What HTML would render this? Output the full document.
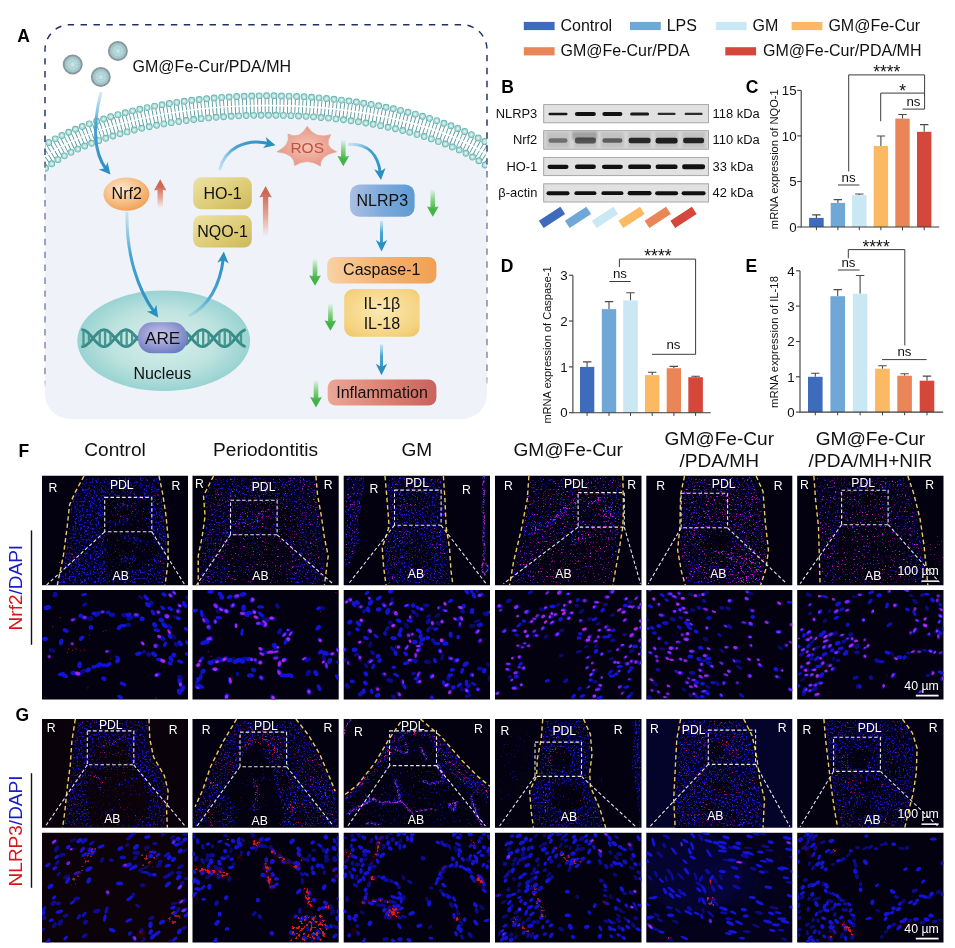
<!DOCTYPE html>
<html lang="en"><head><meta charset="utf-8"><title>Figure</title>
<style>html,body{margin:0;padding:0;background:#fff}svg{display:block}text{font-family:"Liberation Sans", Arial, Helvetica, sans-serif;fill:#111}.b{font-weight:bold;font-size:17.5px;fill:#000}.w{fill:#fff;font-size:12.2px}</style></head>
<body>
<svg width="955" height="948" viewBox="0 0 955 948">
<defs>
<linearGradient id="gOr" x1="0" y1="0" x2="1" y2="0"><stop offset="0" stop-color="#f8d2a4"/><stop offset=".5" stop-color="#f4b270"/><stop offset="1" stop-color="#f0a152"/></linearGradient>
<radialGradient id="gNrf" cx=".4" cy=".35" r=".7"><stop offset="0" stop-color="#fce9cc"/><stop offset=".55" stop-color="#f7c088"/><stop offset="1" stop-color="#ef9f55"/></radialGradient>
<radialGradient id="gYe" cx=".5" cy=".45" r=".75"><stop offset="0" stop-color="#fbe9b4"/><stop offset=".7" stop-color="#f5d380"/><stop offset="1" stop-color="#ecc25e"/></radialGradient>
<linearGradient id="gOl" x1="0" y1="0" x2="1" y2="1"><stop offset="0" stop-color="#ece2a4"/><stop offset=".6" stop-color="#dccb74"/><stop offset="1" stop-color="#ccb85c"/></linearGradient>
<linearGradient id="gBl" x1="0" y1="0" x2="1" y2="0"><stop offset="0" stop-color="#a9bfe4"/><stop offset=".5" stop-color="#7eaadb"/><stop offset="1" stop-color="#5d9bd3"/></linearGradient>
<linearGradient id="gRd" x1="0" y1="0" x2="1" y2="0"><stop offset="0" stop-color="#eba696"/><stop offset=".6" stop-color="#da7c6e"/><stop offset="1" stop-color="#c9625c"/></linearGradient>
<radialGradient id="gRos" cx=".5" cy=".5" r=".6"><stop offset="0" stop-color="#f5c4b4"/><stop offset="1" stop-color="#e38f80"/></radialGradient>
<radialGradient id="gNuc" cx=".5" cy=".5" r=".55"><stop offset="0" stop-color="#d9f0ec"/><stop offset=".55" stop-color="#bfe3e0"/><stop offset="1" stop-color="#8fcfce"/></radialGradient>
<radialGradient id="gAre" cx=".45" cy=".4" r=".7"><stop offset="0" stop-color="#c9c9ea"/><stop offset=".6" stop-color="#8f95cf"/><stop offset="1" stop-color="#5f78bd"/></radialGradient>
<radialGradient id="gNp" cx=".5" cy=".5" r=".5"><stop offset="0" stop-color="#cfe6e6"/><stop offset=".75" stop-color="#a9cfd2"/><stop offset="1" stop-color="#7f9aa3"/></radialGradient>
<linearGradient id="gGreen" x1="0" y1="0" x2="0" y2="1"><stop offset="0" stop-color="#4db848" stop-opacity="0"/><stop offset=".45" stop-color="#4db848" stop-opacity=".9"/><stop offset="1" stop-color="#3fae3f"/></linearGradient>
<linearGradient id="gRedUp" x1="0" y1="1" x2="0" y2="0"><stop offset="0" stop-color="#d8705f" stop-opacity="0"/><stop offset=".5" stop-color="#d8705f" stop-opacity=".85"/><stop offset="1" stop-color="#c95848"/></linearGradient>
<linearGradient id="gCell" x1="0" y1="0" x2="0" y2="1"><stop offset="0" stop-color="#e9eff8"/><stop offset="1" stop-color="#eef2f9"/></linearGradient>
<linearGradient id="gFadeV" x1="0" y1="0" x2="0" y2="1"><stop offset="0" stop-color="#fff"/><stop offset=".8" stop-color="#fff"/><stop offset="1" stop-color="#000"/></linearGradient>
<mask id="mFade" maskUnits="userSpaceOnUse" x="30" y="10" width="470" height="420"><rect x="30" y="10" width="470" height="420" fill="url(#gFadeM)"/></mask>
<linearGradient id="gFadeM" gradientUnits="userSpaceOnUse" x1="0" y1="10" x2="0" y2="430"><stop offset="0" stop-color="#fff"/><stop offset=".78" stop-color="#fff"/><stop offset=".93" stop-color="#000"/></linearGradient>
<marker id="ah" viewBox="0 0 10 10" refX="5" refY="5" markerWidth="5.2" markerHeight="5.2" orient="auto-start-reverse"><path d="M0,0 L10,5 L0,10 L2.5,5 Z" fill="#2f93c4"/></marker>
<filter id="blur1" x="-20%" y="-30%" width="140%" height="160%"><feGaussianBlur stdDeviation="0.55"/></filter>
<filter id="blur2" x="-20%" y="-50%" width="140%" height="200%"><feGaussianBlur stdDeviation="1.1"/></filter>
<filter id="blurN" x="-5%" y="-5%" width="110%" height="110%"><feGaussianBlur stdDeviation="0.6"/></filter>
<filter id="blurS" x="-5%" y="-5%" width="110%" height="110%"><feGaussianBlur stdDeviation="0.35"/></filter>
<filter id="hzb" x="-30%" y="-30%" width="160%" height="160%"><feGaussianBlur stdDeviation="7"/></filter>
<filter id="rough" x="-10%" y="-10%" width="120%" height="120%" color-interpolation-filters="sRGB"><feTurbulence type="fractalNoise" baseFrequency=".45" numOctaves="2" seed="4"/><feColorMatrix type="matrix" values="0 0 0 0 0 0 0 0 0 0 0 0 0 0 0 6 0 0 0 -2.6"/><feComposite in="SourceGraphic" operator="in"/><feGaussianBlur stdDeviation=".4"/></filter>
<filter id="rough2" x="-10%" y="-10%" width="120%" height="120%" color-interpolation-filters="sRGB"><feTurbulence type="fractalNoise" baseFrequency=".55" numOctaves="2" seed="9"/><feColorMatrix type="matrix" values="0 0 0 0 0 0 0 0 0 0 0 0 0 0 0 0 7 0 0 -3.4"/><feComposite in="SourceGraphic" operator="in"/><feGaussianBlur stdDeviation=".35"/></filter>
<linearGradient id="gBorder" gradientUnits="userSpaceOnUse" x1="0" y1="20" x2="0" y2="400"><stop offset="0" stop-color="#1f2e69"/><stop offset=".33" stop-color="#1f2e69"/><stop offset=".42" stop-color="#7c7fa4"/><stop offset=".93" stop-color="#8587a6"/><stop offset=".97" stop-color="#8587a6" stop-opacity="0"/></linearGradient>
</defs>
<g id="panelA"><clipPath id="cpBox"><path d="M45,49.7 A25,25 0 0 1 70,24.7 L462,24.7 A25,25 0 0 1 487,49.7 L487,394 A25,25 0 0 1 462,419 L70,419 A25,25 0 0 1 45,394 Z"/></clipPath><g clip-path="url(#cpBox)"><path d="M20,179.4 A258,103 0 0 1 512,175.6 L512,440 L20,440 Z" fill="#eff3f9"/><path d="M30,168.3 A258,103 0 0 1 502,165.6" fill="none" stroke="#fff" stroke-width="25"/><path d="M30,168.3 A258,103 0 0 1 502,165.6" fill="none" stroke="#4f9499" stroke-width="16.5" stroke-dasharray="0.85 2.9"/><path d="M30,168.3 A258,103 0 0 1 502,165.6" fill="none" stroke="#fff" stroke-width="1.4"/><path d="M30,154.9 A270,112.7 0 0 1 502,152.6" fill="none" stroke="#6db3b5" stroke-width="6.9" stroke-linecap="round" stroke-dasharray="0 7.5"/><path d="M30,154.9 A270,112.7 0 0 1 502,152.6" fill="none" stroke="#a9dcd8" stroke-width="5.1" stroke-linecap="round" stroke-dasharray="0 7.5"/><path d="M30,154.9 A270,112.7 0 0 1 502,152.6" fill="none" stroke="#def3e6" stroke-width="2.6" stroke-linecap="round" stroke-dasharray="0 7.5"/><path d="M30,184.2 A246,93.3 0 0 1 502,180.3" fill="none" stroke="#6db3b5" stroke-width="6.9" stroke-linecap="round" stroke-dasharray="0 7.5"/><path d="M30,184.2 A246,93.3 0 0 1 502,180.3" fill="none" stroke="#a9dcd8" stroke-width="5.1" stroke-linecap="round" stroke-dasharray="0 7.5"/><path d="M30,184.2 A246,93.3 0 0 1 502,180.3" fill="none" stroke="#def3e6" stroke-width="2.6" stroke-linecap="round" stroke-dasharray="0 7.5"/></g><path d="M45,400 L45,49.7 A25,25 0 0 1 70,24.7 L462,24.7 A25,25 0 0 1 487,49.7 L487,400" fill="none" stroke="url(#gBorder)" stroke-width="1.45" stroke-dasharray="6.4 6.5"/><text class="b" x="17.2" y="42">A</text><circle cx="72.7" cy="64.5" r="9.2" fill="url(#gNp)" stroke="#8b9399" stroke-width="1.5"/><circle cx="72.7" cy="64.5" r="6.3" fill="none" stroke="#8fbcc4" stroke-width="1.6" stroke-dasharray="0.9 1.1" opacity=".8"/><circle cx="72.7" cy="64.5" r="3" fill="none" stroke="#9cc6cc" stroke-width="1.6" stroke-dasharray="0.9 1.1" opacity=".8"/><circle cx="117.9" cy="51" r="9.2" fill="url(#gNp)" stroke="#8b9399" stroke-width="1.5"/><circle cx="117.9" cy="51" r="6.3" fill="none" stroke="#8fbcc4" stroke-width="1.6" stroke-dasharray="0.9 1.1" opacity=".8"/><circle cx="117.9" cy="51" r="3" fill="none" stroke="#9cc6cc" stroke-width="1.6" stroke-dasharray="0.9 1.1" opacity=".8"/><circle cx="100.8" cy="77" r="9.2" fill="url(#gNp)" stroke="#8b9399" stroke-width="1.5"/><circle cx="100.8" cy="77" r="6.3" fill="none" stroke="#8fbcc4" stroke-width="1.6" stroke-dasharray="0.9 1.1" opacity=".8"/><circle cx="100.8" cy="77" r="3" fill="none" stroke="#9cc6cc" stroke-width="1.6" stroke-dasharray="0.9 1.1" opacity=".8"/><text x="132.6" y="72" font-size="16">GM@Fe-Cur/PDA/MH</text><ellipse cx="163.7" cy="340.7" rx="86.4" ry="50.3" fill="url(#gNuc)"/><polyline points="82.5,329.8 84,330.1 85.5,330.8 87,331.9 88.5,333.2 90,334.7 91.5,336.4 93,338.2 94.5,340 96,341.7 97.5,343.2 99,344.5 100.5,345.6 102,346.3 103.5,346.6 105,346.5 106.5,346.1 108,345.3 109.5,344.1 111,342.7 112.5,341.1 114,339.4 115.5,337.6 117,335.8 118.5,334.2 120,332.7 121.5,331.5 123,330.6 124.5,330 126,329.8 127.5,330 129,330.6 130.5,331.5 132,332.7 133.5,334.2 135,335.8 136.5,337.6 138,339.4" fill="none" stroke="#3a8c88" stroke-width="2.9" stroke-linecap="round" stroke-linejoin="round"/><polyline points="82.5,346.6 84,346.3 85.5,345.6 87,344.5 88.5,343.2 90,341.7 91.5,340 93,338.2 94.5,336.4 96,334.7 97.5,333.2 99,331.9 100.5,330.8 102,330.1 103.5,329.8 105,329.9 106.5,330.3 108,331.1 109.5,332.3 111,333.7 112.5,335.3 114,337 115.5,338.8 117,340.6 118.5,342.2 120,343.7 121.5,344.9 123,345.8 124.5,346.4 126,346.6 127.5,346.4 129,345.8 130.5,344.9 132,343.7 133.5,342.2 135,340.6 136.5,338.8 138,337" fill="none" stroke="#3a8c88" stroke-width="2.9" stroke-linecap="round" stroke-linejoin="round"/><path d="M83.5,330.6 V345.8" stroke="#469692" stroke-width="2.3"/><path d="M88.9,334.2 V342.2" stroke="#469692" stroke-width="2.3"/><path d="M99.7,331.9 V344.5" stroke="#469692" stroke-width="2.3"/><path d="M105.1,330.5 V345.9" stroke="#469692" stroke-width="2.3"/><path d="M110.5,333.8 V342.6" stroke="#469692" stroke-width="2.3"/><path d="M121.3,332.2 V344.2" stroke="#469692" stroke-width="2.3"/><path d="M126.7,330.4 V346" stroke="#469692" stroke-width="2.3"/><path d="M132.1,333.4 V343" stroke="#469692" stroke-width="2.3"/><polyline points="186,332.3 187.5,333.7 189,335.3 190.5,337 192,338.8 193.5,340.6 195,342.2 196.5,343.7 198,344.9 199.5,345.8 201,346.4 202.5,346.6 204,346.4 205.5,345.8 207,344.9 208.5,343.7 210,342.2 211.5,340.6 213,338.8 214.5,337 216,335.3 217.5,333.7 219,332.3 220.5,331.1 222,330.3 223.5,329.9 225,329.8 226.5,330.1 228,330.8 229.5,331.9 231,333.2 232.5,334.7 234,336.4 235.5,338.2 237,340 238.5,341.7 240,343.2 241.5,344.5 243,345.6 244.5,346.3" fill="none" stroke="#3a8c88" stroke-width="2.9" stroke-linecap="round" stroke-linejoin="round"/><polyline points="186,344.1 187.5,342.7 189,341.1 190.5,339.4 192,337.6 193.5,335.8 195,334.2 196.5,332.7 198,331.5 199.5,330.6 201,330 202.5,329.8 204,330 205.5,330.6 207,331.5 208.5,332.7 210,334.2 211.5,335.8 213,337.6 214.5,339.4 216,341.1 217.5,342.7 219,344.1 220.5,345.3 222,346.1 223.5,346.5 225,346.6 226.5,346.3 228,345.6 229.5,344.5 231,343.2 232.5,341.7 234,340 235.5,338.2 237,336.4 238.5,334.7 240,333.2 241.5,331.9 243,330.8 244.5,330.1" fill="none" stroke="#3a8c88" stroke-width="2.9" stroke-linecap="round" stroke-linejoin="round"/><path d="M187,333.8 V342.6" stroke="#469692" stroke-width="2.3"/><path d="M197.8,332.2 V344.2" stroke="#469692" stroke-width="2.3"/><path d="M203.2,330.4 V346" stroke="#469692" stroke-width="2.3"/><path d="M208.6,333.4 V343" stroke="#469692" stroke-width="2.3"/><path d="M219.4,332.5 V343.9" stroke="#469692" stroke-width="2.3"/><path d="M224.8,330.4 V346" stroke="#469692" stroke-width="2.3"/><path d="M230.2,333 V343.4" stroke="#469692" stroke-width="2.3"/><path d="M241,332.9 V343.5" stroke="#469692" stroke-width="2.3"/><rect x="138" y="322.3" width="49" height="31" rx="14" fill="url(#gAre)"/><text x="162.6" y="344" font-size="17.2" text-anchor="middle">ARE</text><text x="162.3" y="379.4" font-size="16" text-anchor="middle">Nucleus</text><linearGradient id="ba1" gradientUnits="userSpaceOnUse" x1="100" y1="92" x2="108" y2="172"><stop offset="0" stop-color="#7fc4e2" stop-opacity=".35"/><stop offset=".4" stop-color="#3f9fd0" stop-opacity=".95"/><stop offset="1" stop-color="#2b8fc2"/></linearGradient><linearGradient id="ba2" gradientUnits="userSpaceOnUse" x1="127" y1="212" x2="156" y2="312"><stop offset="0" stop-color="#7fc4e2" stop-opacity=".35"/><stop offset=".4" stop-color="#3f9fd0" stop-opacity=".95"/><stop offset="1" stop-color="#2b8fc2"/></linearGradient><linearGradient id="ba3" gradientUnits="userSpaceOnUse" x1="190" y1="316" x2="224" y2="256"><stop offset="0" stop-color="#7fc4e2" stop-opacity=".35"/><stop offset=".4" stop-color="#3f9fd0" stop-opacity=".95"/><stop offset="1" stop-color="#2b8fc2"/></linearGradient><linearGradient id="ba4" gradientUnits="userSpaceOnUse" x1="219" y1="170" x2="272" y2="145"><stop offset="0" stop-color="#7fc4e2" stop-opacity=".35"/><stop offset=".4" stop-color="#3f9fd0" stop-opacity=".95"/><stop offset="1" stop-color="#2b8fc2"/></linearGradient><linearGradient id="ba5" gradientUnits="userSpaceOnUse" x1="348" y1="145" x2="381" y2="176"><stop offset="0" stop-color="#7fc4e2" stop-opacity=".35"/><stop offset=".4" stop-color="#3f9fd0" stop-opacity=".95"/><stop offset="1" stop-color="#2b8fc2"/></linearGradient><linearGradient id="ba6" gradientUnits="userSpaceOnUse" x1="381.5" y1="221" x2="381.5" y2="250"><stop offset="0" stop-color="#7fc4e2" stop-opacity=".35"/><stop offset=".4" stop-color="#3f9fd0" stop-opacity=".95"/><stop offset="1" stop-color="#2b8fc2"/></linearGradient><linearGradient id="ba7" gradientUnits="userSpaceOnUse" x1="381.5" y1="344" x2="381.5" y2="374"><stop offset="0" stop-color="#7fc4e2" stop-opacity=".35"/><stop offset=".4" stop-color="#3f9fd0" stop-opacity=".95"/><stop offset="1" stop-color="#2b8fc2"/></linearGradient><path d="M101,92 C94,120 92,150 106,169" fill="none" stroke="url(#ba1)" stroke-width="3"/><path d="M110.5,174.5 L98.7,169.4 L105.2,168.2 L107.5,162 Z" fill="#2b8fc2"/><path d="M127,212 C126,255 138,290 155,313" fill="none" stroke="url(#ba2)" stroke-width="3"/><path d="M158.2,317.5 L146.9,311.4 L153.5,310.7 L156.3,304.8 Z" fill="#2b8fc2"/><path d="M189,316 C208,306 220,286 223.4,258" fill="none" stroke="url(#ba3)" stroke-width="3"/><path d="M223.8,251.6 L228.7,263.5 L223.2,259.9 L217.3,262.7 Z" fill="#2b8fc2"/><path d="M219.5,170 C225,148 246,138 269,143.5" fill="none" stroke="url(#ba4)" stroke-width="3"/><path d="M275.5,145.3 L263,148.1 L267.5,143.3 L265.7,136.9 Z" fill="#2b8fc2"/><path d="M348,144.5 C368,143 378,155 380.3,173" fill="none" stroke="url(#ba5)" stroke-width="3"/><path d="M381,180 L374.1,169.2 L380.1,171.8 L385.5,168 Z" fill="#2b8fc2"/><path d="M381.5,221 L381.5,246" fill="none" stroke="url(#ba6)" stroke-width="3"/><path d="M381.5,251.6 L375.8,240.1 L381.5,243.3 L387.2,240.1 Z" fill="#2b8fc2"/><path d="M381.5,344.5 L381.5,369" fill="none" stroke="url(#ba7)" stroke-width="3"/><path d="M381.5,375.2 L375.8,363.7 L381.5,366.9 L387.2,363.7 Z" fill="#2b8fc2"/><ellipse cx="126.4" cy="194.2" rx="23" ry="16.6" fill="url(#gNrf)"/><text x="126.7" y="199.2" font-size="16" text-anchor="middle">Nrf2</text><rect x="193.2" y="177.3" width="58.6" height="32" rx="8" fill="url(#gOl)"/><text x="222.5" y="198.6" font-size="16" text-anchor="middle">HO-1</text><rect x="193.2" y="215.3" width="58.6" height="32.2" rx="8" fill="url(#gOl)"/><text x="222.5" y="236.8" font-size="16" text-anchor="middle">NQO-1</text><path d="M307.2,126.4 Q315.6,139.7 330.7,134.7 Q323.1,146.2 336.5,151.8 Q319.8,155 320.3,166 Q307.2,157.2 294.6,165.6 Q295.1,153.6 277,151.8 Q290.8,145 288,134.2 Q299.7,140 307.2,126.4 Z" fill="url(#gRos)" stroke="#e7a192" stroke-width=".8" stroke-linejoin="round"/><text x="307.2" y="152.8" font-size="15.5" text-anchor="middle" style="fill:#c0503f">ROS</text><rect x="350" y="184.5" width="64.6" height="32.3" rx="9.5" fill="url(#gBl)"/><text x="382.3" y="205.9" font-size="16" text-anchor="middle">NLRP3</text><rect x="327.2" y="256.9" width="109.2" height="26.7" rx="8" fill="url(#gOr)"/><text x="381.8" y="275.4" font-size="16" text-anchor="middle">Caspase-1</text><rect x="344.2" y="289" width="75.4" height="47.7" rx="9" fill="url(#gYe)"/><text x="381.9" y="308.6" font-size="16" text-anchor="middle">IL-1β</text><text x="381.9" y="328.6" font-size="16" text-anchor="middle">IL-18</text><rect x="327.7" y="379.4" width="108.7" height="26.2" rx="8" fill="url(#gRd)"/><text x="382" y="397.6" font-size="16" text-anchor="middle">Inflammation</text><linearGradient id="gg0" gradientUnits="userSpaceOnUse" x1="343.3" y1="139.5" x2="343.3" y2="159.3"><stop offset="0" stop-color="#7fd07a" stop-opacity="0"/><stop offset=".5" stop-color="#7fd07a" stop-opacity=".9"/><stop offset="1" stop-color="#43b347"/></linearGradient><path d="M341,139.5 L345.6,139.5 L345.6,156.6 L349.2,156 L343.3,166.3 L337.4,156 L341,156.6 Z" fill="url(#gg0)"/><linearGradient id="gg1" gradientUnits="userSpaceOnUse" x1="432.8" y1="189" x2="432.8" y2="209.8"><stop offset="0" stop-color="#7fd07a" stop-opacity="0"/><stop offset=".5" stop-color="#7fd07a" stop-opacity=".9"/><stop offset="1" stop-color="#43b347"/></linearGradient><path d="M430.5,189 L435.1,189 L435.1,207.1 L438.7,206.5 L432.8,216.8 L426.9,206.5 L430.5,207.1 Z" fill="url(#gg1)"/><linearGradient id="gg2" gradientUnits="userSpaceOnUse" x1="315" y1="258.5" x2="315" y2="278.7"><stop offset="0" stop-color="#7fd07a" stop-opacity="0"/><stop offset=".5" stop-color="#7fd07a" stop-opacity=".9"/><stop offset="1" stop-color="#43b347"/></linearGradient><path d="M312.7,258.5 L317.3,258.5 L317.3,276 L320.9,275.4 L315,285.7 L309.1,275.4 L312.7,276 Z" fill="url(#gg2)"/><linearGradient id="gg3" gradientUnits="userSpaceOnUse" x1="330.4" y1="303" x2="330.4" y2="323.7"><stop offset="0" stop-color="#7fd07a" stop-opacity="0"/><stop offset=".5" stop-color="#7fd07a" stop-opacity=".9"/><stop offset="1" stop-color="#43b347"/></linearGradient><path d="M328.1,303 L332.7,303 L332.7,321 L336.2,320.4 L330.4,330.7 L324.5,320.4 L328.1,321 Z" fill="url(#gg3)"/><linearGradient id="gg4" gradientUnits="userSpaceOnUse" x1="316" y1="379.5" x2="316" y2="400.4"><stop offset="0" stop-color="#7fd07a" stop-opacity="0"/><stop offset=".5" stop-color="#7fd07a" stop-opacity=".9"/><stop offset="1" stop-color="#43b347"/></linearGradient><path d="M313.7,379.5 L318.3,379.5 L318.3,397.7 L321.9,397.1 L316,407.4 L310.1,397.1 L313.7,397.7 Z" fill="url(#gg4)"/><linearGradient id="gg5" gradientUnits="userSpaceOnUse" x1="160.2" y1="208" x2="160.2" y2="186.2"><stop offset="0" stop-color="#e59a88" stop-opacity="0"/><stop offset=".5" stop-color="#e59a88" stop-opacity=".9"/><stop offset="1" stop-color="#cd6855"/></linearGradient><path d="M157.5,208 L162.9,208 L162.9,190 L166.4,190.6 L160.2,179.2 L154,190.6 L157.5,190 Z" fill="url(#gg5)"/><linearGradient id="gg6" gradientUnits="userSpaceOnUse" x1="265.6" y1="237" x2="265.6" y2="193"><stop offset="0" stop-color="#e59a88" stop-opacity="0"/><stop offset=".5" stop-color="#e59a88" stop-opacity=".9"/><stop offset="1" stop-color="#cd6855"/></linearGradient><path d="M262.9,237 L268.3,237 L268.3,196.8 L271.8,197.4 L265.6,186 L259.4,197.4 L262.9,196.8 Z" fill="url(#gg6)"/></g>
<g id="legend"><rect x="523.8" y="21.9" width="30.8" height="8.2" fill="#3f6bbd"/><text x="560.5" y="30.6" font-size="16">Control</text><rect x="630" y="21.9" width="30.8" height="8.2" fill="#6fa8d6"/><text x="666.7" y="30.6" font-size="16">LPS</text><rect x="715.8" y="21.9" width="30.8" height="8.2" fill="#c9e8f3"/><text x="752.5" y="30.6" font-size="16">GM</text><rect x="791.6" y="21.9" width="30.8" height="8.2" fill="#fbb963"/><text x="828.4" y="30.6" font-size="16">GM@Fe-Cur</text><rect x="523.8" y="47.2" width="30.8" height="8.2" fill="#ea8558"/><text x="560.5" y="55.9" font-size="16">GM@Fe-Cur/PDA</text><rect x="725.3" y="47.2" width="30.8" height="8.2" fill="#d4473a"/><text x="763" y="55.9" font-size="16">GM@Fe-Cur/PDA/MH</text></g>
<g id="blot"><text class="b" x="501.2" y="93">B</text><text class="b" x="745.8" y="93">C</text><text class="b" x="500.8" y="271.6">D</text><text class="b" x="745.4" y="272">E</text><rect x="543.7" y="104.6" width="164.8" height="18.2" fill="#e1e1e1" stroke="#a0a0a0" stroke-width=".9"/><rect x="548.5" y="112.7" width="19" height="2.6" rx="1.3" fill="#0d0d0d" opacity="0.95" filter="url(#blur1)"/><rect x="574.9" y="111.9" width="21" height="4.2" rx="2.1" fill="#0d0d0d" opacity="0.98" filter="url(#blur1)"/><rect x="602.4" y="112.1" width="20" height="3.8" rx="1.9" fill="#0d0d0d" opacity="0.97" filter="url(#blur1)"/><rect x="630.1" y="112.5" width="19" height="3" rx="1.5" fill="#0d0d0d" opacity="0.93" filter="url(#blur1)"/><rect x="657.6" y="112.8" width="18" height="2.3" rx="1.1" fill="#0d0d0d" opacity="0.85" filter="url(#blur1)"/><rect x="684.6" y="112.8" width="18" height="2.3" rx="1.1" fill="#0d0d0d" opacity="0.85" filter="url(#blur1)"/><text x="537.3" y="118.1" font-size="12.9" text-anchor="end">NLRP3</text><text x="712.6" y="118.1" font-size="12.9">118 kDa</text><rect x="543.7" y="130.7" width="164.8" height="18.5" fill="#d6d6d6" stroke="#a0a0a0" stroke-width=".9"/><rect x="546.5" y="132.2" width="23" height="15.5" fill="#b9b9b9" opacity=".7" filter="url(#blur2)"/><rect x="573.9" y="132.2" width="23" height="15.5" fill="#b9b9b9" opacity=".7" filter="url(#blur2)"/><rect x="600.9" y="132.2" width="23" height="15.5" fill="#b9b9b9" opacity=".7" filter="url(#blur2)"/><rect x="628.1" y="132.2" width="23" height="15.5" fill="#b9b9b9" opacity=".7" filter="url(#blur2)"/><rect x="655.1" y="132.2" width="23" height="15.5" fill="#b9b9b9" opacity=".7" filter="url(#blur2)"/><rect x="682.1" y="132.2" width="23" height="15.5" fill="#b9b9b9" opacity=".7" filter="url(#blur2)"/><rect x="572" y="131.7" width="25" height="8" fill="#9a9a9a" opacity=".8" filter="url(#blur2)"/><rect x="548.5" y="138.3" width="19" height="4.4" rx="2.2" fill="#0d0d0d" opacity="0.45" filter="url(#blur1)"/><rect x="574.9" y="137.6" width="21" height="5.9" rx="2.2" fill="#0d0d0d" opacity="0.6" filter="url(#blur1)"/><rect x="602.4" y="138.2" width="20" height="4.6" rx="2.2" fill="#0d0d0d" opacity="0.55" filter="url(#blur1)"/><rect x="628.6" y="137.8" width="22" height="5.4" rx="2.2" fill="#0d0d0d" opacity="0.85" filter="url(#blur1)"/><rect x="655.6" y="137.8" width="22" height="5.6" rx="2.2" fill="#0d0d0d" opacity="0.9" filter="url(#blur1)"/><rect x="683.1" y="137.8" width="21" height="5.4" rx="2.2" fill="#0d0d0d" opacity="0.88" filter="url(#blur1)"/><text x="537.3" y="144.3" font-size="12.9" text-anchor="end">Nrf2</text><text x="712.6" y="144.3" font-size="12.9">110 kDa</text><rect x="543.7" y="157.4" width="164.8" height="18.2" fill="#e1e1e1" stroke="#a0a0a0" stroke-width=".9"/><rect x="547.5" y="164.7" width="21" height="4.2" rx="2.1" fill="#0d0d0d" opacity="0.98" filter="url(#blur1)"/><rect x="574.9" y="164.6" width="21" height="4.4" rx="2.2" fill="#0d0d0d" opacity="0.98" filter="url(#blur1)"/><rect x="601.9" y="164.7" width="21" height="4.2" rx="2.1" fill="#0d0d0d" opacity="0.98" filter="url(#blur1)"/><rect x="628.1" y="164.5" width="23" height="4.6" rx="2.2" fill="#0d0d0d" opacity="0.98" filter="url(#blur1)"/><rect x="655.6" y="164.5" width="22" height="4.6" rx="2.2" fill="#0d0d0d" opacity="0.98" filter="url(#blur1)"/><rect x="682.1" y="164.3" width="23" height="5" rx="2.2" fill="#0d0d0d" opacity="0.98" filter="url(#blur1)"/><text x="537.3" y="170.9" font-size="12.9" text-anchor="end">HO-1</text><text x="712.6" y="170.9" font-size="12.9">33 kDa</text><rect x="543.7" y="183.8" width="164.8" height="18.2" fill="#e1e1e1" stroke="#a0a0a0" stroke-width=".9"/><rect x="546.5" y="191.2" width="23" height="4" rx="2" fill="#0d0d0d" opacity="0.98" filter="url(#blur1)"/><rect x="574.4" y="191.3" width="22" height="3.8" rx="1.9" fill="#0d0d0d" opacity="0.98" filter="url(#blur1)"/><rect x="601.4" y="191.3" width="22" height="3.8" rx="1.9" fill="#0d0d0d" opacity="0.98" filter="url(#blur1)"/><rect x="627.6" y="191.1" width="24" height="4.2" rx="2.1" fill="#0d0d0d" opacity="0.98" filter="url(#blur1)"/><rect x="655.1" y="191.2" width="23" height="4" rx="2" fill="#0d0d0d" opacity="0.98" filter="url(#blur1)"/><rect x="681.6" y="191.2" width="24" height="4" rx="2" fill="#0d0d0d" opacity="0.98" filter="url(#blur1)"/><text x="537.3" y="197.3" font-size="12.9" text-anchor="end">β-actin</text><text x="712.6" y="197.3" font-size="12.9">42 kDa</text><rect x="-12.8" y="-4.4" width="25.6" height="8.8" fill="#3f6bbd" transform="translate(552,217.4) rotate(-33)"/><rect x="-12.8" y="-4.4" width="25.6" height="8.8" fill="#6fa8d6" transform="translate(578,217.4) rotate(-33)"/><rect x="-12.8" y="-4.4" width="25.6" height="8.8" fill="#c9e8f3" transform="translate(605,217.4) rotate(-33)"/><rect x="-12.8" y="-4.4" width="25.6" height="8.8" fill="#fbb963" transform="translate(631.6,217.4) rotate(-33)"/><rect x="-12.8" y="-4.4" width="25.6" height="8.8" fill="#ea8558" transform="translate(657.7,217.4) rotate(-33)"/><rect x="-12.8" y="-4.4" width="25.6" height="8.8" fill="#d4473a" transform="translate(683.5,217.4) rotate(-33)"/></g>
<g id="chartC"><path d="M816.4,217.9 V214.9 M812.2,214.9 H820.6" stroke="#4a4a4a" stroke-width="1.1" fill="none"/><rect x="809.1" y="217.9" width="14.6" height="9.1" fill="#3f6bbd"/><path d="M816.4,227 v3.2" stroke="#3c3c3c" stroke-width="1"/><path d="M837.9,202.9 V199.6 M833.7,199.6 H842.1" stroke="#4a4a4a" stroke-width="1.1" fill="none"/><rect x="830.7" y="202.9" width="14.4" height="24.1" fill="#6fa8d6"/><path d="M837.9,227 v3.2" stroke="#3c3c3c" stroke-width="1"/><path d="M859.3,195.1 V194 M855.1,194 H863.5" stroke="#4a4a4a" stroke-width="1.1" fill="none"/><rect x="852.1" y="195.1" width="14.4" height="31.9" fill="#c9e8f3"/><path d="M859.3,227 v3.2" stroke="#3c3c3c" stroke-width="1"/><path d="M880.9,146 V136 M876.7,136 H885.1" stroke="#4a4a4a" stroke-width="1.1" fill="none"/><rect x="873.7" y="146" width="14.4" height="81" fill="#fbb963"/><path d="M880.9,227 v3.2" stroke="#3c3c3c" stroke-width="1"/><path d="M902.5,118.6 V114.5 M898.3,114.5 H906.7" stroke="#4a4a4a" stroke-width="1.1" fill="none"/><rect x="895.3" y="118.6" width="14.4" height="108.4" fill="#ea8558"/><path d="M902.5,227 v3.2" stroke="#3c3c3c" stroke-width="1"/><path d="M924.2,131.8 V124.6 M920,124.6 H928.4" stroke="#4a4a4a" stroke-width="1.1" fill="none"/><rect x="917" y="131.8" width="14.4" height="95.2" fill="#d4473a"/><path d="M924.2,227 v3.2" stroke="#3c3c3c" stroke-width="1"/><path d="M801.2,90.4 V227 H939.2" stroke="#3c3c3c" stroke-width="1.1" fill="none"/><path d="M801.2,227 h-4" stroke="#3c3c3c" stroke-width="1.1"/><text x="796.6" y="231.7" font-size="13.3" text-anchor="end">0</text><path d="M801.2,181.5 h-4" stroke="#3c3c3c" stroke-width="1.1"/><text x="796.6" y="186.2" font-size="13.3" text-anchor="end">5</text><path d="M801.2,135.9 h-4" stroke="#3c3c3c" stroke-width="1.1"/><text x="796.6" y="140.6" font-size="13.3" text-anchor="end">10</text><path d="M801.2,90.4 h-4" stroke="#3c3c3c" stroke-width="1.1"/><text x="796.6" y="95.1" font-size="13.3" text-anchor="end">15</text><text transform="translate(778.2,159.2) rotate(-90)" font-size="11.15" text-anchor="middle">mRNA expression of NQO-1</text><path d="M848.7,171.4 V74.9 H924.6 V109.1 M880.7,121.2 V93.1 H924.6 M902.5,109.1 H924.6" stroke="#3c3c3c" stroke-width="1" fill="none"/><text x="886.8" y="78.2" font-size="17.5" text-anchor="middle">****</text><text x="902.6" y="96.6" font-size="17.5" text-anchor="middle">*</text><text x="913.4" y="106.2" font-size="13.3" text-anchor="middle">ns</text><path d="M838,185 H859.3" stroke="#3c3c3c" stroke-width="1" fill="none"/><text x="848.6" y="181.8" font-size="13.3" text-anchor="middle">ns</text></g>
<g id="chartD"><path d="M587.1,366.9 V361.9 M582.9,361.9 H591.4" stroke="#4a4a4a" stroke-width="1.1" fill="none"/><rect x="580" y="366.9" width="14.3" height="45.8" fill="#3f6bbd"/><path d="M587.1,412.7 v3.2" stroke="#3c3c3c" stroke-width="1"/><path d="M609,309.1 V301.6 M604.8,301.6 H613.2" stroke="#4a4a4a" stroke-width="1.1" fill="none"/><rect x="601.8" y="309.1" width="14.4" height="103.6" fill="#6fa8d6"/><path d="M609,412.7 v3.2" stroke="#3c3c3c" stroke-width="1"/><path d="M630.5,300.4 V292.8 M626.3,292.8 H634.7" stroke="#4a4a4a" stroke-width="1.1" fill="none"/><rect x="623.2" y="300.4" width="14.6" height="112.3" fill="#c9e8f3"/><path d="M630.5,412.7 v3.2" stroke="#3c3c3c" stroke-width="1"/><path d="M652.2,375.1 V372.2 M648,372.2 H656.4" stroke="#4a4a4a" stroke-width="1.1" fill="none"/><rect x="645" y="375.1" width="14.4" height="37.6" fill="#fbb963"/><path d="M652.2,412.7 v3.2" stroke="#3c3c3c" stroke-width="1"/><path d="M673.9,368.2 V366.4 M669.6,366.4 H678.1" stroke="#4a4a4a" stroke-width="1.1" fill="none"/><rect x="666.7" y="368.2" width="14.3" height="44.5" fill="#ea8558"/><path d="M673.9,412.7 v3.2" stroke="#3c3c3c" stroke-width="1"/><path d="M695.6,377.2 V376.2 M691.4,376.2 H699.8" stroke="#4a4a4a" stroke-width="1.1" fill="none"/><rect x="688.3" y="377.2" width="14.6" height="35.5" fill="#d4473a"/><path d="M695.6,412.7 v3.2" stroke="#3c3c3c" stroke-width="1"/><path d="M572.9,275.2 V412.7 H710.7" stroke="#3c3c3c" stroke-width="1.1" fill="none"/><path d="M572.9,412.7 h-4" stroke="#3c3c3c" stroke-width="1.1"/><text x="567.6" y="417.4" font-size="13.3" text-anchor="end">0</text><path d="M572.9,366.9 h-4" stroke="#3c3c3c" stroke-width="1.1"/><text x="567.6" y="371.6" font-size="13.3" text-anchor="end">1</text><path d="M572.9,321 h-4" stroke="#3c3c3c" stroke-width="1.1"/><text x="567.6" y="325.7" font-size="13.3" text-anchor="end">2</text><path d="M572.9,275.2 h-4" stroke="#3c3c3c" stroke-width="1.1"/><text x="567.6" y="279.9" font-size="13.3" text-anchor="end">3</text><text transform="translate(550.8,345) rotate(-90)" font-size="11.05" text-anchor="middle">mRNA expression of Caspase-1</text><path d="M619.4,267.1 V259.1 H695.6 V354.3" stroke="#3c3c3c" stroke-width="1" fill="none"/><text x="657.9" y="262.2" font-size="17.5" text-anchor="middle">****</text><path d="M609.4,281.5 H630.7" stroke="#3c3c3c" stroke-width="1" fill="none"/><text x="620" y="278.3" font-size="13.3" text-anchor="middle">ns</text><path d="M652.1,354.3 H695.6" stroke="#3c3c3c" stroke-width="1" fill="none"/><text x="673.5" y="349.4" font-size="13.3" text-anchor="middle">ns</text></g>
<g id="chartE"><path d="M815.3,376.8 V373.3 M811.1,373.3 H819.5" stroke="#4a4a4a" stroke-width="1.1" fill="none"/><rect x="808" y="376.8" width="14.6" height="35.3" fill="#3f6bbd"/><path d="M815.3,412.1 v3.2" stroke="#3c3c3c" stroke-width="1"/><path d="M837.7,296.2 V289.6 M833.5,289.6 H841.9" stroke="#4a4a4a" stroke-width="1.1" fill="none"/><rect x="830.4" y="296.2" width="14.6" height="115.9" fill="#6fa8d6"/><path d="M837.7,412.1 v3.2" stroke="#3c3c3c" stroke-width="1"/><path d="M860.1,293.8 V275.5 M855.9,275.5 H864.3" stroke="#4a4a4a" stroke-width="1.1" fill="none"/><rect x="852.8" y="293.8" width="14.6" height="118.3" fill="#c9e8f3"/><path d="M860.1,412.1 v3.2" stroke="#3c3c3c" stroke-width="1"/><path d="M882.5,368.7 V365.7 M878.2,365.7 H886.7" stroke="#4a4a4a" stroke-width="1.1" fill="none"/><rect x="875.1" y="368.7" width="14.7" height="43.4" fill="#fbb963"/><path d="M882.5,412.1 v3.2" stroke="#3c3c3c" stroke-width="1"/><path d="M904.6,375.7 V373.7 M900.4,373.7 H908.8" stroke="#4a4a4a" stroke-width="1.1" fill="none"/><rect x="897.3" y="375.7" width="14.6" height="36.4" fill="#ea8558"/><path d="M904.6,412.1 v3.2" stroke="#3c3c3c" stroke-width="1"/><path d="M927,380.7 V376.1 M922.8,376.1 H931.2" stroke="#4a4a4a" stroke-width="1.1" fill="none"/><rect x="919.7" y="380.7" width="14.6" height="31.4" fill="#d4473a"/><path d="M927,412.1 v3.2" stroke="#3c3c3c" stroke-width="1"/><path d="M800,270.8 V412.1 H943.2" stroke="#3c3c3c" stroke-width="1.1" fill="none"/><path d="M800,412.1 h-4" stroke="#3c3c3c" stroke-width="1.1"/><text x="794.6" y="416.8" font-size="13.3" text-anchor="end">0</text><path d="M800,376.8 h-4" stroke="#3c3c3c" stroke-width="1.1"/><text x="794.6" y="381.5" font-size="13.3" text-anchor="end">1</text><path d="M800,341.5 h-4" stroke="#3c3c3c" stroke-width="1.1"/><text x="794.6" y="346.2" font-size="13.3" text-anchor="end">2</text><path d="M800,306.1 h-4" stroke="#3c3c3c" stroke-width="1.1"/><text x="794.6" y="310.8" font-size="13.3" text-anchor="end">3</text><path d="M800,270.8 h-4" stroke="#3c3c3c" stroke-width="1.1"/><text x="794.6" y="275.5" font-size="13.3" text-anchor="end">4</text><text transform="translate(778.3,342) rotate(-90)" font-size="11.3" text-anchor="middle">mRNA expression of IL-18</text><path d="M848.3,258.3 V249.6 H904.8 V345.5" stroke="#3c3c3c" stroke-width="1" fill="none"/><text x="876.1" y="252.8" font-size="17.5" text-anchor="middle">****</text><path d="M837.9,270 H859.6" stroke="#3c3c3c" stroke-width="1" fill="none"/><text x="848.5" y="267" font-size="13.3" text-anchor="middle">ns</text><path d="M882,359.6 H926.7" stroke="#3c3c3c" stroke-width="1" fill="none"/><text x="904.4" y="356.4" font-size="13.3" text-anchor="middle">ns</text></g>
<g id="micro"><text x="115" y="455.9" font-size="19.1" text-anchor="middle">Control</text><text x="265.6" y="455.9" font-size="19.1" text-anchor="middle">Periodontitis</text><text x="416.9" y="455.9" font-size="19.1" text-anchor="middle">GM</text><text x="568.2" y="455.9" font-size="19.1" text-anchor="middle">GM@Fe-Cur</text><text x="719.3" y="444.8" font-size="19.1" text-anchor="middle">GM@Fe-Cur</text><text x="719.3" y="466.8" font-size="19.1" text-anchor="middle">/PDA/MH</text><text x="870.4" y="444.8" font-size="19.1" text-anchor="middle">GM@Fe-Cur</text><text x="870.4" y="466.8" font-size="19.1" text-anchor="middle">/PDA/MH+NIR</text><text class="b" x="18.4" y="456.8">F</text><text class="b" x="15.6" y="721.4">G</text><text transform="translate(22.2,630.4) rotate(-90)" font-size="19"><tspan style="fill:#d8161a">Nrf2</tspan><tspan style="fill:#171bcc">/DAPI</tspan></text><path d="M31.5,530.4 V644.8" stroke="#111" stroke-width="1.4"/><text transform="translate(22.2,886.4) rotate(-90)" font-size="19"><tspan style="fill:#d8161a">NLRP3</tspan><tspan style="fill:#171bcc">/DAPI</tspan></text><path d="M31.5,773.2 V887.8" stroke="#111" stroke-width="1.4"/><clipPath id="cp00"><rect x="0" y="-.3" width="146" height="109.6"/></clipPath><g transform="translate(42,476)" clip-path="url(#cp00)"><filter id="fb00" filterUnits="userSpaceOnUse" x="-2" y="-2" width="152" height="114" color-interpolation-filters="sRGB"><feGaussianBlur in="SourceGraphic" stdDeviation="1.1"/><feColorMatrix type="luminanceToAlpha" result="d"/><feTurbulence type="fractalNoise" baseFrequency=".52" numOctaves="2" seed="3" result="n"/><feColorMatrix in="n" type="matrix" values="0 0 0 0 .1 0 0 0 0 .1 0 0 0 0 .9 1 0 0 0 0" result="na"/><feComposite in="na" in2="d" operator="in"/><feComponentTransfer><feFuncA type="linear" slope="6.5" intercept="-3.4"/></feComponentTransfer><feGaussianBlur stdDeviation=".4"/><feComponentTransfer><feFuncA type="linear" slope=".9" intercept="0"/></feComponentTransfer><feColorMatrix result="sp" type="matrix" values="1 0 0 0 0 0 1 0 0 0 0 0 1 0 0 0 0 0 1 0"/><feColorMatrix in="d" type="matrix" values="0 0 0 0 0 0 0 0 0 0 0 0 0 0 .5 0 0 0 1.1 -.9" result="u"/><feMerge><feMergeNode in="u"/><feMergeNode in="sp"/></feMerge></filter><filter id="fr00" filterUnits="userSpaceOnUse" x="-2" y="-2" width="152" height="114" color-interpolation-filters="sRGB"><feGaussianBlur in="SourceGraphic" stdDeviation="1.1"/><feColorMatrix type="luminanceToAlpha" result="d"/><feTurbulence type="fractalNoise" baseFrequency=".6" numOctaves="2" seed="44" result="n"/><feColorMatrix in="n" type="matrix" values="0 0 0 0 .8 0 0 0 0 .1 0 0 0 0 .5 1 0 0 0 0" result="na"/><feComposite in="na" in2="d" operator="in"/><feComponentTransfer><feFuncA type="linear" slope="8" intercept="-4.3"/></feComponentTransfer><feGaussianBlur stdDeviation=".3"/></filter><rect x="-2" y="-2" width="152" height="114" fill="#03010f"/><g filter="url(#fb00)"><rect x="-2" y="-2" width="152" height="114" fill="#000"/><polygon points="42,0 32.9,16.8 27.5,29 25.2,50.5 21.4,79.5 18.3,94.8 15.3,109 123.1,109 126.1,85.6 126.1,61.2 123.8,38.2 120.8,18.3 117,0" fill="#efefef"/><polygon points="64.2,22.9 107,22.9 107,56.6 116.2,73.4 107,87.1 91.7,93.3 70.3,99.4 61.2,85.6 64.2,64.2 58.1,50.5" fill="#cdcdcd"/><polyline points="73.4,31.3 91.7,29" fill="none" stroke="#fbfbfb" stroke-width="5.8" stroke-linecap="round" stroke-linejoin="round"/><polyline points="68.8,47.7 87.1,42.8" fill="none" stroke="#fbfbfb" stroke-width="5.3" stroke-linecap="round" stroke-linejoin="round"/><polyline points="84.1,61.2 99.4,65.7" fill="none" stroke="#f6f6f6" stroke-width="6.7" stroke-linecap="round" stroke-linejoin="round"/><polyline points="79.5,83.8 91.7,81" fill="none" stroke="#f6f6f6" stroke-width="6.2" stroke-linecap="round" stroke-linejoin="round"/><polygon points="22.9,79.5 64.2,71.9 61.2,109 16.8,109" fill="#fbfbfb"/><polygon points="30.6,18.3 61.2,21.4 58.1,50.5 30.6,73.4" fill="#f6f6f6"/><polygon points="110.1,30.6 123.8,38.2 125.4,73.4 113.1,64.2" fill="#fbfbfb"/></g><g filter="url(#fr00)"><rect x="-2" y="-2" width="152" height="114" fill="#000"/><polygon points="42,0 25.2,50.5 15.3,109 123.1,109 126.1,61.2 117,0" fill="#c2c2c2"/><circle cx="18" cy="87.1" r="2.7" fill="#f6f6f6"/></g><polyline points="42,0 32.9,16.8 27.5,29 25.2,50.5 21.4,79.5 18.3,94.8 15.3,109" fill="none" stroke="#ecc866" stroke-width="1.4" stroke-dasharray="4.4 2.9" stroke-linejoin="round"/><polyline points="117,0 120.8,18.3 123.8,38.2 126.1,61.2 126.1,85.6 123.1,109" fill="none" stroke="#ecc866" stroke-width="1.4" stroke-dasharray="4.4 2.9" stroke-linejoin="round"/><rect x="62.7" y="21.4" width="47.1" height="34.4" fill="none" stroke="#e6e6e6" stroke-width="1.1" stroke-dasharray="3.5 2.3"/><polyline points="62.7,55.8 4.6,109" fill="none" stroke="#e6e6e6" stroke-width="1.1" stroke-dasharray="3.5 2.3" stroke-linejoin="round"/><polyline points="109.8,55.8 142.9,109" fill="none" stroke="#e6e6e6" stroke-width="1.1" stroke-dasharray="3.5 2.3" stroke-linejoin="round"/><text class="w" x="11" y="15.7" text-anchor="middle">R</text><text class="w" x="79.8" y="13.1" text-anchor="middle">PDL</text><text class="w" x="133.8" y="14.1" text-anchor="middle">R</text><text class="w" x="78.7" y="104.3" text-anchor="middle">AB</text></g>
<clipPath id="cp01"><rect x=".5" y="-.3" width="146.2" height="109.6"/></clipPath><g transform="translate(192,476)" clip-path="url(#cp01)"><filter id="fb01" filterUnits="userSpaceOnUse" x="-2" y="-2" width="152" height="114" color-interpolation-filters="sRGB"><feGaussianBlur in="SourceGraphic" stdDeviation="1.1"/><feColorMatrix type="luminanceToAlpha" result="d"/><feTurbulence type="fractalNoise" baseFrequency=".52" numOctaves="2" seed="8" result="n"/><feColorMatrix in="n" type="matrix" values="0 0 0 0 .1 0 0 0 0 .1 0 0 0 0 .9 1 0 0 0 0" result="na"/><feComposite in="na" in2="d" operator="in"/><feComponentTransfer><feFuncA type="linear" slope="6.5" intercept="-3.4"/></feComponentTransfer><feGaussianBlur stdDeviation=".4"/><feComponentTransfer><feFuncA type="linear" slope=".9" intercept="0"/></feComponentTransfer><feColorMatrix result="sp" type="matrix" values="1 0 0 0 0 0 1 0 0 0 0 0 1 0 0 0 0 0 1 0"/><feColorMatrix in="d" type="matrix" values="0 0 0 0 0 0 0 0 0 0 0 0 0 0 .5 0 0 0 1.1 -.9" result="u"/><feMerge><feMergeNode in="u"/><feMergeNode in="sp"/></feMerge></filter><filter id="fr01" filterUnits="userSpaceOnUse" x="-2" y="-2" width="152" height="114" color-interpolation-filters="sRGB"><feGaussianBlur in="SourceGraphic" stdDeviation="1.1"/><feColorMatrix type="luminanceToAlpha" result="d"/><feTurbulence type="fractalNoise" baseFrequency=".6" numOctaves="2" seed="49" result="n"/><feColorMatrix in="n" type="matrix" values="0 0 0 0 .8 0 0 0 0 .1 0 0 0 0 .8 1 0 0 0 0" result="na"/><feComposite in="na" in2="d" operator="in"/><feComponentTransfer><feFuncA type="linear" slope="8" intercept="-4.3"/></feComponentTransfer><feGaussianBlur stdDeviation=".3"/></filter><rect x="-2" y="-2" width="152" height="114" fill="#03010f"/><g filter="url(#fb01)"><rect x="-2" y="-2" width="152" height="114" fill="#000"/><polygon points="21.5,0 11.5,20 13.1,40 10,61.6 6.2,80 6.2,109 132.4,109 136.2,80 132.4,61.6 129.3,40 125.5,18.5 123.9,0" fill="#e7e7e7"/><polygon points="40,60 86.2,60 100.1,73.9 98.5,109 35.4,109 32.3,80" fill="#c8c8c8"/><polygon points="86.2,29.2 104.7,30.8 106.2,64.6 87.7,61.6" fill="#cfcfcf"/><polygon points="41.6,27.7 83.1,27.7 83.1,57 41.6,57" fill="#d8d8d8"/><polyline points="44.6,46.5 64.6,44.9 69.6,36.9" fill="none" stroke="#fbfbfb" stroke-width="4.9" stroke-linecap="round" stroke-linejoin="round"/><polyline points="61.6,64.6 67,75.4" fill="none" stroke="#eeeeee" stroke-width="3.6" stroke-linecap="round" stroke-linejoin="round"/><polyline points="50.8,90.8 58.5,95.4" fill="none" stroke="#eeeeee" stroke-width="3.6" stroke-linecap="round" stroke-linejoin="round"/></g><g filter="url(#fr01)"><rect x="-2" y="-2" width="152" height="114" fill="#000"/><polygon points="21.5,0 10,61.6 6.2,109 132.4,109 132.4,61.6 123.9,0" fill="#d0d0d0"/><polyline points="44.6,46.5 64.6,44.9 69.6,36.9" fill="none" stroke="#f2f2f2" stroke-width="4.9" stroke-linecap="round" stroke-linejoin="round"/></g><polyline points="21.5,0 11.5,20 13.1,40 10,61.6 6.2,80 6.2,109" fill="none" stroke="#ecc866" stroke-width="1.4" stroke-dasharray="4.4 2.9" stroke-linejoin="round"/><polyline points="123.9,0 125.5,18.5 129.3,40 132.4,61.6 136.2,80 132.4,109" fill="none" stroke="#ecc866" stroke-width="1.4" stroke-dasharray="4.4 2.9" stroke-linejoin="round"/><rect x="38.5" y="24.3" width="46.6" height="34.5" fill="none" stroke="#e6e6e6" stroke-width="1.1" stroke-dasharray="3.5 2.3"/><polyline points="38.5,58.8 4.6,109" fill="none" stroke="#e6e6e6" stroke-width="1.1" stroke-dasharray="3.5 2.3" stroke-linejoin="round"/><polyline points="85.1,58.8 140.8,107.7" fill="none" stroke="#e6e6e6" stroke-width="1.1" stroke-dasharray="3.5 2.3" stroke-linejoin="round"/><text class="w" x="7.4" y="11.9" text-anchor="middle">R</text><text class="w" x="71.6" y="14.7" text-anchor="middle">PDL</text><text class="w" x="136.2" y="12.7" text-anchor="middle">R</text><text class="w" x="68.5" y="104.3" text-anchor="middle">AB</text></g>
<clipPath id="cp02"><rect x="-.3" y="-.3" width="146.3" height="109.6"/></clipPath><g transform="translate(344,476)" clip-path="url(#cp02)"><filter id="fb02" filterUnits="userSpaceOnUse" x="-2" y="-2" width="152" height="114" color-interpolation-filters="sRGB"><feGaussianBlur in="SourceGraphic" stdDeviation="1.1"/><feColorMatrix type="luminanceToAlpha" result="d"/><feTurbulence type="fractalNoise" baseFrequency=".52" numOctaves="2" seed="13" result="n"/><feColorMatrix in="n" type="matrix" values="0 0 0 0 .1 0 0 0 0 .1 0 0 0 0 .9 1 0 0 0 0" result="na"/><feComposite in="na" in2="d" operator="in"/><feComponentTransfer><feFuncA type="linear" slope="6.5" intercept="-3.4"/></feComponentTransfer><feGaussianBlur stdDeviation=".4"/><feComponentTransfer><feFuncA type="linear" slope=".9" intercept="0"/></feComponentTransfer><feColorMatrix result="sp" type="matrix" values="1 0 0 0 0 0 1 0 0 0 0 0 1 0 0 0 0 0 1 0"/><feColorMatrix in="d" type="matrix" values="0 0 0 0 0 0 0 0 0 0 0 0 0 0 .5 0 0 0 1.1 -.9" result="u"/><feMerge><feMergeNode in="u"/><feMergeNode in="sp"/></feMerge></filter><filter id="fr02" filterUnits="userSpaceOnUse" x="-2" y="-2" width="152" height="114" color-interpolation-filters="sRGB"><feGaussianBlur in="SourceGraphic" stdDeviation="1.1"/><feColorMatrix type="luminanceToAlpha" result="d"/><feTurbulence type="fractalNoise" baseFrequency=".6" numOctaves="2" seed="54" result="n"/><feColorMatrix in="n" type="matrix" values="0 0 0 0 .8 0 0 0 0 .1 0 0 0 0 .8 1 0 0 0 0" result="na"/><feComposite in="na" in2="d" operator="in"/><feComponentTransfer><feFuncA type="linear" slope="8" intercept="-4.3"/></feComponentTransfer><feGaussianBlur stdDeviation=".3"/></filter><rect x="-2" y="-2" width="152" height="114" fill="#03010f"/><g filter="url(#fb02)"><rect x="-2" y="-2" width="152" height="114" fill="#000"/><polygon points="41,0 43.6,30.6 45.1,50.5 38.2,71.9 39.7,91.7 42,109 108.9,109 107,94.8 105.5,71.9 102.1,50.5 100.9,22.9 99.4,0" fill="#ececec"/><polygon points="0,0 22.9,0 20.6,22.9 16.1,45.9 17.1,64.2 9.2,85.6 0,97.8" fill="#ececec"/><polyline points="139.9,0 139.4,45.9 140.3,85.6" fill="none" stroke="#ffffff" stroke-width="4.4" stroke-linecap="round" stroke-linejoin="round"/><circle cx="141.4" cy="93.3" r="6.6" fill="#f2f2f2"/><circle cx="141.4" cy="93.3" r="3.1" fill="#c2c2c2"/><polygon points="58.1,18.3 79.5,16.8 76.4,30.6 61.2,30.6" fill="#dcdcdc"/><polygon points="64.2,73.4 85.6,71.9 88.7,91.7 65.7,91.7" fill="#dcdcdc"/></g><g filter="url(#fr02)"><rect x="-2" y="-2" width="152" height="114" fill="#000"/><polygon points="41,0 38.2,71.9 42,109 108.9,109 105.5,71.9 99.4,0" fill="#cdcdcd"/><polygon points="0,0 22.9,0 16.1,45.9 9.2,85.6 0,97.8" fill="#d4d4d4"/><polyline points="139.9,0 139.4,45.9 140.3,85.6" fill="none" stroke="#eeeeee" stroke-width="2.7" stroke-linecap="round" stroke-linejoin="round"/></g><polyline points="139.4,.3 140.1,4.5 139.2,7.1 139,11 140,14.6 139.6,18.6 139,22.8 140,27 138.5,30.2 138.8,35.1 140,38.8 140,42.5 140.3,46.4 139.1,50.3 139.6,54 139.8,57.2 139.5,61 139.5,64.3 140.5,69.3 140.9,72.5 140.2,76 139.5,79.2 140.1,81.7 139.8,85.7 138.5,88.6 137.8,91.5 138.8,95.5 140.9,98.9 142.4,96.1 143.7,93.5 143.4,90 140.6,87.1" fill="none" stroke="#2420d0" stroke-width="3" opacity=".55" stroke-linecap="round" stroke-linejoin="round" filter="url(#rough)"/><polyline points="139.4,.3 140.1,4.5 139.2,7.1 139,11 140,14.6 139.6,18.6 139,22.8 140,27 138.5,30.2 138.8,35.1 140,38.8 140,42.5 140.3,46.4 139.1,50.3 139.6,54 139.8,57.2 139.5,61 139.5,64.3 140.5,69.3 140.9,72.5 140.2,76 139.5,79.2 140.1,81.7 139.8,85.7 138.5,88.6 137.8,91.5 138.8,95.5 140.9,98.9 142.4,96.1 143.7,93.5 143.4,90 140.6,87.1" fill="none" stroke="#c832b4" stroke-width="1.9" opacity=".85" stroke-linecap="round" stroke-linejoin="round" filter="url(#rough2)"/><polyline points="41,0 43.6,30.6 45.1,50.5 38.2,71.9 39.7,91.7 42,109" fill="none" stroke="#ecc866" stroke-width="1.4" stroke-dasharray="4.4 2.9" stroke-linejoin="round"/><polyline points="99.4,0 100.9,22.9 102.1,50.5 105.5,71.9 107,94.8 108.9,109" fill="none" stroke="#ecc866" stroke-width="1.4" stroke-dasharray="4.4 2.9" stroke-linejoin="round"/><rect x="50.5" y="14.1" width="46.6" height="35.2" fill="none" stroke="#e6e6e6" stroke-width="1.1" stroke-dasharray="3.5 2.3"/><polyline points="50.5,49.2 4.6,107.8" fill="none" stroke="#e6e6e6" stroke-width="1.1" stroke-dasharray="3.5 2.3" stroke-linejoin="round"/><polyline points="97.1,49.2 142.2,107.8" fill="none" stroke="#e6e6e6" stroke-width="1.1" stroke-dasharray="3.5 2.3" stroke-linejoin="round"/><text class="w" x="29.8" y="17.2" text-anchor="middle">R</text><text class="w" x="73.1" y="11.1" text-anchor="middle">PDL</text><text class="w" x="122.3" y="18" text-anchor="middle">R</text><text class="w" x="71.9" y="101.7" text-anchor="middle">AB</text></g>
<clipPath id="cp03"><rect x="0" y="-.3" width="146.5" height="109.6"/></clipPath><g transform="translate(495,476)" clip-path="url(#cp03)"><filter id="fb03" filterUnits="userSpaceOnUse" x="-2" y="-2" width="152" height="114" color-interpolation-filters="sRGB"><feGaussianBlur in="SourceGraphic" stdDeviation="1.1"/><feColorMatrix type="luminanceToAlpha" result="d"/><feTurbulence type="fractalNoise" baseFrequency=".52" numOctaves="2" seed="18" result="n"/><feColorMatrix in="n" type="matrix" values="0 0 0 0 .1 0 0 0 0 .1 0 0 0 0 .9 1 0 0 0 0" result="na"/><feComposite in="na" in2="d" operator="in"/><feComponentTransfer><feFuncA type="linear" slope="6.5" intercept="-3.4"/></feComponentTransfer><feGaussianBlur stdDeviation=".4"/><feComponentTransfer><feFuncA type="linear" slope=".9" intercept="0"/></feComponentTransfer><feColorMatrix result="sp" type="matrix" values="1 0 0 0 0 0 1 0 0 0 0 0 1 0 0 0 0 0 1 0"/><feColorMatrix in="d" type="matrix" values="0 0 0 0 0 0 0 0 0 0 0 0 0 0 .5 0 0 0 1.1 -.9" result="u"/><feMerge><feMergeNode in="u"/><feMergeNode in="sp"/></feMerge></filter><filter id="fr03" filterUnits="userSpaceOnUse" x="-2" y="-2" width="152" height="114" color-interpolation-filters="sRGB"><feGaussianBlur in="SourceGraphic" stdDeviation="1.1"/><feColorMatrix type="luminanceToAlpha" result="d"/><feTurbulence type="fractalNoise" baseFrequency=".6" numOctaves="2" seed="59" result="n"/><feColorMatrix in="n" type="matrix" values="0 0 0 0 .8 0 0 0 0 .1 0 0 0 0 .8 1 0 0 0 0" result="na"/><feComposite in="na" in2="d" operator="in"/><feComponentTransfer><feFuncA type="linear" slope="8" intercept="-4.3"/></feComponentTransfer><feGaussianBlur stdDeviation=".3"/></filter><rect x="-2" y="-2" width="152" height="114" fill="#03010f"/><g filter="url(#fb03)"><rect x="-2" y="-2" width="152" height="114" fill="#000"/><polygon points="33.9,0 32.3,23.1 26.2,53.9 18.5,86.2 14.6,109 117.8,109 123.1,80 127.8,50.8 128.5,30.8 127.8,0" fill="#d9d9d9"/><polygon points="50.8,69.3 115.4,64.6 117,109 38.5,109" fill="#c2c2c2"/><polyline points="38.5,55.4 64.6,38.5 80,26.2" fill="none" stroke="#f2f2f2" stroke-width="6.7" stroke-linecap="round" stroke-linejoin="round"/><polyline points="92.4,29.2 107.7,21.5" fill="none" stroke="#f2f2f2" stroke-width="5.4" stroke-linecap="round" stroke-linejoin="round"/><circle cx="113.9" cy="36.9" r="7" fill="#f2f2f2"/></g><g filter="url(#fr03)"><rect x="-2" y="-2" width="152" height="114" fill="#000"/><polygon points="33.9,0 26.2,53.9 14.6,109 117.8,109 127.8,50.8 127.8,0" fill="#d4d4d4"/><polyline points="38.5,55.4 64.6,38.5 80,26.2" fill="none" stroke="#f6f6f6" stroke-width="6.7" stroke-linecap="round" stroke-linejoin="round"/><polyline points="92.4,29.2 107.7,21.5" fill="none" stroke="#f6f6f6" stroke-width="5.4" stroke-linecap="round" stroke-linejoin="round"/><circle cx="113.9" cy="36.9" r="7" fill="#f6f6f6"/><polyline points="80,66.2 92.4,58.5" fill="none" stroke="#f6f6f6" stroke-width="4.5" stroke-linecap="round" stroke-linejoin="round"/></g><polyline points="33.9,0 32.3,23.1 26.2,53.9 18.5,86.2 14.6,109" fill="none" stroke="#ecc866" stroke-width="1.4" stroke-dasharray="4.4 2.9" stroke-linejoin="round"/><polyline points="127.8,0 128.5,30.8 127.8,50.8 123.1,80 117.8,109" fill="none" stroke="#ecc866" stroke-width="1.4" stroke-dasharray="4.4 2.9" stroke-linejoin="round"/><rect x="83.1" y="16.6" width="46.2" height="34.5" fill="none" stroke="#e6e6e6" stroke-width="1.1" stroke-dasharray="3.5 2.3"/><polyline points="83.1,51.1 8.5,107.7" fill="none" stroke="#e6e6e6" stroke-width="1.1" stroke-dasharray="3.5 2.3" stroke-linejoin="round"/><polyline points="129.3,51.1 145.5,107.7" fill="none" stroke="#e6e6e6" stroke-width="1.1" stroke-dasharray="3.5 2.3" stroke-linejoin="round"/><text class="w" x="13.5" y="14.2" text-anchor="middle">R</text><text class="w" x="80.8" y="11.6" text-anchor="middle">PDL</text><text class="w" x="136.7" y="12.7" text-anchor="middle">R</text><text class="w" x="68.5" y="101.9" text-anchor="middle">AB</text></g>
<clipPath id="cp04"><rect x=".3" y="-.3" width="146" height="109.6"/></clipPath><g transform="translate(646,476)" clip-path="url(#cp04)"><filter id="fb04" filterUnits="userSpaceOnUse" x="-2" y="-2" width="152" height="114" color-interpolation-filters="sRGB"><feGaussianBlur in="SourceGraphic" stdDeviation="1.1"/><feColorMatrix type="luminanceToAlpha" result="d"/><feTurbulence type="fractalNoise" baseFrequency=".52" numOctaves="2" seed="23" result="n"/><feColorMatrix in="n" type="matrix" values="0 0 0 0 .1 0 0 0 0 .1 0 0 0 0 .9 1 0 0 0 0" result="na"/><feComposite in="na" in2="d" operator="in"/><feComponentTransfer><feFuncA type="linear" slope="6.5" intercept="-3.4"/></feComponentTransfer><feGaussianBlur stdDeviation=".4"/><feComponentTransfer><feFuncA type="linear" slope=".9" intercept="0"/></feComponentTransfer><feColorMatrix result="sp" type="matrix" values="1 0 0 0 0 0 1 0 0 0 0 0 1 0 0 0 0 0 1 0"/><feColorMatrix in="d" type="matrix" values="0 0 0 0 0 0 0 0 0 0 0 0 0 0 .5 0 0 0 1.1 -.9" result="u"/><feMerge><feMergeNode in="u"/><feMergeNode in="sp"/></feMerge></filter><filter id="fr04" filterUnits="userSpaceOnUse" x="-2" y="-2" width="152" height="114" color-interpolation-filters="sRGB"><feGaussianBlur in="SourceGraphic" stdDeviation="1.1"/><feColorMatrix type="luminanceToAlpha" result="d"/><feTurbulence type="fractalNoise" baseFrequency=".6" numOctaves="2" seed="64" result="n"/><feColorMatrix in="n" type="matrix" values="0 0 0 0 .8 0 0 0 0 .1 0 0 0 0 .8 1 0 0 0 0" result="na"/><feComposite in="na" in2="d" operator="in"/><feComponentTransfer><feFuncA type="linear" slope="8" intercept="-4.3"/></feComponentTransfer><feGaussianBlur stdDeviation=".3"/></filter><rect x="-2" y="-2" width="152" height="114" fill="#03010f"/><g filter="url(#fb04)"><rect x="-2" y="-2" width="152" height="114" fill="#000"/><polygon points="38.5,0 34.6,18.5 33.9,50.8 31.6,73.9 35.4,95.4 39.3,109 114.7,109 120.1,92.4 122.4,73.9 119.3,46.2 117,15.4 110.1,0" fill="#dedede"/><polygon points="58.5,55.4 83.1,55.4 86.2,67.7 83.1,83.1 61.6,80" fill="#c2c2c2"/><polyline points="66.2,75.4 80,77 86.2,83.1" fill="none" stroke="#f6f6f6" stroke-width="4" stroke-linecap="round" stroke-linejoin="round"/><circle cx="26.9" cy="11.1" r="1.2" fill="#ffffff"/><circle cx="52.3" cy="93.9" r="2.7" fill="#ffffff"/></g><g filter="url(#fr04)"><rect x="-2" y="-2" width="152" height="114" fill="#000"/><polygon points="38.5,0 33.9,50.8 31.6,73.9 39.3,109 114.7,109 122.4,73.9 119.3,46.2 110.1,0" fill="#d9d9d9"/><polygon points="58.5,55.4 83.1,55.4 86.2,67.7 83.1,83.1 61.6,80" fill="#c2c2c2"/><polyline points="66.2,75.4 80,77 86.2,83.1" fill="none" stroke="#fbfbfb" stroke-width="4" stroke-linecap="round" stroke-linejoin="round"/><polygon points="92.4,80 121.6,77 117,109 92.4,109" fill="#eeeeee"/></g><polyline points="38.5,0 34.6,18.5 33.9,50.8 31.6,73.9 35.4,95.4 39.3,109" fill="none" stroke="#ecc866" stroke-width="1.4" stroke-dasharray="4.4 2.9" stroke-linejoin="round"/><polyline points="110.1,0 117,15.4 119.3,46.2 122.4,73.9 120.1,92.4 114.7,109" fill="none" stroke="#ecc866" stroke-width="1.4" stroke-dasharray="4.4 2.9" stroke-linejoin="round"/><rect x="35.1" y="17.2" width="46.5" height="34.6" fill="none" stroke="#e6e6e6" stroke-width="1.1" stroke-dasharray="3.5 2.3"/><polyline points="35.1,51.9 2.3,107.7" fill="none" stroke="#e6e6e6" stroke-width="1.1" stroke-dasharray="3.5 2.3" stroke-linejoin="round"/><polyline points="81.6,51.9 140.8,107.7" fill="none" stroke="#e6e6e6" stroke-width="1.1" stroke-dasharray="3.5 2.3" stroke-linejoin="round"/><text class="w" x="14.6" y="14.2" text-anchor="middle">R</text><text class="w" x="77.7" y="11.6" text-anchor="middle">PDL</text><text class="w" x="132.1" y="14.2" text-anchor="middle">R</text><text class="w" x="72.3" y="101.9" text-anchor="middle">AB</text></g>
<clipPath id="cp05"><rect x=".2" y="-.3" width="146.3" height="109.6"/></clipPath><g transform="translate(797,476)" clip-path="url(#cp05)"><filter id="fb05" filterUnits="userSpaceOnUse" x="-2" y="-2" width="152" height="114" color-interpolation-filters="sRGB"><feGaussianBlur in="SourceGraphic" stdDeviation="1.1"/><feColorMatrix type="luminanceToAlpha" result="d"/><feTurbulence type="fractalNoise" baseFrequency=".52" numOctaves="2" seed="28" result="n"/><feColorMatrix in="n" type="matrix" values="0 0 0 0 .1 0 0 0 0 .1 0 0 0 0 .9 1 0 0 0 0" result="na"/><feComposite in="na" in2="d" operator="in"/><feComponentTransfer><feFuncA type="linear" slope="6.5" intercept="-3.4"/></feComponentTransfer><feGaussianBlur stdDeviation=".4"/><feComponentTransfer><feFuncA type="linear" slope=".9" intercept="0"/></feComponentTransfer><feColorMatrix result="sp" type="matrix" values="1 0 0 0 0 0 1 0 0 0 0 0 1 0 0 0 0 0 1 0"/><feColorMatrix in="d" type="matrix" values="0 0 0 0 0 0 0 0 0 0 0 0 0 0 .5 0 0 0 1.1 -.9" result="u"/><feMerge><feMergeNode in="u"/><feMergeNode in="sp"/></feMerge></filter><filter id="fr05" filterUnits="userSpaceOnUse" x="-2" y="-2" width="152" height="114" color-interpolation-filters="sRGB"><feGaussianBlur in="SourceGraphic" stdDeviation="1.1"/><feColorMatrix type="luminanceToAlpha" result="d"/><feTurbulence type="fractalNoise" baseFrequency=".6" numOctaves="2" seed="69" result="n"/><feColorMatrix in="n" type="matrix" values="0 0 0 0 .8 0 0 0 0 .1 0 0 0 0 .8 1 0 0 0 0" result="na"/><feComposite in="na" in2="d" operator="in"/><feComponentTransfer><feFuncA type="linear" slope="8" intercept="-4.3"/></feComponentTransfer><feGaussianBlur stdDeviation=".3"/></filter><rect x="-2" y="-2" width="152" height="114" fill="#03010f"/><g filter="url(#fb05)"><rect x="-2" y="-2" width="152" height="114" fill="#000"/><polygon points="16.9,0 18.5,23.1 21.5,50.8 22.3,80 23.1,109 130.8,109 129.3,92.4 127,69.3 123.1,43.1 117,18.5 110.8,0" fill="#dbdbdb"/><polygon points="46.2,50.8 92.4,50.8 107.7,77 107.7,109 40,109 38.5,77" fill="#c6c6c6"/><polygon points="52.3,30.8 86.2,27.7 89.3,46.2 52.3,47.7" fill="#cbcbcb"/><circle cx="72.3" cy="23.1" r="5.9" fill="#c7c7c7"/></g><g filter="url(#fr05)"><rect x="-2" y="-2" width="152" height="114" fill="#000"/><polygon points="16.9,0 21.5,50.8 23.1,109 130.8,109 127,69.3 110.8,0" fill="#d5d5d5"/><polygon points="46.2,50.8 92.4,50.8 107.7,77 107.7,109 40,109 38.5,77" fill="#d4d4d4"/><circle cx="57.7" cy="80.8" r="2.3" fill="#ffffff"/><polygon points="130.8,58.5 147,58.5 147,92.4 132.4,92.4" fill="#cfcfcf"/></g><polyline points="16.9,0 18.5,23.1 21.5,50.8 22.3,80 23.1,109" fill="none" stroke="#ecc866" stroke-width="1.4" stroke-dasharray="4.4 2.9" stroke-linejoin="round"/><polyline points="110.8,0 117,18.5 123.1,43.1 127,69.3 129.3,92.4 130.8,109" fill="none" stroke="#ecc866" stroke-width="1.4" stroke-dasharray="4.4 2.9" stroke-linejoin="round"/><rect x="44.6" y="14.2" width="46.5" height="34.5" fill="none" stroke="#e6e6e6" stroke-width="1.1" stroke-dasharray="3.5 2.3"/><polyline points="44.6,48.6 3.1,107.7" fill="none" stroke="#e6e6e6" stroke-width="1.1" stroke-dasharray="3.5 2.3" stroke-linejoin="round"/><polyline points="91.1,48.6 142.4,106.2" fill="none" stroke="#e6e6e6" stroke-width="1.1" stroke-dasharray="3.5 2.3" stroke-linejoin="round"/><text class="w" x="7.4" y="12.7" text-anchor="middle">R</text><text class="w" x="66.2" y="11.1" text-anchor="middle">PDL</text><text class="w" x="132.7" y="12.7" text-anchor="middle">R</text><text class="w" x="76.2" y="104.3" text-anchor="middle">AB</text><text class="w" x="141.8" y="99.4" text-anchor="end" style="font-size:12.3px">100 µm</text><rect x="124.4" y="104.4" width="17.2" height="1.5" fill="#fff"/></g>
<clipPath id="cp10"><rect x="0" y=".1" width="146" height="109.3"/></clipPath><g transform="translate(42,590)" clip-path="url(#cp10)"><rect x="-2" y="-2" width="152" height="114" fill="#03010f"/><g fill="#1416ee" opacity=".9" filter="url(#blurN)"><ellipse rx="3.2" ry="1.8" transform="translate(31.3 29.5) rotate(-20)" opacity=".7"/><ellipse rx="2.8" ry="2.1" transform="translate(39.2 25.9) rotate(21)"/><ellipse rx="3.1" ry="2.4" transform="translate(42.6 27.9) rotate(-1)" opacity=".7"/><ellipse rx="2.9" ry="2.4" transform="translate(48.5 28.6) rotate(-39)" opacity=".5"/><ellipse rx="2.6" ry="1.9" transform="translate(52.1 23.5) rotate(-6)"/><ellipse rx="3.4" ry="2.3" transform="translate(55.3 24.3) rotate(-39)" opacity=".8"/><ellipse rx="3.6" ry="1.7" transform="translate(59.9 22) rotate(-5)" opacity=".6"/><ellipse rx="2.5" ry="2.1" transform="translate(66.1 22.5) rotate(0)" opacity=".8"/><ellipse rx="2.9" ry="2.1" transform="translate(70 24.9) rotate(2)" opacity=".8"/><ellipse rx="3.7" ry="2.1" transform="translate(77.7 37.1) rotate(-42)"/><ellipse rx="2.7" ry="1.8" transform="translate(82 35.6) rotate(-2)"/><ellipse rx="3.2" ry="1.9" transform="translate(86.2 34.9) rotate(-8)" opacity=".6"/><ellipse rx="3.6" ry="2.2" transform="translate(87.9 27.9) rotate(-26)" opacity=".7"/><ellipse rx="3.5" ry="2.2" transform="translate(82.5 24.9) rotate(-10)" opacity=".6"/><ellipse rx="3" ry="2.1" transform="translate(86.7 24.8) rotate(-14)"/><ellipse rx="3" ry="2.4" transform="translate(94.4 25.1) rotate(6)"/><ellipse rx="2.6" ry="2.3" transform="translate(100.1 28.8) rotate(1)"/><ellipse rx="3.6" ry="2" transform="translate(19.5 84.2) rotate(-12)"/><ellipse rx="3.1" ry="2.1" transform="translate(23.1 85.9) rotate(23)"/><ellipse rx="2.9" ry="2.3" transform="translate(31.5 83) rotate(9)"/><ellipse rx="3.2" ry="2.3" transform="translate(36.1 83.9) rotate(12)"/><ellipse rx="3.3" ry="2" transform="translate(40.9 81.4) rotate(-27)" opacity=".6"/><ellipse rx="3.1" ry="2.2" transform="translate(46.1 79.9) rotate(-38)"/><ellipse rx="3.1" ry="1.8" transform="translate(52.2 76.7) rotate(-17)"/><ellipse rx="3.1" ry="2.4" transform="translate(57.2 75) rotate(-32)"/><ellipse rx="2.9" ry="1.8" transform="translate(62.2 75.1) rotate(-6)"/><ellipse rx="3.5" ry="1.9" transform="translate(66.5 74.7) rotate(-31)"/><ellipse rx="2.6" ry="2.3" transform="translate(75.5 71) rotate(-38)"/><ellipse rx="3" ry="1.8" transform="translate(75.7 67.8) rotate(-146)" opacity=".8"/><ellipse rx="2.4" ry="2.3" transform="translate(109 12.8) rotate(17)" opacity=".7"/><ellipse rx="3.7" ry="2.1" transform="translate(127.6 41.7) rotate(58)" opacity=".5"/><ellipse rx="2.6" ry="2" transform="translate(116.8 46.8) rotate(32)" opacity=".7"/><ellipse rx="2.9" ry="1.7" transform="translate(120.7 17.8) rotate(37)"/><ellipse rx="2.5" ry="1.8" transform="translate(144.1 39) rotate(43)"/><ellipse rx="3" ry="2" transform="translate(127.8 36.8) rotate(49)" opacity=".6"/><ellipse rx="3" ry="1.8" transform="translate(145.8 8.1) rotate(48)" opacity=".5"/><ellipse rx="3" ry="2" transform="translate(116.2 22.3) rotate(36)" opacity=".7"/><ellipse rx="2.9" ry="2.4" transform="translate(124.8 26.1) rotate(31)"/><ellipse rx="3.4" ry="2.1" transform="translate(129 68.8) rotate(59)"/><ellipse rx="3.2" ry="2.1" transform="translate(120.3 48.1) rotate(44)" opacity=".8"/><ellipse rx="3.3" ry="1.8" transform="translate(114.8 40.3) rotate(15)"/><ellipse rx="2.8" ry="2" transform="translate(128.8 5.2) rotate(42)" opacity=".8"/><ellipse rx="3.2" ry="2.3" transform="translate(138.1 53.4) rotate(56)"/><ellipse rx="2.6" ry="1.9" transform="translate(145.3 64.1) rotate(25)"/><ellipse rx="2.6" ry="2.3" transform="translate(136.5 21) rotate(63)"/><ellipse rx="3.3" ry="1.8" transform="translate(145.8 53.1) rotate(47)"/><ellipse rx="2.5" ry="1.7" transform="translate(132.4 26.8) rotate(33)" opacity=".4"/><ellipse rx="2.4" ry="2.3" transform="translate(131.7 64.9) rotate(16)"/><ellipse rx="3.4" ry="2.1" transform="translate(105.9 14.8) rotate(40)"/><ellipse rx="3.3" ry="1.8" transform="translate(138.2 71.6) rotate(18)"/><ellipse rx="3.1" ry="1.8" transform="translate(133.8 54.4) rotate(61)" opacity=".6"/><ellipse rx="3.3" ry="2.2" transform="translate(131.6 46.8) rotate(42)" opacity=".4"/><ellipse rx="3.1" ry="1.8" transform="translate(128.3 18.7) rotate(39)"/><ellipse rx="3.1" ry="2.1" transform="translate(128 46.1) rotate(59)"/><ellipse rx="3.1" ry="1.6" transform="translate(98.8 7.3) rotate(37)" opacity=".4"/><ellipse rx="2.8" ry="1.9" transform="translate(122 4.5) rotate(30)"/><ellipse rx="3.6" ry="1.9" transform="translate(104.2 7.6) rotate(51)"/><ellipse rx="2.5" ry="1.7" transform="translate(137.5 15.5) rotate(35)"/><ellipse rx="3.7" ry="2" transform="translate(142.5 14.5) rotate(57)"/><ellipse rx="3.7" ry="2.2" transform="translate(122.6 35.3) rotate(39)"/><ellipse rx="2.9" ry="2.3" transform="translate(112.7 34.8) rotate(59)"/><ellipse rx="2.9" ry="2.3" transform="translate(119.3 30) rotate(27)"/><ellipse rx="2.8" ry="1.6" transform="translate(131.8 2.7) rotate(45)"/><ellipse rx="2.8" ry="1.9" transform="translate(136.3 28.3) rotate(16)"/><ellipse rx="3.2" ry="1.8" transform="translate(111 22.6) rotate(63)"/><ellipse rx="3.3" ry="2.1" transform="translate(96.3 63.7) rotate(-14)"/><ellipse rx="2.4" ry="1.7" transform="translate(101.9 61.9) rotate(-25)" opacity=".6"/><ellipse rx="2.4" ry="2.3" transform="translate(106.6 64.4) rotate(26)" opacity=".6"/><ellipse rx="3.3" ry="2.1" transform="translate(112.1 64.2) rotate(40)"/><ellipse rx="3.4" ry="1.8" transform="translate(117.4 69.6) rotate(12)"/><ellipse rx="3.5" ry="2" transform="translate(120.2 70.8) rotate(20)" opacity=".5"/><ellipse rx="2.5" ry="1.9" transform="translate(128.1 73.4) rotate(17)"/><ellipse rx="3.3" ry="2.3" transform="translate(138.1 87.7) rotate(57)" opacity=".6"/><ellipse rx="3.6" ry="2.2" transform="translate(137.9 91.8) rotate(66)"/><ellipse rx="3.4" ry="2" transform="translate(138.7 94.8) rotate(75)" opacity=".6"/><ellipse rx="3.7" ry="2.1" transform="translate(140.6 98.8) rotate(117)"/><ellipse rx="3.2" ry="2.3" transform="translate(137.1 101.7) rotate(82)"/><ellipse rx="3" ry="2.4" transform="translate(13 4.6) rotate(106)" opacity=".7"/><ellipse rx="3" ry="1.6" transform="translate(42 4.6) rotate(162)"/><ellipse rx="3" ry="1.9" transform="translate(42.8 14.5) rotate(152)" opacity=".6"/><ellipse rx="3.8" ry="2.4" transform="translate(5.4 17.6) rotate(171)"/><ellipse rx="3.2" ry="2.1" transform="translate(23.7 40.5) rotate(27)"/><ellipse rx="2.4" ry="2.3" transform="translate(48.9 37.5) rotate(76)"/><ellipse rx="3.2" ry="2" transform="translate(39.7 48.2) rotate(134)"/><ellipse rx="3" ry="2.2" transform="translate(3.1 48.9) rotate(4)"/><ellipse rx="3.6" ry="2" transform="translate(19.1 52) rotate(101)"/><ellipse rx="2.5" ry="1.9" transform="translate(29.8 53.5) rotate(132)" opacity=".4"/><ellipse rx="3.5" ry="2.1" transform="translate(9.9 60.4) rotate(21)" opacity=".5"/><ellipse rx="2.4" ry="2" transform="translate(6.9 66.5) rotate(48)" opacity=".6"/><ellipse rx="2.9" ry="1.9" transform="translate(65.7 61.2) rotate(171)" opacity=".5"/><ellipse rx="2.7" ry="2.2" transform="translate(61.9 88.7) rotate(20)"/><ellipse rx="3.7" ry="1.8" transform="translate(81 94) rotate(26)"/><ellipse rx="3.4" ry="2.1" transform="translate(115.4 84.8) rotate(159)"/><ellipse rx="3.1" ry="1.8" transform="translate(100.1 53.5) rotate(50)" opacity=".5"/><ellipse rx="2.9" ry="2.2" transform="translate(113.9 55.8) rotate(162)"/><ellipse rx="2.9" ry="1.7" transform="translate(123.1 54.3) rotate(118)"/><ellipse rx="3" ry="1.9" transform="translate(78 107) rotate(28)"/><ellipse rx="3.3" ry="2.3" transform="translate(37.5 74.9) rotate(97)"/></g><g fill="#d02ad8" filter="url(#blurN)"><ellipse rx="2" ry="1.3" transform="translate(30.9 29.9) rotate(-20)" opacity=".7"/><ellipse rx="1.9" ry="1.6" transform="translate(42.7 27.4) rotate(-1)" opacity=".6"/><ellipse rx="1.7" ry="1.4" transform="translate(60.6 22) rotate(-5)" opacity=".6"/><ellipse rx="2.2" ry="1.3" transform="translate(94.2 24.7) rotate(6)" opacity=".6"/><ellipse rx="2.6" ry="1.9" transform="translate(35.7 83.5) rotate(12)" opacity=".8"/><ellipse rx="2.6" ry="1.2" transform="translate(127.1 41.8) rotate(58)" opacity=".9"/><ellipse rx="2" ry="1.5" transform="translate(117.2 46.5) rotate(32)" opacity=".8"/><ellipse rx="1.5" ry="1.6" transform="translate(116.4 22.2) rotate(36)" opacity=".8"/><ellipse rx="2.3" ry="2" transform="translate(125 26.4) rotate(31)" opacity=".7"/><ellipse rx="2.2" ry="1.4" transform="translate(128.2 5.4) rotate(42)" opacity=".7"/><ellipse rx="1.5" ry="1.4" transform="translate(135.7 21.3) rotate(63)" opacity=".6"/><ellipse rx="1.6" ry="1.3" transform="translate(137.6 15.8) rotate(35)" opacity=".8"/><ellipse rx="1.8" ry="1" transform="translate(132.4 2.9) rotate(45)" opacity=".8"/><ellipse rx="2.7" ry="1.7" transform="translate(120.9 70.8) rotate(20)" opacity=".9"/><ellipse rx="2" ry="1.5" transform="translate(138.4 94.4) rotate(75)" opacity=".8"/><ellipse rx="1.3" ry="1.5" transform="translate(30.3 53.8) rotate(132)" opacity=".7"/><ellipse rx="1.3" ry="1.5" transform="translate(7.3 66.6) rotate(48)" opacity=".7"/><ellipse rx="1.5" ry="1.2" transform="translate(65 61.4) rotate(171)" opacity=".8"/><ellipse rx="1.8" ry="1.5" transform="translate(114.7 85) rotate(159)" opacity=".8"/><ellipse rx="2.2" ry="1.3" transform="translate(100.8 53.4) rotate(50)" opacity=".9"/><ellipse rx="1.6" ry="1.9" transform="translate(113.4 55.9) rotate(162)" opacity=".6"/></g><circle cx="26.8" cy="58.9" r=".6" fill="#c01a28" opacity=".8"/><circle cx="30.6" cy="60.4" r=".6" fill="#c01a28" opacity=".8"/><circle cx="34.4" cy="59.3" r=".6" fill="#c01a28" opacity=".8"/><circle cx="38.2" cy="60.8" r=".6" fill="#c01a28" opacity=".8"/><circle cx="42.8" cy="59.9" r=".6" fill="#c01a28" opacity=".8"/><circle cx="47.4" cy="45.1" r=".6" fill="#c01a28" opacity=".8"/><circle cx="64.2" cy="40.5" r=".6" fill="#c01a28" opacity=".8"/><circle cx="18.3" cy="27.5" r=".6" fill="#c01a28" opacity=".8"/><circle cx="10.7" cy="36.7" r=".6" fill="#c01a28" opacity=".8"/><circle cx="61.2" cy="41.3" r=".6" fill="#c01a28" opacity=".8"/><circle cx="68.8" cy="68.8" r=".6" fill="#c01a28" opacity=".8"/><circle cx="113.9" cy="107.8" r=".6" fill="#c01a28" opacity=".8"/><circle cx="45.9" cy="97.8" r=".6" fill="#c01a28" opacity=".8"/><circle cx="25.2" cy="62.7" r=".6" fill="#c01a28" opacity=".8"/><circle cx="33.6" cy="58.1" r=".6" fill="#c01a28" opacity=".8"/></g>
<clipPath id="cp11"><rect x=".5" y=".1" width="146.2" height="109.3"/></clipPath><g transform="translate(192,590)" clip-path="url(#cp11)"><rect x="-2" y="-2" width="152" height="114" fill="#03010f"/><g fill="#1416ee" opacity=".9" filter="url(#blurN)"><ellipse rx="3.2" ry="2.4" transform="translate(18.6 72.6) rotate(0)"/><ellipse rx="3.4" ry="2.4" transform="translate(22.2 71.2) rotate(-15)" opacity=".7"/><ellipse rx="2.6" ry="1.8" transform="translate(25.2 71.6) rotate(-15)"/><ellipse rx="2.7" ry="2.3" transform="translate(27 68.9) rotate(-25)" opacity=".6"/><ellipse rx="3.6" ry="2" transform="translate(31.3 70) rotate(-20)"/><ellipse rx="3.2" ry="2.3" transform="translate(33.8 68.2) rotate(-5)" opacity=".6"/><ellipse rx="2.8" ry="2.2" transform="translate(37.5 70.3) rotate(-7)"/><ellipse rx="3.1" ry="2.2" transform="translate(41.2 69.1) rotate(-6)" opacity=".4"/><ellipse rx="3.6" ry="2.3" transform="translate(44 71.4) rotate(-17)"/><ellipse rx="3.3" ry="2.3" transform="translate(47.4 70.1) rotate(10)"/><ellipse rx="2.6" ry="2.3" transform="translate(50.5 71.4) rotate(-1)"/><ellipse rx="2.9" ry="1.7" transform="translate(52.8 68.5) rotate(12)" opacity=".7"/><ellipse rx="2.6" ry="2" transform="translate(56.2 69.1) rotate(-15)"/><ellipse rx="2.4" ry="2" transform="translate(59.4 69.3) rotate(5)"/><ellipse rx="2.6" ry="1.8" transform="translate(62.7 69.9) rotate(30)" opacity=".8"/><ellipse rx="2.5" ry="1.8" transform="translate(64.7 72.5) rotate(26)" opacity=".5"/><ellipse rx="2.7" ry="2.3" transform="translate(68.8 72.4) rotate(31)" opacity=".6"/><ellipse rx="2.5" ry="1.8" transform="translate(68.8 58.9) rotate(31)"/><ellipse rx="3.2" ry="1.8" transform="translate(69.8 63.6) rotate(25)" opacity=".8"/><ellipse rx="2.7" ry="1.9" transform="translate(73.6 62.4) rotate(-30)" opacity=".6"/><ellipse rx="3.3" ry="1.8" transform="translate(76.7 62.1) rotate(-19)" opacity=".8"/><ellipse rx="3.7" ry="2" transform="translate(80 61.9) rotate(-33)" opacity=".6"/><ellipse rx="3.6" ry="1.7" transform="translate(84.1 61.6) rotate(-12)" opacity=".5"/><ellipse rx="2.5" ry="2.1" transform="translate(85.3 57.7) rotate(-146)" opacity=".5"/><ellipse rx="3.4" ry="2.3" transform="translate(82.7 56.1) rotate(-121)"/><ellipse rx="3.4" ry="2.1" transform="translate(87.6 41.3) rotate(-59)" opacity=".7"/><ellipse rx="3.4" ry="1.6" transform="translate(92.2 44.5) rotate(-47)"/><ellipse rx="2.5" ry="1.7" transform="translate(96.3 40.1) rotate(-11)" opacity=".8"/><ellipse rx="3.4" ry="1.6" transform="translate(98.8 43.5) rotate(127)"/><ellipse rx="2.6" ry="2.4" transform="translate(96.1 49.3) rotate(126)"/><ellipse rx="3.8" ry="1.6" transform="translate(93.8 51.3) rotate(112)"/><ellipse rx="3.5" ry="2" transform="translate(51 23.3) rotate(4)"/><ellipse rx="3.4" ry="2.2" transform="translate(54.2 24.5) rotate(34)"/><ellipse rx="3.1" ry="2" transform="translate(56.9 23) rotate(-2)"/><ellipse rx="2.5" ry="2.3" transform="translate(62 22.1) rotate(39)"/><ellipse rx="2.9" ry="1.9" transform="translate(64.3 27.2) rotate(30)"/><ellipse rx="3.6" ry="1.8" transform="translate(68.9 24.3) rotate(40)"/><ellipse rx="2.6" ry="1.8" transform="translate(71.1 27.6) rotate(21)" opacity=".5"/><ellipse rx="2.8" ry="1.7" transform="translate(71.7 31.3) rotate(28)" opacity=".5"/><ellipse rx="2.9" ry="2.2" transform="translate(75.3 29.6) rotate(-12)" opacity=".7"/><ellipse rx="3.4" ry="2" transform="translate(80.2 28.5) rotate(5)"/><ellipse rx="3.2" ry="1.9" transform="translate(66.8 33.3) rotate(-3)"/><ellipse rx="2.9" ry="2.2" transform="translate(72.4 34.7) rotate(28)"/><ellipse rx="3" ry="2.4" transform="translate(72.9 34.9) rotate(106)" opacity=".7"/><ellipse rx="3.3" ry="2.4" transform="translate(23.8 15.8) rotate(49)"/><ellipse rx="2.7" ry="2.2" transform="translate(26.4 21) rotate(-5)" opacity=".5"/><ellipse rx="3.2" ry="1.8" transform="translate(29.5 19.3) rotate(33)"/><ellipse rx="3" ry="2.3" transform="translate(34.4 21.2) rotate(35)"/><ellipse rx="2.8" ry="1.9" transform="translate(3.1 20.6) rotate(-10)"/><ellipse rx="3.8" ry="1.7" transform="translate(9.7 23.4) rotate(85)"/><ellipse rx="3.6" ry="1.9" transform="translate(11.7 26.2) rotate(71)" opacity=".5"/><ellipse rx="2.9" ry="2" transform="translate(11.7 30.3) rotate(66)" opacity=".5"/><ellipse rx="3.1" ry="2.1" transform="translate(14.9 30.9) rotate(54)"/><ellipse rx="3" ry="2.3" transform="translate(16.9 37.1) rotate(65)"/><ellipse rx="2.8" ry="2.4" transform="translate(16.3 49.4) rotate(75)"/><ellipse rx="2.8" ry="2" transform="translate(19.3 48.6) rotate(63)" opacity=".7"/><ellipse rx="2.8" ry="2.4" transform="translate(14.6 51.9) rotate(170)"/><ellipse rx="3.2" ry="2.2" transform="translate(11.3 52.8) rotate(168)"/><ellipse rx="3.7" ry="2.3" transform="translate(6.2 75) rotate(-30)" opacity=".5"/><ellipse rx="2.5" ry="2" transform="translate(7.8 71.3) rotate(-21)" opacity=".6"/><ellipse rx="2.8" ry="1.7" transform="translate(9.8 68.9) rotate(-48)"/><ellipse rx="2.9" ry="2.2" transform="translate(11.1 81.3) rotate(132)"/><ellipse rx="3.7" ry="1.9" transform="translate(8.6 87.1) rotate(99)" opacity=".8"/><ellipse rx="2.6" ry="1.8" transform="translate(6 89.4) rotate(73)"/><ellipse rx="3.3" ry="2" transform="translate(5 93.4) rotate(73)" opacity=".7"/><ellipse rx="3.4" ry="1.7" transform="translate(5.8 97.3) rotate(18)"/><ellipse rx="3.5" ry="1.8" transform="translate(9 96.3) rotate(24)"/><ellipse rx="3.3" ry="1.9" transform="translate(18.5 1.8) rotate(-9)"/><ellipse rx="2.9" ry="2.1" transform="translate(28.2 4.2) rotate(35)"/><ellipse rx="2.4" ry="2.4" transform="translate(29.8 7.4) rotate(13)"/><ellipse rx="3.1" ry="2" transform="translate(37.5 6.9) rotate(-30)"/><ellipse rx="3.2" ry="2.3" transform="translate(44.4 6.4) rotate(-14)"/><ellipse rx="3.7" ry="2.2" transform="translate(51 4.4) rotate(-14)"/><ellipse rx="2.5" ry="1.8" transform="translate(126.5 18.4) rotate(-24)"/><ellipse rx="2.8" ry="2.3" transform="translate(130.1 18.2) rotate(4)" opacity=".5"/><ellipse rx="2.9" ry="1.7" transform="translate(112.7 68.8) rotate(-30)"/><ellipse rx="3.4" ry="1.9" transform="translate(115.9 70) rotate(-33)" opacity=".7"/><ellipse rx="2.9" ry="1.8" transform="translate(131.6 71.7) rotate(142)" opacity=".5"/><ellipse rx="3.3" ry="2.3" transform="translate(137.7 70.9) rotate(116)"/><ellipse rx="3.3" ry="1.6" transform="translate(140.2 63.9) rotate(167)" opacity=".7"/><ellipse rx="3.6" ry="1.8" transform="translate(131.7 67.5) rotate(78)" opacity=".6"/><ellipse rx="2.5" ry="1.8" transform="translate(146.7 72) rotate(2)"/><ellipse rx="3.7" ry="2.4" transform="translate(133.3 63.2) rotate(17)"/><ellipse rx="3.1" ry="1.9" transform="translate(146.4 60.2) rotate(59)"/><ellipse rx="3.4" ry="1.8" transform="translate(134.3 75.8) rotate(81)"/><ellipse rx="3" ry="1.8" transform="translate(128.4 62) rotate(142)"/><ellipse rx="3.6" ry="2" transform="translate(87.5 82.1) rotate(61)"/><ellipse rx="2.9" ry="1.9" transform="translate(90.4 85.3) rotate(-16)"/><ellipse rx="3.7" ry="2" transform="translate(95 85.5) rotate(-4)"/><ellipse rx="3.3" ry="2.1" transform="translate(98.3 85.5) rotate(21)"/><ellipse rx="2.9" ry="2.4" transform="translate(60 10) rotate(108)"/><ellipse rx="3.2" ry="2.3" transform="translate(51.6 17.7) rotate(91)"/><ellipse rx="3.1" ry="2.2" transform="translate(40.8 15.4) rotate(137)"/><ellipse rx="3.5" ry="1.7" transform="translate(68.5 16.9) rotate(0)"/><ellipse rx="3" ry="2" transform="translate(85.4 15.9) rotate(64)" opacity=".6"/><ellipse rx="3.2" ry="2.1" transform="translate(126.2 37.7) rotate(136)"/><ellipse rx="2.7" ry="2" transform="translate(127.8 50) rotate(38)"/><ellipse rx="3.7" ry="2.3" transform="translate(116.2 83.1) rotate(119)" opacity=".6"/><ellipse rx="3.4" ry="2.2" transform="translate(123.9 83.1) rotate(61)"/><ellipse rx="2.9" ry="2.3" transform="translate(69.3 87.7) rotate(39)"/><ellipse rx="3.5" ry="2.2" transform="translate(58.5 85.4) rotate(0)"/><ellipse rx="2.5" ry="1.8" transform="translate(45.4 83.9) rotate(67)" opacity=".6"/><ellipse rx="3.8" ry="2" transform="translate(23.1 79.3) rotate(4)"/><ellipse rx="3.8" ry="1.7" transform="translate(37.7 90.8) rotate(81)"/><ellipse rx="3.2" ry="2.2" transform="translate(34.6 106.2) rotate(111)"/><ellipse rx="3.5" ry="2.3" transform="translate(117 101.6) rotate(76)"/><ellipse rx="3.5" ry="1.9" transform="translate(127 97.7) rotate(66)"/><ellipse rx="3.3" ry="2.3" transform="translate(80.8 107.7) rotate(70)"/><ellipse rx="3.7" ry="1.7" transform="translate(145.5 87.7) rotate(59)"/><ellipse rx="2.8" ry="2.3" transform="translate(92.4 70) rotate(146)"/><ellipse rx="3.7" ry="2.2" transform="translate(87.7 73.9) rotate(101)"/><ellipse rx="3.7" ry="2.3" transform="translate(83.9 67.7) rotate(170)" opacity=".6"/><ellipse rx="3.8" ry="1.6" transform="translate(50 42.3) rotate(97)"/><ellipse rx="2.6" ry="1.7" transform="translate(43.9 35.4) rotate(87)"/><ellipse rx="2.8" ry="2.3" transform="translate(61.6 80) rotate(32)" opacity=".8"/><ellipse rx="3.2" ry="1.7" transform="translate(26.9 27.7) rotate(10)"/><ellipse rx="2.7" ry="2.1" transform="translate(23.1 31.6) rotate(81)"/></g><g fill="#d02ad8" filter="url(#blurN)"><ellipse rx="2" ry="1.3" transform="translate(25.2 71.8) rotate(-15)" opacity=".8"/><ellipse rx="1.6" ry="1.4" transform="translate(32 69.6) rotate(-20)" opacity=".8"/><ellipse rx="1.9" ry="1.5" transform="translate(33.1 68.7) rotate(-5)" opacity=".7"/><ellipse rx="1.4" ry="1.3" transform="translate(59.6 69.6) rotate(5)" opacity=".8"/><ellipse rx="1.3" ry="1.4" transform="translate(63.4 69.8) rotate(30)" opacity=".6"/><ellipse rx="1.8" ry="1.8" transform="translate(68.2 72.6) rotate(31)" opacity=".9"/><ellipse rx="2" ry="1.4" transform="translate(68.3 58.7) rotate(31)" opacity=".8"/><ellipse rx="2.5" ry="1.4" transform="translate(69.7 64.1) rotate(25)" opacity=".7"/><ellipse rx="2.3" ry="1.4" transform="translate(77.3 62.2) rotate(-19)" opacity=".7"/><ellipse rx="1.8" ry="1.6" transform="translate(80 62.2) rotate(-33)" opacity=".7"/><ellipse rx="2.7" ry="1" transform="translate(83.9 61.8) rotate(-12)" opacity=".8"/><ellipse rx="1.3" ry="1.2" transform="translate(85.9 57.3) rotate(-146)" opacity=".8"/><ellipse rx="2.3" ry="1.2" transform="translate(92.4 44.9) rotate(-47)" opacity=".7"/><ellipse rx="1.1" ry="1" transform="translate(95.9 40.1) rotate(-11)" opacity=".7"/><ellipse rx="2.3" ry="1.1" transform="translate(98.4 43.8) rotate(127)" opacity=".7"/><ellipse rx="1.7" ry="1.8" transform="translate(96.2 49.1) rotate(126)" opacity=".9"/><ellipse rx="2.6" ry="1.4" transform="translate(50.4 23.5) rotate(4)" opacity=".7"/><ellipse rx="1.7" ry="1.4" transform="translate(62.5 22.1) rotate(39)" opacity=".9"/><ellipse rx="2.2" ry="1.3" transform="translate(63.8 27.2) rotate(30)" opacity=".9"/><ellipse rx="2.1" ry="1.1" transform="translate(72 31.7) rotate(28)" opacity=".8"/><ellipse rx="2.1" ry="1.5" transform="translate(79.5 28.1) rotate(5)" opacity=".9"/><ellipse rx="2" ry="1.4" transform="translate(66.2 33.4) rotate(-3)" opacity=".7"/><ellipse rx="2.3" ry="1.7" transform="translate(73.6 34.5) rotate(106)" opacity=".7"/><ellipse rx="2.4" ry="1.6" transform="translate(23.8 16) rotate(49)" opacity=".7"/><ellipse rx="2.2" ry="1" transform="translate(29 19.6) rotate(33)" opacity=".9"/><ellipse rx="1.9" ry="1.7" transform="translate(34.2 21.1) rotate(35)" opacity=".9"/><ellipse rx="2.3" ry="1.3" transform="translate(11.8 30.2) rotate(66)" opacity=".7"/><ellipse rx="1.5" ry="1.9" transform="translate(16.4 36.9) rotate(65)" opacity=".6"/><ellipse rx="1.4" ry="1.9" transform="translate(16.5 49) rotate(75)" opacity=".6"/><ellipse rx="1.9" ry="1.3" transform="translate(18.6 48.5) rotate(63)" opacity=".6"/><ellipse rx="2" ry="1.8" transform="translate(6.2 75) rotate(-30)" opacity=".9"/><ellipse rx="1.6" ry="1.4" transform="translate(8 71.1) rotate(-21)" opacity=".7"/><ellipse rx="1.7" ry="1.2" transform="translate(5.7 97.8) rotate(18)" opacity=".6"/><ellipse rx="2.5" ry="1.6" transform="translate(45 5.9) rotate(-14)" opacity=".6"/><ellipse rx="2.1" ry="1" transform="translate(111.9 68.6) rotate(-30)" opacity=".8"/><ellipse rx="1.6" ry="1.4" transform="translate(131.3 72) rotate(142)" opacity=".8"/><ellipse rx="2" ry="1.4" transform="translate(140.3 63.8) rotate(167)" opacity=".8"/><ellipse rx="2.3" ry="1.2" transform="translate(146 60.6) rotate(59)" opacity=".8"/><ellipse rx="2.6" ry="1.1" transform="translate(134.5 75.4) rotate(81)" opacity=".6"/><ellipse rx="2.4" ry="1.6" transform="translate(86.9 82.6) rotate(61)" opacity=".7"/><ellipse rx="1.8" ry="1.7" transform="translate(60.8 9.7) rotate(108)" opacity=".8"/><ellipse rx="1.6" ry="1.2" transform="translate(40.9 15.3) rotate(137)" opacity=".9"/><ellipse rx="1.6" ry="1.5" transform="translate(128.2 50.5) rotate(38)" opacity=".8"/><ellipse rx="1.5" ry="1.3" transform="translate(69.2 87.8) rotate(39)" opacity=".6"/><ellipse rx="2.2" ry="1.7" transform="translate(23 79.2) rotate(4)" opacity=".9"/><ellipse rx="3" ry="1.3" transform="translate(38.4 90.4) rotate(81)" opacity=".9"/><ellipse rx="1.8" ry="1.6" transform="translate(34.6 106.7) rotate(111)" opacity=".9"/><ellipse rx="1.6" ry="1.5" transform="translate(116.9 101.6) rotate(76)" opacity=".9"/><ellipse rx="1.8" ry="1.6" transform="translate(81 107.8) rotate(70)" opacity=".9"/><ellipse rx="2.3" ry="1.6" transform="translate(91.7 70.1) rotate(146)" opacity=".9"/><ellipse rx="2.6" ry="1.7" transform="translate(87.4 73.8) rotate(101)" opacity=".8"/><ellipse rx="2.4" ry="1.3" transform="translate(83.7 68.1) rotate(170)" opacity=".6"/><ellipse rx="2.1" ry="1.2" transform="translate(44.1 35.9) rotate(87)" opacity=".9"/><ellipse rx="1.7" ry="1.1" transform="translate(23.5 31.7) rotate(81)" opacity=".8"/></g><circle cx="16.2" cy="61.6" r=".6" fill="#c01a28" opacity=".8"/><circle cx="19.2" cy="66.2" r=".6" fill="#c01a28" opacity=".8"/><circle cx="52.3" cy="28.5" r=".6" fill="#c01a28" opacity=".8"/><circle cx="128.5" cy="21.5" r=".6" fill="#c01a28" opacity=".8"/><circle cx="143.9" cy="2.3" r=".6" fill="#c01a28" opacity=".8"/></g>
<clipPath id="cp12"><rect x="-.3" y=".1" width="146.3" height="109.3"/></clipPath><g transform="translate(344,590)" clip-path="url(#cp12)"><rect x="-2" y="-2" width="152" height="114" fill="#03010f"/><g fill="#1416ee" opacity=".9" filter="url(#blurN)"><ellipse rx="3.5" ry="1.9" transform="translate(82.2 15.5) rotate(5)" opacity=".6"/><ellipse rx="2.7" ry="2.3" transform="translate(70.9 52.1) rotate(168)"/><ellipse rx="2.5" ry="2.2" transform="translate(71.5 70.9) rotate(127)" opacity=".7"/><ellipse rx="3.5" ry="2.1" transform="translate(83.4 71.8) rotate(3)" opacity=".5"/><ellipse rx="2.7" ry="2" transform="translate(88.5 33.1) rotate(67)" opacity=".8"/><ellipse rx="2.4" ry="2.1" transform="translate(69 15.4) rotate(66)"/><ellipse rx="3.2" ry="2.2" transform="translate(66.8 27.3) rotate(77)" opacity=".4"/><ellipse rx="3.5" ry="2" transform="translate(93.5 25.4) rotate(147)" opacity=".4"/><ellipse rx="2.6" ry="2.2" transform="translate(98.3 50.7) rotate(43)"/><ellipse rx="3.3" ry="1.7" transform="translate(66.5 70.3) rotate(175)"/><ellipse rx="2.7" ry="2" transform="translate(61.6 63.7) rotate(39)"/><ellipse rx="3.1" ry="1.9" transform="translate(76.6 46.2) rotate(100)"/><ellipse rx="2.6" ry="2.2" transform="translate(68.3 44.6) rotate(50)" opacity=".4"/><ellipse rx="2.5" ry="2.1" transform="translate(83.7 47.9) rotate(179)"/><ellipse rx="2.7" ry="1.8" transform="translate(90.9 70.5) rotate(68)"/><ellipse rx="2.6" ry="1.8" transform="translate(77.8 19.2) rotate(10)"/><ellipse rx="3.2" ry="1.8" transform="translate(72.1 65) rotate(94)" opacity=".4"/><ellipse rx="3.5" ry="1.6" transform="translate(98.1 67.2) rotate(101)" opacity=".5"/><ellipse rx="2.6" ry="1.9" transform="translate(94.5 33.4) rotate(41)" opacity=".5"/><ellipse rx="2.7" ry="1.6" transform="translate(91.9 39.1) rotate(169)"/><ellipse rx="2.6" ry="2.1" transform="translate(89.3 50.7) rotate(57)" opacity=".7"/><ellipse rx="2.5" ry="1.9" transform="translate(69.6 21.9) rotate(39)" opacity=".7"/><ellipse rx="2.3" ry="1.9" transform="translate(95.1 17.7) rotate(120)" opacity=".8"/><ellipse rx="2.4" ry="1.7" transform="translate(66.2 51) rotate(66)" opacity=".6"/><ellipse rx="3.3" ry="1.8" transform="translate(78.8 49.5) rotate(151)"/><ellipse rx="2.4" ry="1.9" transform="translate(98.2 31.5) rotate(74)"/><ellipse rx="3.6" ry="1.7" transform="translate(92.9 53.5) rotate(176)" opacity=".8"/><ellipse rx="2.4" ry="1.9" transform="translate(73.8 17.7) rotate(37)"/><ellipse rx="2.4" ry="1.7" transform="translate(77.2 53.5) rotate(29)"/><ellipse rx="3" ry="2.1" transform="translate(74.6 60) rotate(126)"/><ellipse rx="3" ry="2.1" transform="translate(87 37.6) rotate(8)" opacity=".4"/><ellipse rx="3.4" ry="2" transform="translate(74.9 40.9) rotate(33)"/><ellipse rx="3.5" ry="2.1" transform="translate(62.4 35.7) rotate(58)" opacity=".4"/><ellipse rx="2.8" ry="2" transform="translate(84.6 26.2) rotate(155)" opacity=".5"/><ellipse rx="3.4" ry="1.8" transform="translate(74.1 56.1) rotate(178)" opacity=".4"/><ellipse rx="3.4" ry="1.7" transform="translate(65.7 30.8) rotate(13)"/><ellipse rx="2.6" ry="1.7" transform="translate(84 40.1) rotate(109)" opacity=".7"/><ellipse rx="2.4" ry="1.8" transform="translate(73 25.1) rotate(68)" opacity=".5"/><ellipse rx="3.3" ry="2" transform="translate(84.2 31.3) rotate(116)" opacity=".7"/><ellipse rx="3.1" ry="2.2" transform="translate(63.9 45.4) rotate(118)" opacity=".4"/><ellipse rx="3.4" ry="1.8" transform="translate(62.5 57.3) rotate(122)" opacity=".7"/><ellipse rx="2.8" ry="2.2" transform="translate(96.1 61.1) rotate(72)"/><ellipse rx="2.5" ry="2.1" transform="translate(.5 59.7) rotate(157)" opacity=".7"/><ellipse rx="2.6" ry="1.8" transform="translate(22.1 75.7) rotate(69)" opacity=".6"/><ellipse rx="3" ry="1.6" transform="translate(32.1 46.2) rotate(39)"/><ellipse rx="3.1" ry="2.3" transform="translate(3.2 95.9) rotate(59)" opacity=".7"/><ellipse rx="3" ry="1.8" transform="translate(49.3 106.7) rotate(27)" opacity=".6"/><ellipse rx="2.6" ry="1.7" transform="translate(2.1 11.7) rotate(134)" opacity=".5"/><ellipse rx="3" ry="2" transform="translate(40.1 15.2) rotate(46)"/><ellipse rx="2.8" ry="2" transform="translate(15.8 52.3) rotate(156)" opacity=".6"/><ellipse rx="2.8" ry="1.6" transform="translate(4.7 73.1) rotate(71)" opacity=".6"/><ellipse rx="3.5" ry="2.2" transform="translate(45.7 90.3) rotate(12)" opacity=".6"/><ellipse rx="2.4" ry="1.6" transform="translate(49.8 77.4) rotate(3)"/><ellipse rx="2.3" ry="1.7" transform="translate(25.4 8.1) rotate(51)" opacity=".6"/><ellipse rx="2.5" ry="1.8" transform="translate(49.4 35.7) rotate(162)"/><ellipse rx="3.5" ry="2" transform="translate(.1 70.6) rotate(140)" opacity=".5"/><ellipse rx="2.4" ry="1.9" transform="translate(13.4 39.3) rotate(28)"/><ellipse rx="3.6" ry="2.3" transform="translate(43.7 21.5) rotate(109)"/><ellipse rx="3.5" ry="1.8" transform="translate(26.3 71.1) rotate(146)"/><ellipse rx="3.6" ry="2.2" transform="translate(51.3 23.5) rotate(48)" opacity=".7"/><ellipse rx="3.1" ry="1.6" transform="translate(43.4 38.4) rotate(131)" opacity=".7"/><ellipse rx="3.4" ry="1.8" transform="translate(26.2 54.7) rotate(99)" opacity=".5"/><ellipse rx="2.7" ry="2" transform="translate(33.2 98.8) rotate(58)" opacity=".7"/><ellipse rx="2.7" ry="2.2" transform="translate(25.7 40.9) rotate(44)"/><ellipse rx="2.9" ry="1.8" transform="translate(12.5 64.6) rotate(161)" opacity=".6"/><ellipse rx="2.6" ry="1.6" transform="translate(22.9 3) rotate(143)"/><ellipse rx="3.1" ry="2.2" transform="translate(16.7 16.8) rotate(170)" opacity=".6"/><ellipse rx="2.8" ry="2.2" transform="translate(13.2 12.6) rotate(31)"/><ellipse rx="3.2" ry="2" transform="translate(49.6 48.2) rotate(9)"/><ellipse rx="2.7" ry="2" transform="translate(21.4 93) rotate(45)"/><ellipse rx="2.7" ry="2" transform="translate(19.8 101) rotate(73)"/><ellipse rx="2.9" ry="1.8" transform="translate(47.5 13.6) rotate(142)"/><ellipse rx="2.6" ry="1.9" transform="translate(8.3 91.4) rotate(9)"/><ellipse rx="2.9" ry="1.6" transform="translate(27.5 101.4) rotate(75)"/><ellipse rx="3.6" ry="2.2" transform="translate(15.9 68.1) rotate(83)" opacity=".6"/><ellipse rx="2.9" ry="2.3" transform="translate(10.6 59.9) rotate(173)"/><ellipse rx="2.7" ry="2.1" transform="translate(28.6 62.9) rotate(42)" opacity=".6"/><ellipse rx="2.4" ry="1.8" transform="translate(5.2 43.4) rotate(127)" opacity=".7"/><ellipse rx="2.8" ry="2" transform="translate(51.6 63.2) rotate(79)"/><ellipse rx="3.3" ry="1.9" transform="translate(34.9 8.1) rotate(147)"/><ellipse rx="3.3" ry="2" transform="translate(24.2 19.6) rotate(71)"/><ellipse rx="2.6" ry="1.9" transform="translate(20.5 21) rotate(146)" opacity=".7"/><ellipse rx="3.1" ry="1.9" transform="translate(29.2 76.5) rotate(115)" opacity=".8"/><ellipse rx="2.4" ry="1.7" transform="translate(48.1 9.4) rotate(110)" opacity=".5"/><ellipse rx="2.5" ry="1.9" transform="translate(41 43.4) rotate(76)" opacity=".8"/><ellipse rx="2.5" ry="2.3" transform="translate(5.7 9.7) rotate(137)"/><ellipse rx="2.5" ry="2.2" transform="translate(34 66.1) rotate(164)"/><ellipse rx="3.5" ry="2.2" transform="translate(46.8 33.1) rotate(37)" opacity=".5"/><ellipse rx="3.4" ry="2.2" transform="translate(16.9 103.8) rotate(138)" opacity=".8"/><ellipse rx="3.1" ry="1.7" transform="translate(48.6 58.9) rotate(42)" opacity=".7"/><ellipse rx="3.1" ry="2.2" transform="translate(34.7 19.4) rotate(172)"/><ellipse rx="2.8" ry="2.2" transform="translate(46.7 1.2) rotate(148)"/><ellipse rx="2.7" ry="2.2" transform="translate(21.9 83.9) rotate(66)"/><ellipse rx="2.9" ry="2.2" transform="translate(17.8 30.8) rotate(11)" opacity=".5"/><ellipse rx="3.4" ry="2.2" transform="translate(26.4 12.7) rotate(125)"/><ellipse rx="3.1" ry="2.3" transform="translate(40 84.5) rotate(28)" opacity=".5"/><ellipse rx="2.6" ry="2" transform="translate(35.6 70.5) rotate(129)"/><ellipse rx="2.9" ry="2.2" transform="translate(33.7 105.2) rotate(154)"/><ellipse rx="3.5" ry="2" transform="translate(14.5 33.6) rotate(46)"/><ellipse rx="2.9" ry="2.1" transform="translate(5.8 32.1) rotate(138)"/><ellipse rx="3" ry="1.9" transform="translate(21.9 48.1) rotate(24)"/><ellipse rx="3.4" ry="1.8" transform="translate(9.8 14.3) rotate(64)"/><ellipse rx="3.1" ry="2.2" transform="translate(141.5 24) rotate(21)" opacity=".6"/><ellipse rx="2.3" ry="1.9" transform="translate(134.1 99.2) rotate(21)"/><ellipse rx="3.6" ry="1.8" transform="translate(116.6 17.8) rotate(19)" opacity=".8"/><ellipse rx="2.7" ry="1.8" transform="translate(101.4 13.7) rotate(51)" opacity=".5"/><ellipse rx="3.1" ry="1.7" transform="translate(118.2 80.8) rotate(112)"/><ellipse rx="2.9" ry="2" transform="translate(124.4 96) rotate(129)" opacity=".7"/><ellipse rx="2.7" ry="2.1" transform="translate(135.7 78.6) rotate(8)" opacity=".7"/><ellipse rx="2.3" ry="2.2" transform="translate(109.2 97.4) rotate(161)"/><ellipse rx="3" ry="2.1" transform="translate(135.9 34.9) rotate(157)"/><ellipse rx="3.4" ry="1.6" transform="translate(124 105.9) rotate(164)" opacity=".6"/><ellipse rx="2.9" ry="1.9" transform="translate(106.2 85.2) rotate(167)"/><ellipse rx="2.4" ry="1.7" transform="translate(118.6 21.5) rotate(29)" opacity=".7"/><ellipse rx="2.9" ry="1.9" transform="translate(122.9 1.9) rotate(56)"/><ellipse rx="3.2" ry="1.6" transform="translate(101.1 20.5) rotate(7)"/><ellipse rx="2.4" ry="2.2" transform="translate(127.9 84.8) rotate(8)"/><ellipse rx="2.4" ry="2.2" transform="translate(117.7 99.3) rotate(54)" opacity=".4"/><ellipse rx="3.2" ry="1.7" transform="translate(111.7 28.8) rotate(25)"/><ellipse rx="3.2" ry="1.9" transform="translate(122.9 100.5) rotate(48)"/><ellipse rx="3" ry="1.9" transform="translate(115.3 95.1) rotate(141)"/><ellipse rx="3.3" ry="2.2" transform="translate(112.6 70.3) rotate(157)"/><ellipse rx="3.2" ry="2.1" transform="translate(101.4 53.6) rotate(178)"/><ellipse rx="2.7" ry="1.7" transform="translate(132.6 .1) rotate(68)" opacity=".7"/><ellipse rx="2.9" ry="2" transform="translate(130 5.7) rotate(66)"/><ellipse rx="3.1" ry="1.7" transform="translate(129.6 93.8) rotate(23)" opacity=".8"/><ellipse rx="2.8" ry="1.7" transform="translate(127.6 1.1) rotate(62)"/><ellipse rx="2.4" ry="2.1" transform="translate(119.8 16.1) rotate(94)"/><ellipse rx="3.3" ry="2.1" transform="translate(136.4 4.9) rotate(156)"/><ellipse rx="3.5" ry="2.3" transform="translate(121.7 74.1) rotate(143)"/><ellipse rx="2.7" ry="1.8" transform="translate(108.3 79.9) rotate(173)"/><ellipse rx="2.8" ry="1.7" transform="translate(106.5 11) rotate(147)"/><ellipse rx="2.6" ry="2.1" transform="translate(104.2 88.4) rotate(56)" opacity=".6"/><ellipse rx="3.1" ry="2" transform="translate(106.6 44.7) rotate(85)"/><ellipse rx="3" ry="1.9" transform="translate(133.2 41.6) rotate(132)"/><ellipse rx="3.1" ry="2.1" transform="translate(135.8 50.7) rotate(130)" opacity=".7"/><ellipse rx="3.3" ry="2.2" transform="translate(145.6 88.5) rotate(88)" opacity=".4"/><ellipse rx="2.6" ry="1.9" transform="translate(106.2 101.9) rotate(121)" opacity=".7"/><ellipse rx="2.4" ry="2" transform="translate(144.2 74.5) rotate(32)" opacity=".4"/><ellipse rx="2.7" ry="2.3" transform="translate(140.2 80.8) rotate(99)"/><ellipse rx="3.5" ry="1.7" transform="translate(115.6 34.5) rotate(88)" opacity=".6"/><ellipse rx="2.8" ry="2.2" transform="translate(103.3 95.1) rotate(150)"/><ellipse rx="2.4" ry="2" transform="translate(114.2 47.2) rotate(78)"/><ellipse rx="3.4" ry="1.7" transform="translate(133.1 31.1) rotate(166)" opacity=".5"/><ellipse rx="3.5" ry="1.7" transform="translate(122.4 92.9) rotate(88)"/><ellipse rx="3.2" ry="2.1" transform="translate(128.1 21.1) rotate(94)"/><ellipse rx="3.3" ry="2.2" transform="translate(128 36) rotate(1)" opacity=".4"/><ellipse rx="3" ry="2" transform="translate(116.8 28.6) rotate(62)"/><ellipse rx="3.1" ry="1.9" transform="translate(145.4 22.4) rotate(0)" opacity=".7"/><ellipse rx="2.7" ry="1.9" transform="translate(106.4 68.4) rotate(15)"/><ellipse rx="3.3" ry="1.9" transform="translate(58.4 92.1) rotate(85)" opacity=".7"/><ellipse rx="3" ry="1.8" transform="translate(74.9 91.8) rotate(166)"/><ellipse rx="3.2" ry="1.7" transform="translate(52.1 85) rotate(29)"/><ellipse rx="2.4" ry="1.6" transform="translate(69.5 83.5) rotate(173)" opacity=".7"/><ellipse rx="3.2" ry="1.8" transform="translate(99.9 93.3) rotate(75)"/><ellipse rx="3.1" ry="1.7" transform="translate(60.4 96.5) rotate(61)"/><ellipse rx="2.4" ry="1.9" transform="translate(87.9 107.6) rotate(67)"/><ellipse rx="3.4" ry="1.8" transform="translate(54.7 104.4) rotate(65)" opacity=".7"/><ellipse rx="3" ry="2.1" transform="translate(87.9 86) rotate(133)"/><ellipse rx="3.5" ry="1.7" transform="translate(74.6 84.3) rotate(114)"/><ellipse rx="2.8" ry="1.9" transform="translate(72.4 88.4) rotate(159)"/><ellipse rx="3" ry="2" transform="translate(53.7 56.7) rotate(0)" opacity=".6"/><ellipse rx="3" ry="2" transform="translate(54.8 30.7) rotate(27)"/><ellipse rx="3.3" ry="1.7" transform="translate(62.1 73.2) rotate(168)"/><ellipse rx="2.6" ry="2.1" transform="translate(55.7 45) rotate(34)"/><ellipse rx="3.2" ry="1.7" transform="translate(62.8 15.5) rotate(160)"/><ellipse rx="3.4" ry="1.8" transform="translate(56.6 40.4) rotate(109)"/></g><g fill="#d02ad8" filter="url(#blurN)"><ellipse rx="1.8" ry="1.4" transform="translate(88.4 33.1) rotate(67)" opacity=".8"/><ellipse rx="1.6" ry="1.3" transform="translate(66.1 27.2) rotate(77)" opacity=".7"/><ellipse rx="1.8" ry="1.8" transform="translate(97.5 50.2) rotate(43)" opacity=".9"/><ellipse rx="2.1" ry="1.1" transform="translate(65.7 70.2) rotate(175)" opacity=".8"/><ellipse rx="1.2" ry="1.6" transform="translate(68.3 44.2) rotate(50)" opacity=".7"/><ellipse rx="1.2" ry="1.5" transform="translate(77.5 19) rotate(10)" opacity=".6"/><ellipse rx="2.4" ry="1.5" transform="translate(71.6 65.4) rotate(94)" opacity=".7"/><ellipse rx="1.1" ry="1.1" transform="translate(94.4 17.7) rotate(120)" opacity=".7"/><ellipse rx="1.7" ry="1.3" transform="translate(66 51.2) rotate(66)" opacity=".9"/><ellipse rx="1.5" ry="1.4" transform="translate(97.9 31.7) rotate(74)" opacity=".9"/><ellipse rx="1.7" ry="1.5" transform="translate(73.8 60.1) rotate(126)" opacity=".7"/><ellipse rx="2.3" ry="1" transform="translate(74.4 56.1) rotate(178)" opacity=".9"/><ellipse rx="1.4" ry="1.8" transform="translate(64.7 45.3) rotate(118)" opacity=".7"/><ellipse rx="2.6" ry="1.1" transform="translate(62.8 57.5) rotate(122)" opacity=".8"/><ellipse rx="1.4" ry="1.2" transform="translate(96.3 61.2) rotate(72)" opacity=".8"/><ellipse rx="1.5" ry="1.2" transform="translate(-0 59.5) rotate(157)" opacity=".6"/><ellipse rx="1.6" ry="1.2" transform="translate(2.6 11.9) rotate(134)" opacity=".9"/><ellipse rx="1.4" ry="1.2" transform="translate(40.2 15.5) rotate(46)" opacity=".7"/><ellipse rx="1.5" ry="1.2" transform="translate(15.7 52.1) rotate(156)" opacity=".9"/><ellipse rx="2.2" ry="1" transform="translate(4 73) rotate(71)" opacity=".6"/><ellipse rx="1.2" ry="1.2" transform="translate(25.4 8.2) rotate(51)" opacity=".8"/><ellipse rx="1.9" ry="1.5" transform="translate(49.2 35.6) rotate(162)" opacity=".9"/><ellipse rx="2.1" ry="1.3" transform="translate(26.8 71.5) rotate(146)" opacity=".7"/><ellipse rx="2.1" ry="1.8" transform="translate(51.9 23.2) rotate(48)" opacity=".8"/><ellipse rx="1.6" ry="1.7" transform="translate(33.7 99.2) rotate(58)" opacity=".7"/><ellipse rx="2.1" ry="1.4" transform="translate(26.1 41) rotate(44)" opacity=".8"/><ellipse rx="1.6" ry="1.4" transform="translate(16.9 16.9) rotate(170)" opacity=".7"/><ellipse rx="2" ry="1.1" transform="translate(46.8 13.9) rotate(142)" opacity=".6"/><ellipse rx="1.8" ry="1.3" transform="translate(15.9 67.6) rotate(83)" opacity=".8"/><ellipse rx="1.6" ry="1.4" transform="translate(6.5 9.9) rotate(137)" opacity=".7"/><ellipse rx="1.7" ry="1.7" transform="translate(17.3 30.3) rotate(11)" opacity=".9"/><ellipse rx="1.5" ry="1.3" transform="translate(40.6 84) rotate(28)" opacity=".7"/><ellipse rx="1.4" ry="1.1" transform="translate(133.9 99.6) rotate(21)" opacity=".6"/><ellipse rx="2.3" ry="1.3" transform="translate(116.4 17.6) rotate(19)" opacity=".9"/><ellipse rx="1.9" ry="1.4" transform="translate(100.9 13.9) rotate(51)" opacity=".9"/><ellipse rx="1.5" ry="1.3" transform="translate(101.4 20.8) rotate(7)" opacity=".6"/><ellipse rx="1.2" ry="1.5" transform="translate(128.7 85.2) rotate(8)" opacity=".6"/><ellipse rx="1.6" ry="1" transform="translate(110.9 29.1) rotate(25)" opacity=".9"/><ellipse rx="1.5" ry="1.3" transform="translate(122.7 100.6) rotate(48)" opacity=".9"/><ellipse rx="1.6" ry="1.3" transform="translate(113.2 70.3) rotate(157)" opacity=".6"/><ellipse rx="1.7" ry="1.4" transform="translate(135.7 5.4) rotate(156)" opacity=".7"/><ellipse rx="2.2" ry="1.1" transform="translate(133.9 41.6) rotate(132)" opacity=".9"/><ellipse rx="1.8" ry="1.3" transform="translate(136.2 50.6) rotate(130)" opacity=".6"/><ellipse rx="2.1" ry="1.5" transform="translate(105.7 102.2) rotate(121)" opacity=".8"/><ellipse rx="1.8" ry="1.2" transform="translate(116 34.1) rotate(88)" opacity=".6"/><ellipse rx="2.1" ry="1.3" transform="translate(102.5 95.1) rotate(150)" opacity=".9"/><ellipse rx="2" ry="1.3" transform="translate(117.6 28.5) rotate(62)" opacity=".9"/><ellipse rx="1.4" ry="1.1" transform="translate(146.2 22.3) rotate(0)" opacity=".7"/><ellipse rx="1.9" ry="1.2" transform="translate(107 68.5) rotate(15)" opacity=".7"/><ellipse rx="2.1" ry="1" transform="translate(59.1 92) rotate(85)" opacity=".8"/><ellipse rx="1.5" ry="1.5" transform="translate(75.7 91.6) rotate(166)" opacity=".8"/><ellipse rx="1.8" ry="1.4" transform="translate(55.5 104.3) rotate(65)" opacity=".8"/><ellipse rx="2.1" ry="1.3" transform="translate(88.5 86.3) rotate(133)" opacity=".8"/><ellipse rx="2.5" ry="1.1" transform="translate(74.3 84.3) rotate(114)" opacity=".6"/><ellipse rx="1.7" ry="1.6" transform="translate(54.5 57.1) rotate(0)" opacity=".8"/><ellipse rx="1.9" ry="1" transform="translate(62.4 15.4) rotate(160)" opacity=".6"/></g></g>
<clipPath id="cp13"><rect x="0" y=".1" width="146.5" height="109.3"/></clipPath><g transform="translate(495,590)" clip-path="url(#cp13)"><rect x="-2" y="-2" width="152" height="114" fill="#03010f"/><g fill="#1416ee" opacity=".9" filter="url(#blurN)"><ellipse rx="3.3" ry="1.9" transform="translate(46.8 19.3) rotate(9)" opacity=".5"/><ellipse rx="2.8" ry="1.6" transform="translate(63.1 14.8) rotate(-26)" opacity=".5"/><ellipse rx="2.5" ry="1.8" transform="translate(50.4 32.4) rotate(-48)" opacity=".4"/><ellipse rx="3.2" ry="2" transform="translate(62.1 44.3) rotate(-34)"/><ellipse rx="3.3" ry="1.9" transform="translate(40.8 45.4) rotate(5)" opacity=".7"/><ellipse rx="3.1" ry="1.8" transform="translate(57.4 16.4) rotate(0)"/><ellipse rx="2.7" ry="1.6" transform="translate(47.9 38.4) rotate(-47)"/><ellipse rx="3" ry="1.6" transform="translate(39.3 41) rotate(-30)" opacity=".5"/><ellipse rx="2.6" ry="2" transform="translate(65.6 29.3) rotate(-39)"/><ellipse rx="3.2" ry="1.6" transform="translate(23.5 56.2) rotate(-3)" opacity=".4"/><ellipse rx="2.5" ry="1.5" transform="translate(39.4 28.7) rotate(6)" opacity=".8"/><ellipse rx="3.1" ry="1.8" transform="translate(57.1 32.6) rotate(-35)"/><ellipse rx="2.5" ry="1.9" transform="translate(51 46.5) rotate(-47)" opacity=".5"/><ellipse rx="2.7" ry="2" transform="translate(47.9 26.6) rotate(-33)" opacity=".6"/><ellipse rx="2.5" ry="2" transform="translate(33 55.4) rotate(-23)" opacity=".5"/><ellipse rx="2.5" ry="2" transform="translate(56.3 23.6) rotate(-31)" opacity=".5"/><ellipse rx="3.1" ry="1.5" transform="translate(24.1 35.1) rotate(-38)"/><ellipse rx="2.2" ry="1.6" transform="translate(29.3 53.2) rotate(3)" opacity=".5"/><ellipse rx="2.7" ry="1.5" transform="translate(21.7 45.1) rotate(9)" opacity=".7"/><ellipse rx="3.1" ry="1.8" transform="translate(76.3 23.2) rotate(-5)" opacity=".8"/><ellipse rx="2.3" ry="1.8" transform="translate(28.9 31) rotate(6)"/><ellipse rx="3" ry="2.1" transform="translate(31.9 21.9) rotate(-27)"/><ellipse rx="2.9" ry="1.7" transform="translate(19.2 40.6) rotate(-2)"/><ellipse rx="2.8" ry="1.9" transform="translate(42.5 26) rotate(-47)" opacity=".5"/><ellipse rx="2.4" ry="1.9" transform="translate(32.1 45.7) rotate(-40)"/><ellipse rx="2.3" ry="1.8" transform="translate(69.9 15.5) rotate(-41)" opacity=".7"/><ellipse rx="2.9" ry="1.8" transform="translate(60.1 24.7) rotate(-15)" opacity=".8"/><ellipse rx="2.7" ry="1.8" transform="translate(55.4 27.2) rotate(-10)" opacity=".7"/><ellipse rx="2.5" ry="2" transform="translate(73.5 28) rotate(-41)"/><ellipse rx="2.7" ry="1.9" transform="translate(68.8 23.9) rotate(-29)" opacity=".6"/><ellipse rx="2.7" ry="2" transform="translate(29.5 41.3) rotate(-36)" opacity=".4"/><ellipse rx="2.5" ry="1.6" transform="translate(22.5 25.8) rotate(-20)" opacity=".4"/><ellipse rx="3.2" ry="2" transform="translate(36 31.3) rotate(-34)" opacity=".6"/><ellipse rx="2.5" ry="2" transform="translate(74.5 11.9) rotate(-10)" opacity=".7"/><ellipse rx="2.5" ry="1.5" transform="translate(50.7 17.9) rotate(-26)"/><ellipse rx="3.2" ry="1.7" transform="translate(27.3 56.9) rotate(-8)" opacity=".4"/><ellipse rx="2.8" ry="1.9" transform="translate(66.6 40.4) rotate(-21)" opacity=".5"/><ellipse rx="3.1" ry="1.9" transform="translate(68.7 20) rotate(5)" opacity=".8"/><ellipse rx="3.3" ry="2.1" transform="translate(111.9 7.3) rotate(-8)" opacity=".6"/><ellipse rx="2.8" ry="1.9" transform="translate(128.7 21.8) rotate(-14)"/><ellipse rx="2.2" ry="1.7" transform="translate(144.8 63.8) rotate(-40)" opacity=".8"/><ellipse rx="3.2" ry="1.7" transform="translate(96.6 84.3) rotate(-37)"/><ellipse rx="2.9" ry="1.7" transform="translate(130.4 67.2) rotate(-47)" opacity=".7"/><ellipse rx="2.4" ry="2.1" transform="translate(145.5 30.6) rotate(-48)" opacity=".6"/><ellipse rx="3.2" ry="1.7" transform="translate(145.7 72.3) rotate(-41)"/><ellipse rx="3.4" ry="2" transform="translate(86.5 21.4) rotate(-43)" opacity=".4"/><ellipse rx="2.7" ry="1.7" transform="translate(118.2 40.4) rotate(-10)"/><ellipse rx="3.1" ry="1.7" transform="translate(130 30.2) rotate(-31)" opacity=".7"/><ellipse rx="2.9" ry="1.5" transform="translate(141.6 8) rotate(-44)" opacity=".8"/><ellipse rx="2.4" ry="1.8" transform="translate(114.1 46) rotate(-46)"/><ellipse rx="3.2" ry="1.5" transform="translate(124.8 20) rotate(-31)" opacity=".6"/><ellipse rx="3.1" ry="1.9" transform="translate(136.8 60.7) rotate(-28)" opacity=".5"/><ellipse rx="2.8" ry="1.6" transform="translate(145.8 14.4) rotate(-41)"/><ellipse rx="3.4" ry="1.5" transform="translate(93.1 67.4) rotate(-28)" opacity=".6"/><ellipse rx="3.1" ry="1.6" transform="translate(99.6 29.2) rotate(-30)"/><ellipse rx="2.7" ry="1.7" transform="translate(146.9 56.7) rotate(-47)" opacity=".7"/><ellipse rx="2.7" ry="1.8" transform="translate(107.6 20.3) rotate(-47)"/><ellipse rx="3.1" ry="1.6" transform="translate(116.9 86) rotate(-3)"/><ellipse rx="2.3" ry="2" transform="translate(81.7 15.7) rotate(-2)" opacity=".5"/><ellipse rx="2.6" ry="1.5" transform="translate(100.2 51.3) rotate(-16)"/><ellipse rx="2.3" ry="1.8" transform="translate(82.8 10) rotate(-46)" opacity=".8"/><ellipse rx="3.3" ry="1.5" transform="translate(124.6 76.6) rotate(-8)"/><ellipse rx="2.5" ry="2" transform="translate(136.5 78.1) rotate(-9)" opacity=".8"/><ellipse rx="2.7" ry="2" transform="translate(145 50.3) rotate(-47)" opacity=".7"/><ellipse rx="2.9" ry="1.9" transform="translate(113.1 40.2) rotate(-6)" opacity=".5"/><ellipse rx="3.2" ry="2" transform="translate(92.4 50.5) rotate(-11)" opacity=".7"/><ellipse rx="3" ry="2.1" transform="translate(141.5 72) rotate(-8)" opacity=".7"/><ellipse rx="3" ry="1.7" transform="translate(140.1 56.3) rotate(-3)"/><ellipse rx="2.5" ry="1.5" transform="translate(138.1 16.8) rotate(-36)"/><ellipse rx="2.5" ry="1.7" transform="translate(123.7 80.9) rotate(-27)" opacity=".6"/><ellipse rx="3" ry="1.6" transform="translate(110.4 14.5) rotate(-11)" opacity=".6"/><ellipse rx="2.6" ry="1.5" transform="translate(104.2 40.1) rotate(-12)"/><ellipse rx="2.8" ry="1.9" transform="translate(117.9 50.3) rotate(-8)" opacity=".6"/><ellipse rx="2.5" ry="1.5" transform="translate(146.2 37.5) rotate(-47)"/><ellipse rx="2.5" ry="1.7" transform="translate(106.9 64.1) rotate(-35)"/><ellipse rx="2.5" ry="1.8" transform="translate(130.3 15.5) rotate(-11)"/><ellipse rx="3.2" ry="1.9" transform="translate(94.5 46.8) rotate(-34)" opacity=".8"/><ellipse rx="3.1" ry="2.1" transform="translate(132.3 73.8) rotate(-20)" opacity=".8"/><ellipse rx="2.8" ry="1.6" transform="translate(116.4 68.8) rotate(-16)" opacity=".5"/><ellipse rx="2.5" ry="1.6" transform="translate(134.3 81.2) rotate(-44)"/><ellipse rx="2.4" ry="1.8" transform="translate(123.6 72.5) rotate(-1)" opacity=".8"/><ellipse rx="2.9" ry="1.5" transform="translate(103.1 33.3) rotate(-24)" opacity=".5"/><ellipse rx="2.3" ry="1.9" transform="translate(143.7 17.6) rotate(-12)"/><ellipse rx="2.3" ry="1.8" transform="translate(85.2 43.8) rotate(-4)"/><ellipse rx="2.8" ry="1.6" transform="translate(117.4 25) rotate(-18)" opacity=".5"/><ellipse rx="2.5" ry="1.5" transform="translate(114.4 61.2) rotate(-14)" opacity=".6"/><ellipse rx="3.3" ry="1.6" transform="translate(115.2 82.3) rotate(-47)" opacity=".8"/><ellipse rx="2.8" ry="2" transform="translate(102.6 47.3) rotate(-35)" opacity=".4"/><ellipse rx="2.6" ry="2" transform="translate(136.8 71.3) rotate(-24)" opacity=".7"/><ellipse rx="3.4" ry="2" transform="translate(89.7 10.4) rotate(0)" opacity=".6"/><ellipse rx="2.2" ry="1.6" transform="translate(119.5 72) rotate(-30)"/><ellipse rx="2.3" ry="1.7" transform="translate(121.2 84.1) rotate(-10)"/><ellipse rx="2.3" ry="1.6" transform="translate(130.7 8.9) rotate(-22)"/><ellipse rx="3" ry="1.8" transform="translate(101.6 12.3) rotate(-1)"/><ellipse rx="2.7" ry="1.8" transform="translate(135.2 12) rotate(-10)" opacity=".5"/><ellipse rx="2.7" ry="1.5" transform="translate(92.5 77.6) rotate(-36)" opacity=".8"/><ellipse rx="2.9" ry="1.8" transform="translate(141.2 38.6) rotate(-25)" opacity=".5"/><ellipse rx="2.3" ry="1.5" transform="translate(97.3 73.4) rotate(-34)" opacity=".4"/><ellipse rx="3.3" ry="1.5" transform="translate(83.8 61.7) rotate(-20)" opacity=".6"/><ellipse rx="2.6" ry="2.1" transform="translate(101 61.3) rotate(-48)"/><ellipse rx="2.4" ry="1.5" transform="translate(127.2 55.3) rotate(-11)"/><ellipse rx="2.6" ry="1.5" transform="translate(91.2 56.6) rotate(-24)" opacity=".4"/><ellipse rx="3.2" ry="2" transform="translate(136.8 45.1) rotate(-40)"/><ellipse rx="2.3" ry="1.5" transform="translate(129.5 44.6) rotate(-24)" opacity=".7"/><ellipse rx="2.9" ry="1.7" transform="translate(100.9 56) rotate(-30)" opacity=".4"/><ellipse rx="2.4" ry="1.8" transform="translate(123.2 59.4) rotate(-38)" opacity=".6"/><ellipse rx="3.1" ry="2" transform="translate(94.8 28.9) rotate(-28)" opacity=".4"/><ellipse rx="3.2" ry="2" transform="translate(89.7 39.5) rotate(-16)" opacity=".5"/><ellipse rx="2.6" ry="2.1" transform="translate(85.9 30.9) rotate(-16)" opacity=".6"/><ellipse rx="3" ry="1.7" transform="translate(99.6 80.4) rotate(-20)" opacity=".5"/><ellipse rx="2.4" ry="1.6" transform="translate(135.4 56.1) rotate(-39)"/><ellipse rx="2.5" ry="1.8" transform="translate(84.1 48) rotate(-5)"/><ellipse rx="3" ry="1.9" transform="translate(111.1 37.1) rotate(-36)" opacity=".8"/><ellipse rx="2.6" ry="1.9" transform="translate(99.6 16.9) rotate(-43)"/><ellipse rx="3.4" ry="1.5" transform="translate(110.5 47) rotate(-5)"/><ellipse rx="2.6" ry="1.8" transform="translate(134.4 16.3) rotate(-1)" opacity=".8"/><ellipse rx="2.7" ry="1.7" transform="translate(25.5 74) rotate(-37)"/><ellipse rx="3.2" ry="1.6" transform="translate(13.4 74.1) rotate(2)" opacity=".8"/><ellipse rx="3" ry="1.7" transform="translate(12.8 79.6) rotate(7)"/><ellipse rx="2.5" ry="1.7" transform="translate(14.8 86.8) rotate(-17)" opacity=".5"/><ellipse rx="2.2" ry="1.9" transform="translate(24.8 66.9) rotate(-47)"/><ellipse rx="2.2" ry="1.5" transform="translate(17.8 67.8) rotate(-36)" opacity=".6"/><ellipse rx="3.3" ry="2" transform="translate(19.6 98) rotate(0)"/><ellipse rx="2.6" ry="1.5" transform="translate(24.5 77.5) rotate(6)" opacity=".5"/><ellipse rx="2.3" ry="1.6" transform="translate(26.5 94.7) rotate(-34)" opacity=".8"/><ellipse rx="3.1" ry="1.8" transform="translate(20.8 82.8) rotate(-19)"/><ellipse rx="2.4" ry="2.1" transform="translate(28.5 78.4) rotate(-10)"/><ellipse rx="2.6" ry="2" transform="translate(21.4 86.7) rotate(-8)"/><ellipse rx="2.2" ry="2.1" transform="translate(136.3 103.7) rotate(-37)" opacity=".6"/><ellipse rx="2.5" ry="1.9" transform="translate(124.9 96.7) rotate(-31)"/><ellipse rx="2.8" ry="1.8" transform="translate(104.8 95.1) rotate(7)" opacity=".5"/><ellipse rx="3.3" ry="1.8" transform="translate(104.7 107.7) rotate(-26)"/><ellipse rx="2.4" ry="1.8" transform="translate(106.4 87.5) rotate(-31)" opacity=".4"/><ellipse rx="2.5" ry="2" transform="translate(99.1 106.4) rotate(-8)" opacity=".7"/><ellipse rx="2.3" ry="1.8" transform="translate(84.5 98.6) rotate(-43)" opacity=".7"/><ellipse rx="3" ry="1.6" transform="translate(131.5 97) rotate(-13)"/><ellipse rx="2.6" ry="1.6" transform="translate(133.9 106.5) rotate(-26)"/><ellipse rx="2.5" ry="1.5" transform="translate(100 91.8) rotate(-2)" opacity=".6"/><ellipse rx="2.3" ry="1.8" transform="translate(95.7 90) rotate(8)"/><ellipse rx="2.8" ry="1.5" transform="translate(127.7 103.1) rotate(-48)" opacity=".5"/><ellipse rx="3" ry="1.5" transform="translate(93 97.1) rotate(-37)" opacity=".6"/><ellipse rx="3.4" ry="2" transform="translate(103 99.3) rotate(-15)" opacity=".8"/><ellipse rx="3" ry="1.6" transform="translate(87.4 106) rotate(-24)"/><ellipse rx="2.8" ry="1.5" transform="translate(134.6 89.5) rotate(-6)" opacity=".6"/><ellipse rx="3.1" ry="1.6" transform="translate(35.4 2.3) rotate(-27)" opacity=".7"/><ellipse rx="3.2" ry="1.7" transform="translate(52.3 2.8) rotate(-42)" opacity=".5"/><ellipse rx="3.2" ry="2.1" transform="translate(64.6 2.3) rotate(-41)"/><ellipse rx="2.5" ry="1.5" transform="translate(73.1 3.8) rotate(-8)"/><ellipse rx="2.9" ry="2.1" transform="translate(117 1.5) rotate(-37)"/><ellipse rx="3.1" ry="2.1" transform="translate(13.9 10.8) rotate(-16)" opacity=".6"/><ellipse rx="3.2" ry="1.9" transform="translate(4.6 16.2) rotate(-14)"/><ellipse rx="2.7" ry="1.5" transform="translate(5.4 20) rotate(-21)" opacity=".5"/><ellipse rx="3" ry="2" transform="translate(21.5 16.9) rotate(-28)"/><ellipse rx="3.3" ry="2" transform="translate(9.2 40.8) rotate(-37)" opacity=".7"/><ellipse rx="2.6" ry="1.7" transform="translate(66.2 65.4) rotate(-15)" opacity=".5"/><ellipse rx="2.6" ry="1.7" transform="translate(52.3 90.8) rotate(-10)"/><ellipse rx="3" ry="1.9" transform="translate(70.8 90.8) rotate(-37)" opacity=".7"/><ellipse rx="2.7" ry="1.7" transform="translate(2.3 103.1) rotate(-33)"/><ellipse rx="2.7" ry="1.6" transform="translate(22.3 98.5) rotate(4)" opacity=".4"/><ellipse rx="2.6" ry="1.7" transform="translate(16.2 90) rotate(-31)" opacity=".4"/><ellipse rx="2.9" ry="1.6" transform="translate(78.5 106.2) rotate(-41)"/></g><g fill="#d02ad8" filter="url(#blurN)"><ellipse rx="2" ry="1.1" transform="translate(50.5 31.9) rotate(-48)" opacity=".9"/><ellipse rx="1.7" ry="1.5" transform="translate(62.3 44.2) rotate(-34)" opacity=".7"/><ellipse rx="1.6" ry="1.1" transform="translate(41.5 45.7) rotate(5)" opacity=".7"/><ellipse rx="1.9" ry="1.2" transform="translate(47.6 38.3) rotate(-47)" opacity=".6"/><ellipse rx="1.9" ry="1.1" transform="translate(39.3 41.3) rotate(-30)" opacity=".6"/><ellipse rx="1.5" ry="1.1" transform="translate(22.9 55.7) rotate(-3)" opacity=".8"/><ellipse rx="1.9" ry="1.1" transform="translate(39.2 28.8) rotate(6)" opacity=".6"/><ellipse rx="2" ry="1" transform="translate(56.9 32.3) rotate(-35)" opacity=".9"/><ellipse rx="2" ry="1.5" transform="translate(48.2 26.3) rotate(-33)" opacity=".8"/><ellipse rx="1.8" ry="1.3" transform="translate(33.7 55.9) rotate(-23)" opacity=".7"/><ellipse rx="1.3" ry="1.5" transform="translate(56.8 23.6) rotate(-31)" opacity=".9"/><ellipse rx="1.5" ry=".9" transform="translate(29.8 53.3) rotate(3)" opacity=".8"/><ellipse rx="1.6" ry="1.2" transform="translate(76.8 22.7) rotate(-5)" opacity=".9"/><ellipse rx="2" ry="1.6" transform="translate(31.3 21.8) rotate(-27)" opacity=".6"/><ellipse rx="2" ry="1" transform="translate(19.7 40.4) rotate(-2)" opacity=".7"/><ellipse rx="2.2" ry="1.2" transform="translate(42 25.8) rotate(-47)" opacity=".6"/><ellipse rx="1.7" ry="1.1" transform="translate(32.4 46.1) rotate(-40)" opacity=".9"/><ellipse rx="1.6" ry="1.2" transform="translate(69.3 15.2) rotate(-41)" opacity=".8"/><ellipse rx="1.7" ry="1.4" transform="translate(60.3 24.5) rotate(-15)" opacity=".7"/><ellipse rx="1.2" ry="1.5" transform="translate(54.8 26.7) rotate(-10)" opacity=".9"/><ellipse rx="1.7" ry="1.2" transform="translate(73.9 28.4) rotate(-41)" opacity=".9"/><ellipse rx="2.1" ry="1.4" transform="translate(68.8 23.4) rotate(-29)" opacity=".9"/><ellipse rx="1.7" ry="1.5" transform="translate(30.3 41.5) rotate(-36)" opacity=".9"/><ellipse rx="1.5" ry="1.2" transform="translate(22.7 26.2) rotate(-20)" opacity=".8"/><ellipse rx="1.8" ry="1.2" transform="translate(36.8 31.4) rotate(-34)" opacity=".9"/><ellipse rx="1.6" ry="1.7" transform="translate(75.2 11.9) rotate(-10)" opacity=".9"/><ellipse rx="1.7" ry="1.1" transform="translate(50.5 17.5) rotate(-26)" opacity=".7"/><ellipse rx="1.6" ry="1.1" transform="translate(27.4 57.4) rotate(-8)" opacity=".6"/><ellipse rx="2.4" ry="1.2" transform="translate(68.2 20.4) rotate(5)" opacity=".9"/><ellipse rx="2.1" ry="1.4" transform="translate(112.4 7) rotate(-8)" opacity=".7"/><ellipse rx="2" ry="1.3" transform="translate(128.5 22.2) rotate(-14)" opacity=".8"/><ellipse rx="1.1" ry="1.2" transform="translate(144.1 64) rotate(-40)" opacity=".9"/><ellipse rx="1.7" ry="1.2" transform="translate(96 84.5) rotate(-37)" opacity=".8"/><ellipse rx="1.5" ry="1" transform="translate(130.6 67) rotate(-47)" opacity=".9"/><ellipse rx="1.3" ry="1.4" transform="translate(145.3 31) rotate(-48)" opacity=".9"/><ellipse rx="1.4" ry="1.1" transform="translate(146.4 72.8) rotate(-41)" opacity=".9"/><ellipse rx="1.8" ry="1.2" transform="translate(129.8 30) rotate(-31)" opacity=".8"/><ellipse rx="2" ry=".9" transform="translate(141.1 8.4) rotate(-44)" opacity=".7"/><ellipse rx="2.5" ry="1.3" transform="translate(124.2 19.8) rotate(-31)" opacity=".8"/><ellipse rx="1.7" ry=".9" transform="translate(145.7 14.2) rotate(-41)" opacity=".8"/><ellipse rx="1.7" ry="1" transform="translate(93 67.4) rotate(-28)" opacity=".7"/><ellipse rx="1.8" ry="1.3" transform="translate(147.1 56.8) rotate(-47)" opacity=".7"/><ellipse rx="1.5" ry="1.1" transform="translate(101 51) rotate(-16)" opacity=".8"/><ellipse rx="1.9" ry="1.1" transform="translate(145 50.3) rotate(-47)" opacity=".7"/><ellipse rx="2.1" ry="1.2" transform="translate(113.9 39.9) rotate(-6)" opacity=".8"/><ellipse rx="2.3" ry="1.6" transform="translate(92.9 50) rotate(-11)" opacity=".9"/><ellipse rx="1.5" ry="1.7" transform="translate(140.9 72) rotate(-8)" opacity=".7"/><ellipse rx="1.7" ry="1.2" transform="translate(137.5 17) rotate(-36)" opacity=".6"/><ellipse rx="1.3" ry="1.2" transform="translate(124.1 81.2) rotate(-27)" opacity=".7"/><ellipse rx="1.3" ry="1.3" transform="translate(104.4 40.2) rotate(-12)" opacity=".9"/><ellipse rx="1.6" ry="1" transform="translate(145.7 37) rotate(-47)" opacity=".7"/><ellipse rx="1.2" ry="1.2" transform="translate(106.7 63.9) rotate(-35)" opacity=".8"/><ellipse rx="1.7" ry="1.4" transform="translate(94.3 47) rotate(-34)" opacity=".7"/><ellipse rx="1.7" ry="1.4" transform="translate(132.4 73.6) rotate(-20)" opacity=".6"/><ellipse rx="1.6" ry="1.2" transform="translate(123 72.8) rotate(-1)" opacity=".8"/><ellipse rx="1.1" ry="1.4" transform="translate(143.9 17.7) rotate(-12)" opacity=".6"/><ellipse rx="1.5" ry="1.6" transform="translate(103.4 46.9) rotate(-35)" opacity=".6"/><ellipse rx="1.4" ry="1.5" transform="translate(136.3 71.2) rotate(-24)" opacity=".7"/><ellipse rx="1.7" ry="1.6" transform="translate(89.7 10.7) rotate(0)" opacity=".6"/><ellipse rx="1.6" ry="1.2" transform="translate(120.1 72.4) rotate(-30)" opacity=".7"/><ellipse rx="1.2" ry="1.2" transform="translate(131.3 8.7) rotate(-22)" opacity=".9"/><ellipse rx="2.3" ry="1" transform="translate(101.6 12.2) rotate(-1)" opacity=".8"/><ellipse rx="1.6" ry="1" transform="translate(91.8 77.6) rotate(-36)" opacity=".7"/><ellipse rx="2.2" ry="1.5" transform="translate(140.7 38.8) rotate(-25)" opacity=".9"/><ellipse rx="1.5" ry="1.2" transform="translate(97.2 73) rotate(-34)" opacity=".7"/><ellipse rx="1.7" ry=".9" transform="translate(127.7 54.9) rotate(-11)" opacity=".9"/><ellipse rx="2.1" ry="1.5" transform="translate(136.7 45.1) rotate(-40)" opacity=".8"/><ellipse rx="1.5" ry="1.1" transform="translate(122.5 59.7) rotate(-38)" opacity=".8"/><ellipse rx="2.5" ry="1.4" transform="translate(89.4 39.1) rotate(-16)" opacity=".9"/><ellipse rx="1.4" ry="1.2" transform="translate(85.5 30.4) rotate(-16)" opacity=".7"/><ellipse rx="1.6" ry=".9" transform="translate(98.8 80.1) rotate(-20)" opacity=".8"/><ellipse rx="1.9" ry="1.1" transform="translate(135.4 56.3) rotate(-39)" opacity=".7"/><ellipse rx="1.5" ry="1.3" transform="translate(110.8 36.9) rotate(-36)" opacity=".6"/><ellipse rx="1.2" ry="1.2" transform="translate(98.9 16.9) rotate(-43)" opacity=".9"/><ellipse rx="2" ry="1.2" transform="translate(135 16.6) rotate(-1)" opacity=".8"/><ellipse rx="2.2" ry="1.1" transform="translate(13.1 73.9) rotate(2)" opacity=".7"/><ellipse rx="1.8" ry="1" transform="translate(12.4 79.1) rotate(7)" opacity=".7"/><ellipse rx="1.5" ry="1.5" transform="translate(24.1 67) rotate(-47)" opacity=".8"/><ellipse rx="1.3" ry="1.1" transform="translate(17.3 68.2) rotate(-36)" opacity=".9"/><ellipse rx="2.4" ry="1.2" transform="translate(19.1 98.2) rotate(0)" opacity=".7"/><ellipse rx="1.5" ry=".9" transform="translate(24.2 77.1) rotate(6)" opacity=".6"/><ellipse rx="1.2" ry="1.4" transform="translate(26.3 94.8) rotate(-34)" opacity=".9"/><ellipse rx="1.8" ry="1.3" transform="translate(20.5 82.8) rotate(-19)" opacity=".7"/><ellipse rx="1.4" ry="1.3" transform="translate(28.7 77.9) rotate(-10)" opacity=".7"/><ellipse rx="1.8" ry="1.1" transform="translate(124.4 97.1) rotate(-31)" opacity=".6"/><ellipse rx="1.9" ry="1.3" transform="translate(105.3 95.3) rotate(7)" opacity=".8"/><ellipse rx="1.1" ry="1.2" transform="translate(106.7 87.5) rotate(-31)" opacity=".8"/><ellipse rx="1.8" ry="1.5" transform="translate(99.4 105.9) rotate(-8)" opacity=".9"/><ellipse rx="1.7" ry="1.1" transform="translate(127.2 103.3) rotate(-48)" opacity=".6"/><ellipse rx="1.7" ry=".8" transform="translate(93.8 96.9) rotate(-37)" opacity=".6"/><ellipse rx="2.7" ry="1.3" transform="translate(102.5 99.6) rotate(-15)" opacity=".6"/><ellipse rx="1.3" ry=".9" transform="translate(134.2 89.1) rotate(-6)" opacity=".6"/><ellipse rx="1.9" ry="1" transform="translate(52.2 2.7) rotate(-42)" opacity=".7"/><ellipse rx="2.1" ry="1.7" transform="translate(64.1 2.6) rotate(-41)" opacity=".7"/><ellipse rx="1.3" ry=".9" transform="translate(73.3 3.8) rotate(-8)" opacity=".8"/><ellipse rx="1.8" ry="1.5" transform="translate(117.6 1.7) rotate(-37)" opacity=".6"/><ellipse rx="1.5" ry="1.5" transform="translate(4.2 15.7) rotate(-14)" opacity=".8"/><ellipse rx="1.8" ry=".9" transform="translate(5.7 20.4) rotate(-21)" opacity=".6"/><ellipse rx="2.2" ry="1.7" transform="translate(21.1 17) rotate(-28)" opacity=".7"/><ellipse rx="1.9" ry="1.3" transform="translate(9.4 41.2) rotate(-37)" opacity=".7"/><ellipse rx="1.7" ry="1.3" transform="translate(2.5 103.4) rotate(-33)" opacity=".7"/><ellipse rx="1.3" ry="1" transform="translate(16.9 90) rotate(-31)" opacity=".9"/></g></g>
<clipPath id="cp14"><rect x=".3" y=".1" width="146" height="109.3"/></clipPath><g transform="translate(646,590)" clip-path="url(#cp14)"><rect x="-2" y="-2" width="152" height="114" fill="#03010f"/><g fill="#1416ee" opacity=".9" filter="url(#blurN)"><ellipse rx="2.4" ry="1.9" transform="translate(33.4 3.3) rotate(31)" opacity=".7"/><ellipse rx="3" ry="2" transform="translate(.1 29.3) rotate(22)" opacity=".6"/><ellipse rx="3.1" ry="2" transform="translate(26.6 29.3) rotate(13)" opacity=".6"/><ellipse rx="2.5" ry="1.9" transform="translate(11.9 79.7) rotate(14)" opacity=".7"/><ellipse rx="2.5" ry="1.6" transform="translate(16.4 58.9) rotate(10)" opacity=".5"/><ellipse rx="3" ry="1.8" transform="translate(54.6 87) rotate(30)" opacity=".7"/><ellipse rx="2.3" ry="1.6" transform="translate(34.6 69.3) rotate(17)"/><ellipse rx="2.8" ry="1.7" transform="translate(21 68.1) rotate(33)" opacity=".7"/><ellipse rx="2.8" ry="1.6" transform="translate(23.3 62.8) rotate(27)"/><ellipse rx="2.2" ry="1.6" transform="translate(53.8 4.9) rotate(12)" opacity=".6"/><ellipse rx="2.6" ry="1.8" transform="translate(39.7 71.1) rotate(12)" opacity=".4"/><ellipse rx="2.8" ry="1.7" transform="translate(44.7 4.3) rotate(28)" opacity=".5"/><ellipse rx="2.4" ry="1.9" transform="translate(34 19.7) rotate(22)"/><ellipse rx="3.2" ry="2" transform="translate(62.3 68.4) rotate(15)"/><ellipse rx="2.6" ry="2.1" transform="translate(52.9 69) rotate(13)"/><ellipse rx="2.9" ry="1.6" transform="translate(44.7 34) rotate(37)" opacity=".8"/><ellipse rx="2.9" ry="2" transform="translate(44.4 66.4) rotate(3)"/><ellipse rx="2.7" ry="2.1" transform="translate(3.4 107.5) rotate(34)" opacity=".6"/><ellipse rx="2.9" ry="1.6" transform="translate(60.6 2.5) rotate(1)" opacity=".4"/><ellipse rx="2.4" ry="1.6" transform="translate(34.6 27.8) rotate(12)" opacity=".7"/><ellipse rx="3.2" ry="1.8" transform="translate(28.8 21.4) rotate(1)" opacity=".5"/><ellipse rx="2.7" ry="1.6" transform="translate(62.5 58.9) rotate(26)" opacity=".6"/><ellipse rx="2.8" ry="2" transform="translate(63 28) rotate(6)" opacity=".8"/><ellipse rx="3.4" ry="2.1" transform="translate(19.3 33) rotate(3)" opacity=".8"/><ellipse rx="3.2" ry="1.8" transform="translate(45.7 61.4) rotate(5)"/><ellipse rx="2.6" ry="1.6" transform="translate(41.6 29.8) rotate(6)" opacity=".6"/><ellipse rx="3.1" ry="2" transform="translate(39.9 49) rotate(6)"/><ellipse rx="3.2" ry="1.6" transform="translate(43.5 37.8) rotate(33)"/><ellipse rx="3.2" ry="2" transform="translate(46.5 20.1) rotate(17)" opacity=".4"/><ellipse rx="3.2" ry="2.1" transform="translate(31.6 13.8) rotate(36)" opacity=".4"/><ellipse rx="2.3" ry="1.9" transform="translate(3.6 .1) rotate(4)" opacity=".6"/><ellipse rx="2.2" ry="1.7" transform="translate(30.6 58.4) rotate(11)" opacity=".6"/><ellipse rx="2.6" ry="1.9" transform="translate(12.2 14.6) rotate(30)" opacity=".5"/><ellipse rx="2.7" ry="1.6" transform="translate(4.2 62.8) rotate(18)"/><ellipse rx="2.8" ry="1.8" transform="translate(37.9 99.6) rotate(32)" opacity=".4"/><ellipse rx="2.4" ry="1.9" transform="translate(56.6 93.6) rotate(5)"/><ellipse rx="2.7" ry="2" transform="translate(59.2 65.7) rotate(9)"/><ellipse rx="2.5" ry="2" transform="translate(36.5 44.7) rotate(7)" opacity=".5"/><ellipse rx="2.6" ry="2" transform="translate(54.6 57.8) rotate(13)"/><ellipse rx="2.5" ry="1.6" transform="translate(1.6 38.4) rotate(5)"/><ellipse rx="3.2" ry="2" transform="translate(25.4 58) rotate(2)"/><ellipse rx="3.3" ry="2.1" transform="translate(15.8 25.3) rotate(9)" opacity=".7"/><ellipse rx="2.4" ry="1.8" transform="translate(60.8 37.7) rotate(32)" opacity=".7"/><ellipse rx="2.4" ry="1.9" transform="translate(8.5 58.3) rotate(34)" opacity=".7"/><ellipse rx="3.4" ry="1.8" transform="translate(40.9 33.7) rotate(35)"/><ellipse rx="3.3" ry="1.5" transform="translate(25.1 69.5) rotate(8)" opacity=".5"/><ellipse rx="2.9" ry="2.1" transform="translate(41.3 43.8) rotate(11)" opacity=".6"/><ellipse rx="3.3" ry="2" transform="translate(46.1 82.9) rotate(6)" opacity=".7"/><ellipse rx="3.2" ry="2.1" transform="translate(59.6 49.1) rotate(31)" opacity=".4"/><ellipse rx="3.1" ry="1.7" transform="translate(6.1 90) rotate(32)" opacity=".4"/><ellipse rx="2.6" ry="1.7" transform="translate(16.2 5.1) rotate(32)"/><ellipse rx="2.9" ry="1.6" transform="translate(50.8 106.6) rotate(34)" opacity=".7"/><ellipse rx="3.3" ry="1.7" transform="translate(23.9 4) rotate(6)"/><ellipse rx="2.7" ry="1.8" transform="translate(12.3 102) rotate(38)" opacity=".5"/><ellipse rx="2.3" ry="1.5" transform="translate(42.7 88.1) rotate(24)" opacity=".6"/><ellipse rx="2.4" ry="1.6" transform="translate(57.4 4.2) rotate(1)"/><ellipse rx="2.3" ry="1.5" transform="translate(22.5 96.4) rotate(28)" opacity=".7"/><ellipse rx="2.5" ry="1.7" transform="translate(8.2 43) rotate(4)" opacity=".8"/><ellipse rx="3.1" ry="1.6" transform="translate(58.2 70.5) rotate(5)" opacity=".7"/><ellipse rx="2.4" ry="1.9" transform="translate(6.5 100.1) rotate(32)" opacity=".4"/><ellipse rx="2.4" ry="1.6" transform="translate(10.5 66.5) rotate(30)" opacity=".6"/><ellipse rx="3" ry="2.1" transform="translate(60.8 85.7) rotate(1)" opacity=".6"/><ellipse rx="2.5" ry="1.9" transform="translate(50.1 41.5) rotate(19)"/><ellipse rx="3" ry="2" transform="translate(62.7 72.9) rotate(5)" opacity=".7"/><ellipse rx="2.8" ry="1.8" transform="translate(33.4 37.4) rotate(33)" opacity=".8"/><ellipse rx="2.8" ry="1.7" transform="translate(7.6 9.3) rotate(36)" opacity=".4"/><ellipse rx="2.3" ry="1.9" transform="translate(55.4 74.3) rotate(22)"/><ellipse rx="2.6" ry="2" transform="translate(50.5 92) rotate(25)"/><ellipse rx="2.6" ry="1.6" transform="translate(20.6 10.1) rotate(29)" opacity=".8"/><ellipse rx="2.9" ry="2" transform="translate(34.4 83.1) rotate(9)"/><ellipse rx="2.6" ry="2" transform="translate(13.6 48.3) rotate(24)" opacity=".7"/><ellipse rx="2.7" ry="1.7" transform="translate(45.2 96.8) rotate(11)" opacity=".7"/><ellipse rx="2.3" ry="1.7" transform="translate(40.7 92.5) rotate(25)"/><ellipse rx="2.3" ry="1.7" transform="translate(20.3 53) rotate(16)" opacity=".7"/><ellipse rx="3.2" ry="1.8" transform="translate(32.6 52.2) rotate(0)" opacity=".7"/><ellipse rx="2.4" ry="1.6" transform="translate(6.2 37.9) rotate(31)"/><ellipse rx="3" ry="1.5" transform="translate(19.4 107) rotate(6)" opacity=".5"/><ellipse rx="2.3" ry="2.1" transform="translate(58 10.9) rotate(26)" opacity=".6"/><ellipse rx="3.2" ry="1.7" transform="translate(54.4 80.4) rotate(27)" opacity=".7"/><ellipse rx="2.4" ry="2.1" transform="translate(21.8 103.4) rotate(11)" opacity=".5"/><ellipse rx="2.8" ry="1.7" transform="translate(30.9 81.7) rotate(23)"/><ellipse rx="2.7" ry="1.8" transform="translate(4.5 16.3) rotate(29)"/><ellipse rx="2.5" ry="1.7" transform="translate(37.2 8.4) rotate(6)"/><ellipse rx="3.4" ry="1.6" transform="translate(9.3 94) rotate(26)" opacity=".5"/><ellipse rx="2.5" ry="2" transform="translate(53 17.7) rotate(6)" opacity=".7"/><ellipse rx="2.6" ry="1.9" transform="translate(12.8 36) rotate(0)"/><ellipse rx="3.1" ry="1.6" transform="translate(39.6 22.3) rotate(7)"/><ellipse rx="2.2" ry="2" transform="translate(10.7 70.7) rotate(37)" opacity=".5"/><ellipse rx="3.3" ry="1.8" transform="translate(59.4 19.3) rotate(17)" opacity=".6"/><ellipse rx="3" ry="1.7" transform="translate(50.1 6) rotate(4)" opacity=".6"/><ellipse rx="2.6" ry="1.7" transform="translate(37.2 17.9) rotate(6)"/><ellipse rx="3.3" ry="1.8" transform="translate(28.1 6.7) rotate(22)" opacity=".8"/><ellipse rx="3" ry="2" transform="translate(101.4 1.5) rotate(21)" opacity=".6"/><ellipse rx="2.5" ry="1.9" transform="translate(75.7 17.9) rotate(15)" opacity=".6"/><ellipse rx="2.8" ry="1.5" transform="translate(80.8 57.1) rotate(3)" opacity=".7"/><ellipse rx="3.2" ry="1.5" transform="translate(79.5 36.2) rotate(20)" opacity=".6"/><ellipse rx="3.1" ry="1.8" transform="translate(75.7 72.9) rotate(34)" opacity=".6"/><ellipse rx="3" ry="2.1" transform="translate(89.9 58) rotate(7)" opacity=".6"/><ellipse rx="2.5" ry="1.6" transform="translate(73.4 44.8) rotate(38)" opacity=".7"/><ellipse rx="2.3" ry="1.7" transform="translate(83.1 81.1) rotate(26)"/><ellipse rx="3" ry="1.8" transform="translate(82 18.4) rotate(26)" opacity=".6"/><ellipse rx="2.3" ry="1.9" transform="translate(106.7 27) rotate(4)"/><ellipse rx="2.3" ry="2.1" transform="translate(103.4 85.9) rotate(12)"/><ellipse rx="3.3" ry="1.5" transform="translate(97.7 32.7) rotate(12)" opacity=".7"/><ellipse rx="2.8" ry="1.8" transform="translate(65.6 76.4) rotate(28)"/><ellipse rx="2.8" ry="2" transform="translate(83.9 10.9) rotate(4)"/><ellipse rx="2.3" ry="1.8" transform="translate(104.7 55.6) rotate(36)" opacity=".6"/><ellipse rx="2.9" ry="1.7" transform="translate(75.7 60.8) rotate(31)" opacity=".4"/><ellipse rx="3.1" ry="1.6" transform="translate(67.2 21.7) rotate(21)" opacity=".4"/><ellipse rx="2.5" ry="1.7" transform="translate(103.8 46.9) rotate(2)"/><ellipse rx="3.4" ry="1.6" transform="translate(93.1 77.5) rotate(29)" opacity=".5"/><ellipse rx="3.1" ry="1.6" transform="translate(88.4 70.8) rotate(39)" opacity=".7"/><ellipse rx="2.9" ry="1.9" transform="translate(83.7 36.6) rotate(34)" opacity=".7"/><ellipse rx="3.2" ry="1.5" transform="translate(102.4 69.3) rotate(29)" opacity=".6"/><ellipse rx="3.3" ry="1.8" transform="translate(105.8 20.3) rotate(11)" opacity=".6"/><ellipse rx="3.2" ry="1.6" transform="translate(104.6 3.6) rotate(2)" opacity=".4"/><ellipse rx="3" ry="1.7" transform="translate(92.3 71.1) rotate(9)" opacity=".6"/><ellipse rx="3" ry="2" transform="translate(104.4 33.9) rotate(30)"/><ellipse rx="3.1" ry="1.5" transform="translate(79.5 85) rotate(17)" opacity=".7"/><ellipse rx="2.5" ry="1.9" transform="translate(100.8 8.7) rotate(22)"/><ellipse rx="3.3" ry="1.9" transform="translate(134.3 57.8) rotate(34)" opacity=".4"/><ellipse rx="2.2" ry="1.5" transform="translate(112.2 69.4) rotate(15)" opacity=".6"/><ellipse rx="2.2" ry="1.7" transform="translate(135.9 80.3) rotate(6)" opacity=".5"/><ellipse rx="2.6" ry="1.8" transform="translate(139.8 55.6) rotate(22)" opacity=".6"/><ellipse rx="3.3" ry="1.8" transform="translate(120.9 32.3) rotate(20)" opacity=".5"/><ellipse rx="2.7" ry="2.1" transform="translate(129.9 79.3) rotate(38)"/><ellipse rx="2.8" ry="2.1" transform="translate(132.6 13.2) rotate(30)" opacity=".5"/><ellipse rx="2.5" ry="1.5" transform="translate(144.2 52) rotate(31)" opacity=".4"/><ellipse rx="3.4" ry="1.8" transform="translate(131.5 86.9) rotate(26)" opacity=".7"/><ellipse rx="3.2" ry="1.9" transform="translate(132.7 41.7) rotate(1)"/><ellipse rx="3" ry="1.6" transform="translate(144.4 99.5) rotate(25)"/><ellipse rx="3.1" ry="1.7" transform="translate(114.1 75.1) rotate(37)"/><ellipse rx="2.4" ry="2.1" transform="translate(145.1 34.3) rotate(11)" opacity=".5"/><ellipse rx="3" ry="1.5" transform="translate(143.6 12.3) rotate(4)"/><ellipse rx="3" ry="1.7" transform="translate(49.8 95.6) rotate(37)"/><ellipse rx="2.6" ry="1.5" transform="translate(56.3 106.5) rotate(2)"/><ellipse rx="3.4" ry="1.6" transform="translate(48.8 103.5) rotate(17)" opacity=".4"/><ellipse rx="2.4" ry="2" transform="translate(78.1 92.8) rotate(-12)" opacity=".8"/><ellipse rx="2.7" ry="1.6" transform="translate(47.2 90) rotate(-5)" opacity=".8"/><ellipse rx="2.8" ry="1.7" transform="translate(67 92.8) rotate(5)" opacity=".8"/><ellipse rx="3.4" ry="1.5" transform="translate(57.7 101.4) rotate(-6)"/><ellipse rx="2.4" ry="1.6" transform="translate(75 105.2) rotate(52)"/><ellipse rx="2.7" ry="1.7" transform="translate(71.4 93.8) rotate(59)" opacity=".6"/><ellipse rx="3.2" ry="1.5" transform="translate(61.9 96.9) rotate(24)" opacity=".5"/><ellipse rx="2.5" ry="1.9" transform="translate(44.5 105.2) rotate(41)" opacity=".5"/><ellipse rx="3.1" ry="1.8" transform="translate(61.1 103) rotate(39)"/><ellipse rx="2.3" ry="1.8" transform="translate(90.8 93.1) rotate(8)" opacity=".5"/><ellipse rx="3.1" ry="1.5" transform="translate(95.4 105.4) rotate(41)" opacity=".8"/></g><g fill="#d02ad8" filter="url(#blurN)"><ellipse rx="1.4" ry="1.2" transform="translate(33 3.5) rotate(31)" opacity=".6"/><ellipse rx="2.3" ry="1.4" transform="translate(54.7 86.5) rotate(30)" opacity=".7"/><ellipse rx="1.5" ry="1.3" transform="translate(34.7 69) rotate(17)" opacity=".7"/><ellipse rx="2" ry="1.1" transform="translate(21.3 68.5) rotate(33)" opacity=".8"/><ellipse rx="2.1" ry="1.1" transform="translate(23.6 62.5) rotate(27)" opacity=".8"/><ellipse rx="2" ry="1.5" transform="translate(39.3 70.6) rotate(12)" opacity=".7"/><ellipse rx="1.2" ry="1.3" transform="translate(34.2 20) rotate(22)" opacity=".7"/><ellipse rx="1.5" ry=".9" transform="translate(45.2 34.1) rotate(37)" opacity=".8"/><ellipse rx="1.6" ry="1.3" transform="translate(28.6 21.4) rotate(1)" opacity=".8"/><ellipse rx="1.9" ry="1" transform="translate(62.6 58.6) rotate(26)" opacity=".9"/><ellipse rx="2.5" ry="1.3" transform="translate(45.5 61.1) rotate(5)" opacity=".7"/><ellipse rx="2.1" ry=".9" transform="translate(41.9 30.1) rotate(6)" opacity=".7"/><ellipse rx="2.4" ry="1.5" transform="translate(40.5 49.5) rotate(6)" opacity=".8"/><ellipse rx="1.8" ry="1.6" transform="translate(31.8 14.2) rotate(36)" opacity=".9"/><ellipse rx="1.2" ry="1.1" transform="translate(3.8 -0) rotate(4)" opacity=".8"/><ellipse rx="1" ry="1.2" transform="translate(30.8 58.3) rotate(11)" opacity=".9"/><ellipse rx="1.3" ry="1.4" transform="translate(12.9 14.3) rotate(30)" opacity=".7"/><ellipse rx="1.3" ry=".9" transform="translate(4.3 62.5) rotate(18)" opacity=".7"/><ellipse rx="1.8" ry="1.3" transform="translate(58.7 65.6) rotate(9)" opacity=".8"/><ellipse rx="1.4" ry="1.3" transform="translate(36.2 44.9) rotate(7)" opacity=".6"/><ellipse rx="2.2" ry="1.7" transform="translate(24.9 58.2) rotate(2)" opacity=".8"/><ellipse rx="2.6" ry="1.3" transform="translate(15.1 25.1) rotate(9)" opacity=".6"/><ellipse rx="1.2" ry="1.4" transform="translate(60.8 38) rotate(32)" opacity=".9"/><ellipse rx="1.7" ry="1.1" transform="translate(8.8 58.5) rotate(34)" opacity=".9"/><ellipse rx="2.4" ry="1.1" transform="translate(25.5 69.9) rotate(8)" opacity=".8"/><ellipse rx="1.7" ry="1.5" transform="translate(41.6 43.7) rotate(11)" opacity=".9"/><ellipse rx="2.3" ry="1.1" transform="translate(5.5 89.9) rotate(32)" opacity=".9"/><ellipse rx="1.9" ry="1.2" transform="translate(24.5 3.8) rotate(6)" opacity=".6"/><ellipse rx="1.7" ry="1" transform="translate(12.4 101.9) rotate(38)" opacity=".7"/><ellipse rx="1.5" ry=".8" transform="translate(42.8 88.5) rotate(24)" opacity=".6"/><ellipse rx="1.5" ry="1.3" transform="translate(56.9 4.6) rotate(1)" opacity=".9"/><ellipse rx="1.8" ry="1.1" transform="translate(22.4 95.9) rotate(28)" opacity=".9"/><ellipse rx="1.7" ry="1.3" transform="translate(5.9 100.4) rotate(32)" opacity=".6"/><ellipse rx="1.8" ry="1.3" transform="translate(10.4 66.4) rotate(30)" opacity=".6"/><ellipse rx="2.3" ry="1.2" transform="translate(60.3 85.8) rotate(1)" opacity=".9"/><ellipse rx="1.5" ry="1.4" transform="translate(7.8 9) rotate(36)" opacity=".9"/><ellipse rx="1.2" ry="1.6" transform="translate(55.6 74.3) rotate(22)" opacity=".8"/><ellipse rx="1.6" ry="1.3" transform="translate(33.8 82.7) rotate(9)" opacity=".9"/><ellipse rx="1.5" ry="1.3" transform="translate(12.9 48.6) rotate(24)" opacity=".6"/><ellipse rx="2.1" ry="1.2" transform="translate(44.9 96.7) rotate(11)" opacity=".7"/><ellipse rx="1.4" ry="1.1" transform="translate(41.4 92.8) rotate(25)" opacity=".6"/><ellipse rx="2.1" ry="1" transform="translate(31.8 51.7) rotate(0)" opacity=".7"/><ellipse rx="1.8" ry=".9" transform="translate(18.8 107.1) rotate(6)" opacity=".9"/><ellipse rx="1.5" ry="1.3" transform="translate(54.1 80.3) rotate(27)" opacity=".9"/><ellipse rx="1.8" ry="1.2" transform="translate(21.7 103.9) rotate(11)" opacity=".6"/><ellipse rx="2" ry="1.4" transform="translate(36.6 8.4) rotate(6)" opacity=".9"/><ellipse rx="1.9" ry="1" transform="translate(40.2 22.6) rotate(7)" opacity=".8"/><ellipse rx="1.4" ry="1.5" transform="translate(11.4 70.8) rotate(37)" opacity=".6"/><ellipse rx="2.5" ry="1.3" transform="translate(59.6 19.2) rotate(17)" opacity=".6"/><ellipse rx="1.8" ry="1.3" transform="translate(49.3 5.6) rotate(4)" opacity=".9"/><ellipse rx="1.7" ry="1.4" transform="translate(37.7 18.3) rotate(6)" opacity=".8"/><ellipse rx="2.3" ry="1.1" transform="translate(28.3 6.4) rotate(22)" opacity=".8"/><ellipse rx="1.4" ry="1.2" transform="translate(101.3 2) rotate(21)" opacity=".6"/><ellipse rx="1.8" ry="1.2" transform="translate(80.2 57.3) rotate(3)" opacity=".7"/><ellipse rx="1.7" ry="1" transform="translate(79.7 36.1) rotate(20)" opacity=".7"/><ellipse rx="2.1" ry="1" transform="translate(75.2 73.2) rotate(34)" opacity=".6"/><ellipse rx="2.2" ry="1.6" transform="translate(89.3 57.6) rotate(7)" opacity=".8"/><ellipse rx="1.8" ry="1.3" transform="translate(82.8 81.3) rotate(26)" opacity=".8"/><ellipse rx="1.7" ry="1.6" transform="translate(104 86) rotate(12)" opacity=".7"/><ellipse rx="2" ry="1" transform="translate(97.9 32.5) rotate(12)" opacity=".6"/><ellipse rx="1.3" ry="1.1" transform="translate(66 76.1) rotate(28)" opacity=".9"/><ellipse rx="1.3" ry="1.3" transform="translate(83.4 10.6) rotate(4)" opacity=".9"/><ellipse rx="1.1" ry="1.1" transform="translate(105.1 55.3) rotate(36)" opacity=".9"/><ellipse rx="2.3" ry=".9" transform="translate(67.9 21.7) rotate(21)" opacity=".9"/><ellipse rx="1.5" ry="1.2" transform="translate(104.1 47.1) rotate(2)" opacity=".8"/><ellipse rx="1.4" ry=".9" transform="translate(88.2 71) rotate(39)" opacity=".7"/><ellipse rx="1.9" ry="1.2" transform="translate(103.1 69.3) rotate(29)" opacity=".8"/><ellipse rx="1.9" ry="1.5" transform="translate(106.5 20.7) rotate(11)" opacity=".6"/><ellipse rx="2.1" ry="1.5" transform="translate(104.7 33.5) rotate(30)" opacity=".7"/><ellipse rx="2.4" ry="1.1" transform="translate(80.1 84.7) rotate(17)" opacity=".6"/><ellipse rx="2" ry="1.4" transform="translate(100.5 8.6) rotate(22)" opacity=".7"/><ellipse rx="1.4" ry="1.2" transform="translate(112.3 69.8) rotate(15)" opacity=".8"/><ellipse rx="1.2" ry="1" transform="translate(136.2 80.5) rotate(6)" opacity=".9"/><ellipse rx="1.4" ry="1.4" transform="translate(140.5 55.1) rotate(22)" opacity=".6"/><ellipse rx="2" ry="1.5" transform="translate(120.6 32.3) rotate(20)" opacity=".7"/><ellipse rx="2.2" ry="1.2" transform="translate(133.2 13.2) rotate(30)" opacity=".9"/><ellipse rx="1.6" ry="1" transform="translate(144.4 52.2) rotate(31)" opacity=".6"/><ellipse rx="1.7" ry="1.3" transform="translate(130.8 86.7) rotate(26)" opacity=".7"/><ellipse rx="2" ry="1.2" transform="translate(132.4 42.1) rotate(1)" opacity=".8"/><ellipse rx="1.9" ry="1.3" transform="translate(144.3 99.7) rotate(25)" opacity=".6"/><ellipse rx="1.5" ry="1.3" transform="translate(113.8 74.7) rotate(37)" opacity=".8"/><ellipse rx="1.9" ry="1.6" transform="translate(145.6 34.8) rotate(11)" opacity=".6"/><ellipse rx="2.1" ry="1.3" transform="translate(49.7 96) rotate(37)" opacity=".7"/><ellipse rx="1.6" ry="1.3" transform="translate(48 103.9) rotate(17)" opacity=".8"/><ellipse rx="1.1" ry="1.6" transform="translate(77.8 93.2) rotate(-12)" opacity=".6"/><ellipse rx="1.9" ry=".9" transform="translate(47.8 90) rotate(-5)" opacity=".7"/><ellipse rx="1.9" ry="1.1" transform="translate(58 101.1) rotate(-6)" opacity=".6"/><ellipse rx="1.5" ry="1" transform="translate(75.3 105.2) rotate(52)" opacity=".7"/><ellipse rx="1.3" ry="1.1" transform="translate(91.4 92.6) rotate(8)" opacity=".6"/></g></g>
<clipPath id="cp15"><rect x=".2" y=".1" width="146.3" height="109.3"/></clipPath><g transform="translate(797,590)" clip-path="url(#cp15)"><rect x="-2" y="-2" width="152" height="114" fill="#03010f"/><g fill="#1416ee" opacity=".9" filter="url(#blurN)"><ellipse rx="2.2" ry="1.9" transform="translate(29.2 81.4) rotate(-6)" opacity=".5"/><ellipse rx="2.8" ry="1.5" transform="translate(70.8 56) rotate(-49)"/><ellipse rx="3" ry="1.7" transform="translate(18.3 94.8) rotate(-22)"/><ellipse rx="3.2" ry="2.1" transform="translate(24.4 85.3) rotate(-53)"/><ellipse rx="3.3" ry="1.8" transform="translate(33.6 44.6) rotate(-28)"/><ellipse rx="3" ry="2" transform="translate(40.7 53.1) rotate(-22)"/><ellipse rx="3.3" ry="2.1" transform="translate(54.3 55.5) rotate(-31)"/><ellipse rx="3.4" ry="1.6" transform="translate(19.6 68.6) rotate(-45)"/><ellipse rx="3.2" ry="1.8" transform="translate(27.6 64.3) rotate(-32)"/><ellipse rx="2.7" ry="2" transform="translate(26.8 42.6) rotate(-40)"/><ellipse rx="3.4" ry="1.7" transform="translate(21.6 76.5) rotate(-9)"/><ellipse rx="3.4" ry="2" transform="translate(8.9 79.9) rotate(-12)" opacity=".6"/><ellipse rx="2.2" ry="1.7" transform="translate(17.3 58.9) rotate(-37)" opacity=".8"/><ellipse rx="2.9" ry="1.8" transform="translate(4.6 64.2) rotate(-31)" opacity=".7"/><ellipse rx="3.1" ry="1.5" transform="translate(5.8 89.4) rotate(-41)" opacity=".4"/><ellipse rx="3.4" ry="1.7" transform="translate(28.8 51) rotate(-22)"/><ellipse rx="2.4" ry="1.8" transform="translate(6.9 45.4) rotate(-54)"/><ellipse rx="3.2" ry="1.7" transform="translate(15.2 52.3) rotate(-39)" opacity=".5"/><ellipse rx="2.4" ry="1.6" transform="translate(5.1 39.8) rotate(-16)"/><ellipse rx="2.8" ry="1.8" transform="translate(32.7 56.2) rotate(-42)"/><ellipse rx="3" ry="1.7" transform="translate(10.5 49.6) rotate(-6)"/><ellipse rx="2.3" ry="1.8" transform="translate(36.6 68.9) rotate(-47)" opacity=".4"/><ellipse rx="3.4" ry="2" transform="translate(38 43.5) rotate(-25)" opacity=".5"/><ellipse rx="2.7" ry="1.8" transform="translate(10.1 61.6) rotate(-44)" opacity=".6"/><ellipse rx="3" ry="1.6" transform="translate(12.8 100.7) rotate(-18)" opacity=".8"/><ellipse rx="2.3" ry="1.5" transform="translate(1.3 48.3) rotate(-8)" opacity=".4"/><ellipse rx="2.6" ry="1.9" transform="translate(47 51.5) rotate(-15)" opacity=".7"/><ellipse rx="3.3" ry="1.9" transform="translate(11.4 73.2) rotate(-22)" opacity=".5"/><ellipse rx="2.3" ry="1.6" transform="translate(67.6 50.1) rotate(-54)" opacity=".6"/><ellipse rx="2.6" ry="1.8" transform="translate(5.9 59.8) rotate(-26)"/><ellipse rx="2.5" ry="2" transform="translate(53.8 44.5) rotate(-29)" opacity=".7"/><ellipse rx="2.3" ry="1.8" transform="translate(40.9 70.3) rotate(-9)" opacity=".6"/><ellipse rx="2.4" ry="1.9" transform="translate(5 76.8) rotate(-50)" opacity=".7"/><ellipse rx="2.8" ry="1.8" transform="translate(13.5 47.6) rotate(-29)" opacity=".5"/><ellipse rx="3.3" ry="2" transform="translate(32.4 75.2) rotate(-12)" opacity=".6"/><ellipse rx="2.3" ry="1.7" transform="translate(15.2 64.9) rotate(-20)"/><ellipse rx="3" ry="1.7" transform="translate(43.7 58.4) rotate(-12)"/><ellipse rx="3" ry="1.5" transform="translate(28.2 46.7) rotate(-35)"/><ellipse rx="2.9" ry="1.9" transform="translate(20.6 86.2) rotate(-53)" opacity=".5"/><ellipse rx="2.4" ry="2" transform="translate(35.1 60.4) rotate(-22)"/><ellipse rx="2.7" ry="1.5" transform="translate(14.8 84.9) rotate(-26)"/><ellipse rx="2.7" ry="1.7" transform="translate(14.2 69) rotate(-29)" opacity=".6"/><ellipse rx="2.7" ry="1.9" transform="translate(48.3 63.7) rotate(-19)"/><ellipse rx="2.6" ry="1.7" transform="translate(11.4 56.2) rotate(-47)"/><ellipse rx="2.7" ry="1.8" transform="translate(20.6 57.2) rotate(-21)" opacity=".4"/><ellipse rx="2.5" ry="2" transform="translate(6.8 103.9) rotate(-22)" opacity=".6"/><ellipse rx="3.1" ry="2" transform="translate(58.4 50.6) rotate(-7)" opacity=".6"/><ellipse rx="2.8" ry="1.8" transform="translate(35.8 79.1) rotate(-39)"/><ellipse rx="2.4" ry="1.5" transform="translate(67.1 58.3) rotate(-27)" opacity=".6"/><ellipse rx="3.1" ry="1.5" transform="translate(16.6 79.7) rotate(-12)"/><ellipse rx="2.4" ry="1.5" transform="translate(2.8 83.8) rotate(-24)" opacity=".8"/><ellipse rx="2.8" ry="1.7" transform="translate(11.4 65.7) rotate(-30)"/><ellipse rx="2.3" ry="2" transform="translate(24.1 68.4) rotate(-19)" opacity=".5"/><ellipse rx="2.4" ry="1.8" transform="translate(13.4 95.1) rotate(-15)"/><ellipse rx="3.2" ry="2.1" transform="translate(25.2 73.3) rotate(-52)" opacity=".7"/><ellipse rx="2.9" ry="1.8" transform="translate(27.3 57.1) rotate(-40)"/><ellipse rx="2.9" ry="1.9" transform="translate(60.1 56.3) rotate(-54)" opacity=".6"/><ellipse rx="3.1" ry="1.8" transform="translate(17.8 98.8) rotate(-22)" opacity=".7"/><ellipse rx="3.2" ry="1.8" transform="translate(.5 56.9) rotate(-23)"/><ellipse rx="2.8" ry="1.5" transform="translate(9.5 85) rotate(-8)"/><ellipse rx="2.4" ry="1.8" transform="translate(9.3 99.8) rotate(-40)" opacity=".6"/><ellipse rx="2.6" ry="2.1" transform="translate(55 49.1) rotate(-27)" opacity=".4"/><ellipse rx="2.3" ry="2.1" transform="translate(23.8 44.9) rotate(-13)"/><ellipse rx="3" ry="1.6" transform="translate(44.9 45.3) rotate(-20)" opacity=".7"/><ellipse rx="3.1" ry="1.7" transform="translate(39.7 62.3) rotate(-18)"/><ellipse rx="2.2" ry="1.7" transform="translate(1.3 95.9) rotate(-37)"/><ellipse rx="3.4" ry="1.6" transform="translate(23.4 92.9) rotate(-10)"/><ellipse rx="3.1" ry="1.5" transform="translate(18.4 48) rotate(-46)" opacity=".5"/><ellipse rx="3.2" ry="1.9" transform="translate(11.7 42.4) rotate(-39)"/><ellipse rx="2.5" ry="1.6" transform="translate(50.4 48.8) rotate(-16)" opacity=".8"/><ellipse rx="3.2" ry="2.1" transform="translate(11.9 4.8) rotate(24)" opacity=".5"/><ellipse rx="2.4" ry="1.5" transform="translate(23 6.2) rotate(-4)"/><ellipse rx="3.3" ry="1.5" transform="translate(28.1 6.6) rotate(21)"/><ellipse rx="2.7" ry="1.7" transform="translate(36.9 9.3) rotate(27)" opacity=".4"/><ellipse rx="3.2" ry="2.1" transform="translate(50.5 11.7) rotate(-11)"/><ellipse rx="2.7" ry="1.6" transform="translate(57.3 6.7) rotate(9)" opacity=".4"/><ellipse rx="2.6" ry="1.6" transform="translate(62.9 4.6) rotate(0)"/><ellipse rx="3.2" ry="1.6" transform="translate(74.2 2.4) rotate(-24)"/><ellipse rx="2.8" ry="2" transform="translate(82.1 5.3) rotate(-15)"/><ellipse rx="2.2" ry="2" transform="translate(91.9 1.5) rotate(15)" opacity=".7"/><ellipse rx="2.9" ry="2" transform="translate(100.9 -2.1) rotate(-17)"/><ellipse rx="3.3" ry="1.5" transform="translate(109.3 .4) rotate(18)"/><ellipse rx="2.9" ry="1.5" transform="translate(114 5.5) rotate(13)" opacity=".4"/><ellipse rx="2.6" ry="1.6" transform="translate(125.6 4.8) rotate(-20)" opacity=".7"/><ellipse rx="2.6" ry="1.5" transform="translate(129.9 4.3) rotate(4)"/><ellipse rx="2.4" ry="1.9" transform="translate(141.5 5.9) rotate(-3)" opacity=".4"/><ellipse rx="3" ry="2" transform="translate(38.9 21.5) rotate(-36)"/><ellipse rx="2.6" ry="2.1" transform="translate(16.9 29.4) rotate(-23)" opacity=".5"/><ellipse rx="3.3" ry="2" transform="translate(41.1 13.9) rotate(-38)"/><ellipse rx="2.9" ry="1.9" transform="translate(23 21.7) rotate(-59)"/><ellipse rx="2.9" ry="1.6" transform="translate(39.3 27.8) rotate(-25)"/><ellipse rx="2.8" ry="2" transform="translate(28.2 30.8) rotate(-52)" opacity=".4"/><ellipse rx="2.4" ry="1.7" transform="translate(32.6 21) rotate(-56)" opacity=".4"/><ellipse rx="2.2" ry="1.5" transform="translate(13.2 23.6) rotate(-28)" opacity=".6"/><ellipse rx="2.6" ry="1.9" transform="translate(44.8 19.3) rotate(-25)" opacity=".8"/><ellipse rx="2.9" ry="1.5" transform="translate(12.9 14.7) rotate(-37)" opacity=".7"/><ellipse rx="3.2" ry="1.8" transform="translate(50.1 20.3) rotate(-20)" opacity=".6"/><ellipse rx="2.4" ry="2" transform="translate(50.7 34.8) rotate(-52)" opacity=".8"/><ellipse rx="2.7" ry="2.1" transform="translate(135.6 10.1) rotate(47)"/><ellipse rx="3.4" ry="1.8" transform="translate(117.9 40.4) rotate(121)"/><ellipse rx="3.1" ry="1.7" transform="translate(143.5 25.8) rotate(29)"/><ellipse rx="2.5" ry="1.6" transform="translate(110.4 19.5) rotate(24)"/><ellipse rx="2.8" ry="2" transform="translate(127.9 35.3) rotate(22)"/><ellipse rx="3" ry="1.7" transform="translate(141.5 46.6) rotate(92)" opacity=".8"/><ellipse rx="2.9" ry="1.6" transform="translate(143.6 19.4) rotate(33)" opacity=".6"/><ellipse rx="2.5" ry="1.8" transform="translate(117.7 19.2) rotate(114)" opacity=".7"/><ellipse rx="3.2" ry="1.5" transform="translate(129.9 18.2) rotate(72)" opacity=".6"/><ellipse rx="2.2" ry="1.6" transform="translate(143.2 14.6) rotate(59)" opacity=".8"/><ellipse rx="3.1" ry="2" transform="translate(142.7 42.6) rotate(36)"/><ellipse rx="2.6" ry="1.9" transform="translate(140.9 10.6) rotate(111)" opacity=".5"/><ellipse rx="3.3" ry="1.8" transform="translate(118 11.5) rotate(47)" opacity=".6"/><ellipse rx="2.5" ry="1.6" transform="translate(146.5 38.7) rotate(61)" opacity=".7"/><ellipse rx="3.3" ry="1.8" transform="translate(139.4 40.8) rotate(119)" opacity=".6"/><ellipse rx="2.5" ry="1.6" transform="translate(142.2 31.8) rotate(119)"/><ellipse rx="2.3" ry="2" transform="translate(131.7 44.4) rotate(168)" opacity=".7"/><ellipse rx="2.3" ry="1.5" transform="translate(120.2 30.4) rotate(22)"/><ellipse rx="2.7" ry="1.8" transform="translate(128.2 28.5) rotate(152)" opacity=".5"/><ellipse rx="3.2" ry="1.5" transform="translate(117.3 23.1) rotate(65)"/><ellipse rx="3.1" ry="1.9" transform="translate(90.6 62.7) rotate(22)"/><ellipse rx="2.9" ry="1.5" transform="translate(95.3 63.7) rotate(58)" opacity=".4"/><ellipse rx="3.1" ry="1.8" transform="translate(98.7 68.2) rotate(18)" opacity=".5"/><ellipse rx="3.1" ry="1.9" transform="translate(102.6 67.2) rotate(6)"/><ellipse rx="2.3" ry="1.7" transform="translate(107.8 67.4) rotate(-40)"/><ellipse rx="2.5" ry="1.6" transform="translate(111.6 62.9) rotate(5)" opacity=".6"/><ellipse rx="3" ry="1.8" transform="translate(116.4 61.6) rotate(-25)" opacity=".4"/><ellipse rx="2.6" ry="1.6" transform="translate(122.3 61.6) rotate(-1)" opacity=".6"/><ellipse rx="2.8" ry="1.5" transform="translate(127.9 60.4) rotate(20)" opacity=".6"/><ellipse rx="2.8" ry="1.8" transform="translate(133.6 61) rotate(23)"/><ellipse rx="2.5" ry="1.8" transform="translate(137.4 62.2) rotate(-46)" opacity=".5"/><ellipse rx="2.6" ry="1.5" transform="translate(143.7 62.9) rotate(-29)" opacity=".7"/><ellipse rx="2.7" ry="2.1" transform="translate(79.8 70.6) rotate(24)" opacity=".7"/><ellipse rx="3" ry="1.6" transform="translate(84.5 71.6) rotate(3)" opacity=".8"/><ellipse rx="2.4" ry="1.5" transform="translate(75.4 21.5) rotate(115)"/><ellipse rx="3.3" ry="1.8" transform="translate(73.1 11.5) rotate(128)" opacity=".8"/><ellipse rx="2.2" ry="1.9" transform="translate(66.2 30) rotate(104)"/><ellipse rx="3.3" ry="1.6" transform="translate(92.4 34.6) rotate(146)" opacity=".8"/><ellipse rx="2.7" ry="1.9" transform="translate(98.5 15.4) rotate(149)"/><ellipse rx="3.1" ry="1.7" transform="translate(90 15.4) rotate(107)"/><ellipse rx="2.3" ry="1.9" transform="translate(113.9 43.1) rotate(86)" opacity=".7"/><ellipse rx="3.2" ry="1.9" transform="translate(60 62.3) rotate(4)" opacity=".6"/><ellipse rx="2.5" ry="1.9" transform="translate(49.3 62.3) rotate(109)"/><ellipse rx="2.4" ry="2.1" transform="translate(67.7 66.2) rotate(153)" opacity=".7"/><ellipse rx="3.2" ry="1.9" transform="translate(58.5 87.7) rotate(160)" opacity=".7"/><ellipse rx="2.5" ry="2" transform="translate(73.9 87.7) rotate(54)" opacity=".7"/><ellipse rx="2.8" ry="1.9" transform="translate(60.8 96.2) rotate(121)" opacity=".6"/><ellipse rx="2.2" ry="1.5" transform="translate(63.1 96.7) rotate(84)"/><ellipse rx="3.3" ry="1.5" transform="translate(86.2 96.2) rotate(103)" opacity=".5"/><ellipse rx="3.3" ry="1.8" transform="translate(96.2 85.4) rotate(127)"/><ellipse rx="2.3" ry="1.7" transform="translate(130.8 85.4) rotate(168)" opacity=".6"/><ellipse rx="2.6" ry="1.9" transform="translate(135.5 83.1) rotate(103)"/><ellipse rx="3.3" ry="1.6" transform="translate(143.9 82.4) rotate(22)"/><ellipse rx="2.8" ry="1.9" transform="translate(145.5 88.5) rotate(118)"/><ellipse rx="3.3" ry="2.1" transform="translate(20 104.7) rotate(167)" opacity=".7"/><ellipse rx="3.2" ry="2" transform="translate(7.7 100.1) rotate(115)"/><ellipse rx="2.7" ry="1.6" transform="translate(123.1 101.6) rotate(150)" opacity=".7"/></g><g fill="#d02ad8" filter="url(#blurN)"><ellipse rx="1.7" ry="1.3" transform="translate(29 80.9) rotate(-6)" opacity=".8"/><ellipse rx="1.7" ry="1.3" transform="translate(70.9 55.8) rotate(-49)" opacity=".8"/><ellipse rx="1.5" ry="1.3" transform="translate(18.5 95.2) rotate(-22)" opacity=".6"/><ellipse rx="2.4" ry="1.3" transform="translate(33.7 44.2) rotate(-28)" opacity=".6"/><ellipse rx="2.6" ry="1.2" transform="translate(54 55.6) rotate(-31)" opacity=".9"/><ellipse rx="1.5" ry="1.5" transform="translate(8.7 80.3) rotate(-12)" opacity=".9"/><ellipse rx="1.4" ry="1" transform="translate(16.5 59.2) rotate(-37)" opacity=".8"/><ellipse rx="2.6" ry="1.1" transform="translate(28.5 51) rotate(-22)" opacity=".8"/><ellipse rx="1.2" ry=".9" transform="translate(4.6 39.4) rotate(-16)" opacity=".9"/><ellipse rx="2" ry="1.2" transform="translate(33 55.7) rotate(-42)" opacity=".8"/><ellipse rx="1.6" ry="1.4" transform="translate(11.1 49.6) rotate(-6)" opacity=".9"/><ellipse rx="1.3" ry="1.2" transform="translate(10.3 61.8) rotate(-44)" opacity=".8"/><ellipse rx="1.6" ry="1.2" transform="translate(12.9 100.6) rotate(-18)" opacity=".6"/><ellipse rx="1.3" ry=".8" transform="translate(1.6 48.6) rotate(-8)" opacity=".6"/><ellipse rx="2.1" ry="1.4" transform="translate(11.2 73) rotate(-22)" opacity=".9"/><ellipse rx="1.2" ry="1.2" transform="translate(67.7 49.8) rotate(-54)" opacity=".6"/><ellipse rx="2" ry="1" transform="translate(6 59.6) rotate(-26)" opacity=".8"/><ellipse rx="1.4" ry="1.3" transform="translate(4.4 76.8) rotate(-50)" opacity=".6"/><ellipse rx="1.3" ry="1.3" transform="translate(14 47.6) rotate(-29)" opacity=".8"/><ellipse rx="1.9" ry="1.4" transform="translate(33.1 75.7) rotate(-12)" opacity=".7"/><ellipse rx="2.4" ry="1.2" transform="translate(28.6 46.7) rotate(-35)" opacity=".9"/><ellipse rx="1.9" ry="1.6" transform="translate(20.3 85.9) rotate(-53)" opacity=".9"/><ellipse rx="1.6" ry="1.3" transform="translate(14.7 84.6) rotate(-26)" opacity=".8"/><ellipse rx="2.1" ry="1.2" transform="translate(59 50.9) rotate(-7)" opacity=".8"/><ellipse rx="1.5" ry="1.2" transform="translate(35.2 78.9) rotate(-39)" opacity=".6"/><ellipse rx="1.3" ry=".9" transform="translate(67.9 57.8) rotate(-27)" opacity=".8"/><ellipse rx="2.1" ry="1" transform="translate(17.4 79.9) rotate(-12)" opacity=".9"/><ellipse rx="1.8" ry="1.2" transform="translate(11.9 65.2) rotate(-30)" opacity=".6"/><ellipse rx="1.3" ry="1.2" transform="translate(23.5 68.2) rotate(-19)" opacity=".9"/><ellipse rx="1.8" ry="1.1" transform="translate(13.5 95.3) rotate(-15)" opacity=".8"/><ellipse rx="1.9" ry="1.4" transform="translate(25.8 73.2) rotate(-52)" opacity=".8"/><ellipse rx="1.7" ry="1.2" transform="translate(26.8 57.1) rotate(-40)" opacity=".7"/><ellipse rx="1.5" ry="1" transform="translate(9.4 85) rotate(-8)" opacity=".9"/><ellipse rx="1.6" ry="1" transform="translate(9.3 99.6) rotate(-40)" opacity=".7"/><ellipse rx="1.2" ry="1.5" transform="translate(55 48.6) rotate(-27)" opacity=".8"/><ellipse rx="2" ry="1" transform="translate(45.2 44.9) rotate(-20)" opacity=".8"/><ellipse rx="1.9" ry="1.4" transform="translate(39.1 62.6) rotate(-18)" opacity=".6"/><ellipse rx="1.7" ry="1.1" transform="translate(24 93.4) rotate(-10)" opacity=".6"/><ellipse rx="1.9" ry="1" transform="translate(19 48.5) rotate(-46)" opacity=".8"/><ellipse rx="1.9" ry="1.1" transform="translate(11.8 42) rotate(-39)" opacity=".7"/><ellipse rx="1.2" ry="1" transform="translate(50.5 48.5) rotate(-16)" opacity=".6"/><ellipse rx="1.6" ry="1.1" transform="translate(22.4 6.2) rotate(-4)" opacity=".9"/><ellipse rx="1.7" ry="1.3" transform="translate(36.3 9.3) rotate(27)" opacity=".7"/><ellipse rx="2.4" ry="1.6" transform="translate(49.9 11.7) rotate(-11)" opacity=".6"/><ellipse rx="1.8" ry="1" transform="translate(62.8 4.9) rotate(0)" opacity=".7"/><ellipse rx="1.1" ry="1.3" transform="translate(92.4 1.3) rotate(15)" opacity=".7"/><ellipse rx="2.3" ry="1.4" transform="translate(100.9 -1.8) rotate(-17)" opacity=".7"/><ellipse rx="2" ry="1.3" transform="translate(109.9 .3) rotate(18)" opacity=".6"/><ellipse rx="1.5" ry="1.6" transform="translate(141.1 5.8) rotate(-3)" opacity=".6"/><ellipse rx="2.4" ry="1.4" transform="translate(39.5 21.1) rotate(-36)" opacity=".7"/><ellipse rx="1.3" ry="1.5" transform="translate(17 29.4) rotate(-23)" opacity=".9"/><ellipse rx="1.5" ry="1.2" transform="translate(22.4 22) rotate(-59)" opacity=".7"/><ellipse rx="1.3" ry="1.2" transform="translate(12.9 14.6) rotate(-37)" opacity=".6"/><ellipse rx="1.8" ry="1.1" transform="translate(50.2 20.3) rotate(-20)" opacity=".8"/><ellipse rx="2.5" ry="1.3" transform="translate(117.5 40.2) rotate(121)" opacity=".7"/><ellipse rx="1.7" ry="1.3" transform="translate(143.4 26.1) rotate(29)" opacity=".8"/><ellipse rx="2" ry="1.6" transform="translate(128.2 35.5) rotate(22)" opacity=".9"/><ellipse rx="2" ry="1.1" transform="translate(141.2 46.2) rotate(92)" opacity=".7"/><ellipse rx="2" ry="1.2" transform="translate(144.2 19.6) rotate(33)" opacity=".7"/><ellipse rx="1.8" ry="1.5" transform="translate(118 19) rotate(114)" opacity=".6"/><ellipse rx="1.8" ry="1.4" transform="translate(140.2 10.3) rotate(111)" opacity=".6"/><ellipse rx="1.5" ry="1.1" transform="translate(140 41) rotate(119)" opacity=".9"/><ellipse rx="1.3" ry="1" transform="translate(142.3 31.8) rotate(119)" opacity=".6"/><ellipse rx="1.1" ry="1.3" transform="translate(132.1 44) rotate(168)" opacity=".6"/><ellipse rx="1.7" ry="1" transform="translate(119.8 30.4) rotate(22)" opacity=".7"/><ellipse rx="1.7" ry="1.3" transform="translate(128.1 28.9) rotate(152)" opacity=".9"/><ellipse rx="1.8" ry="1.2" transform="translate(99 68.6) rotate(18)" opacity=".9"/><ellipse rx="2.3" ry="1" transform="translate(115.8 61.6) rotate(-25)" opacity=".8"/><ellipse rx="1.7" ry="1.2" transform="translate(122.1 61.8) rotate(-1)" opacity=".6"/><ellipse rx="1.7" ry="1.1" transform="translate(133.5 61.2) rotate(23)" opacity=".8"/><ellipse rx="1.7" ry="1" transform="translate(137.7 62.4) rotate(-46)" opacity=".9"/><ellipse rx="1.7" ry=".8" transform="translate(143.5 62.7) rotate(-29)" opacity=".6"/><ellipse rx="1.5" ry="1.2" transform="translate(75.9 21.2) rotate(115)" opacity=".9"/><ellipse rx="1.3" ry="1.3" transform="translate(66.6 29.9) rotate(104)" opacity=".8"/><ellipse rx="1.6" ry="1.6" transform="translate(97.7 15.2) rotate(149)" opacity=".8"/><ellipse rx="1.1" ry="1.2" transform="translate(113.6 42.6) rotate(86)" opacity=".7"/><ellipse rx="1.2" ry="1.5" transform="translate(67.9 66.3) rotate(153)" opacity=".9"/><ellipse rx="1.7" ry="1.2" transform="translate(86.7 96) rotate(103)" opacity=".9"/><ellipse rx="1.9" ry="1.1" transform="translate(95.9 85) rotate(127)" opacity=".8"/><ellipse rx="1.8" ry="1.4" transform="translate(136.1 83.3) rotate(103)" opacity=".7"/><ellipse rx="1.5" ry="1.2" transform="translate(146.1 88.6) rotate(118)" opacity=".7"/><ellipse rx="2.6" ry="1.4" transform="translate(20.1 104.3) rotate(167)" opacity=".8"/><ellipse rx="2.1" ry=".9" transform="translate(123.7 101.6) rotate(150)" opacity=".7"/></g><text class="w" x="141.8" y="100.1" text-anchor="end" style="font-size:12.3px">40 µm</text><rect x="118.8" y="104.7" width="22.8" height="1.8" fill="#fff"/></g>
<clipPath id="cp20"><rect x="0" y=".1" width="146" height="108.7"/></clipPath><g transform="translate(42,719)" clip-path="url(#cp20)"><filter id="fb20" filterUnits="userSpaceOnUse" x="-2" y="-2" width="152" height="114" color-interpolation-filters="sRGB"><feGaussianBlur in="SourceGraphic" stdDeviation="1.1"/><feColorMatrix type="luminanceToAlpha" result="d"/><feTurbulence type="fractalNoise" baseFrequency=".52" numOctaves="2" seed="37" result="n"/><feColorMatrix in="n" type="matrix" values="0 0 0 0 .1 0 0 0 0 .1 0 0 0 0 .9 1 0 0 0 0" result="na"/><feComposite in="na" in2="d" operator="in"/><feComponentTransfer><feFuncA type="linear" slope="6.5" intercept="-3.4"/></feComponentTransfer><feGaussianBlur stdDeviation=".4"/><feComponentTransfer><feFuncA type="linear" slope=".9" intercept="0"/></feComponentTransfer><feColorMatrix result="sp" type="matrix" values="1 0 0 0 0 0 1 0 0 0 0 0 1 0 0 0 0 0 1 0"/><feColorMatrix in="d" type="matrix" values="0 0 0 0 0 0 0 0 0 0 0 0 0 0 .5 0 0 0 1.1 -.9" result="u"/><feMerge><feMergeNode in="u"/><feMergeNode in="sp"/></feMerge></filter><filter id="fr20" filterUnits="userSpaceOnUse" x="-2" y="-2" width="152" height="114" color-interpolation-filters="sRGB"><feGaussianBlur in="SourceGraphic" stdDeviation="1.1"/><feColorMatrix type="luminanceToAlpha" result="d"/><feTurbulence type="fractalNoise" baseFrequency=".6" numOctaves="2" seed="78" result="n"/><feColorMatrix in="n" type="matrix" values="0 0 0 0 .8 0 0 0 0 .1 0 0 0 0 .3 1 0 0 0 0" result="na"/><feComposite in="na" in2="d" operator="in"/><feComponentTransfer><feFuncA type="linear" slope="8" intercept="-4.3"/></feComponentTransfer><feGaussianBlur stdDeviation=".3"/></filter><rect x="-2" y="-2" width="152" height="114" fill="#0a020b"/><g filter="url(#fb20)"><rect x="-2" y="-2" width="152" height="114" fill="#000"/><polygon points="33.3,0 29.8,22.9 28.3,45.9 25.2,68.8 22.9,91.7 20.6,109 125.4,109 124.6,91.7 126.1,71.9 122.3,56.6 111.6,38.2 107.8,19.9 107,0" fill="#eeeeee"/><polygon points="52,22.9 82.6,21.4 85.6,42.8 52,44.3" fill="#cfcfcf"/><polygon points="45.9,50.5 94.8,50.5 107,71.9 104,97.8 85.6,107 50.5,107 44.3,79.5" fill="#c2c2c2"/><polyline points="48.9,55 59.6,61.2 58.1,68.8" fill="none" stroke="#f6f6f6" stroke-width="3.5" stroke-linecap="round" stroke-linejoin="round"/><polyline points="74.9,65.7 94.8,58.9" fill="none" stroke="#fbfbfb" stroke-width="4" stroke-linecap="round" stroke-linejoin="round"/><polyline points="61.2,94.8 71.9,90.2" fill="none" stroke="#f6f6f6" stroke-width="3.5" stroke-linecap="round" stroke-linejoin="round"/><polyline points="58.1,27.5 71.9,22.9 85.6,18.3" fill="none" stroke="#fbfbfb" stroke-width="4" stroke-linecap="round" stroke-linejoin="round"/></g><g filter="url(#fr20)"><rect x="-2" y="-2" width="152" height="114" fill="#000"/><polygon points="33.3,0 25.2,68.8 20.6,109 125.4,109 126.1,71.9 111.6,38.2 107,0" fill="#c1c1c1"/><polyline points="48.9,55 59.6,61.2 58.1,68.8" fill="none" stroke="#eeeeee" stroke-width="3.5" stroke-linecap="round" stroke-linejoin="round"/><polyline points="58.1,27.5 71.9,22.9 85.6,18.3" fill="none" stroke="#eeeeee" stroke-width="4" stroke-linecap="round" stroke-linejoin="round"/></g><polyline points="33.3,0 29.8,22.9 28.3,45.9 25.2,68.8 22.9,91.7 20.6,109" fill="none" stroke="#ecc866" stroke-width="1.4" stroke-dasharray="4.4 2.9" stroke-linejoin="round"/><polyline points="107,0 107.8,19.9 111.6,38.2 122.3,56.6 126.1,71.9 124.6,91.7 125.4,109" fill="none" stroke="#ecc866" stroke-width="1.4" stroke-dasharray="4.4 2.9" stroke-linejoin="round"/><rect x="45.3" y="11.9" width="46.5" height="33.9" fill="none" stroke="#e6e6e6" stroke-width="1.1" stroke-dasharray="3.5 2.3"/><polyline points="45.3,45.9 3.1,107.8" fill="none" stroke="#e6e6e6" stroke-width="1.1" stroke-dasharray="3.5 2.3" stroke-linejoin="round"/><polyline points="91.7,45.9 143.7,107.8" fill="none" stroke="#e6e6e6" stroke-width="1.1" stroke-dasharray="3.5 2.3" stroke-linejoin="round"/><text class="w" x="9.2" y="13.4" text-anchor="middle">R</text><text class="w" x="68.8" y="10" text-anchor="middle">PDL</text><text class="w" x="131.2" y="14.6" text-anchor="middle">R</text><text class="w" x="70.3" y="104.3" text-anchor="middle">AB</text></g>
<clipPath id="cp21"><rect x=".5" y=".1" width="146.2" height="108.7"/></clipPath><g transform="translate(192,719)" clip-path="url(#cp21)"><filter id="fb21" filterUnits="userSpaceOnUse" x="-2" y="-2" width="152" height="114" color-interpolation-filters="sRGB"><feGaussianBlur in="SourceGraphic" stdDeviation="1.1"/><feColorMatrix type="luminanceToAlpha" result="d"/><feTurbulence type="fractalNoise" baseFrequency=".52" numOctaves="2" seed="42" result="n"/><feColorMatrix in="n" type="matrix" values="0 0 0 0 .1 0 0 0 0 .1 0 0 0 0 .9 1 0 0 0 0" result="na"/><feComposite in="na" in2="d" operator="in"/><feComponentTransfer><feFuncA type="linear" slope="6.5" intercept="-3.4"/></feComponentTransfer><feGaussianBlur stdDeviation=".4"/><feComponentTransfer><feFuncA type="linear" slope=".9" intercept="0"/></feComponentTransfer><feColorMatrix result="sp" type="matrix" values="1 0 0 0 0 0 1 0 0 0 0 0 1 0 0 0 0 0 1 0"/><feColorMatrix in="d" type="matrix" values="0 0 0 0 0 0 0 0 0 0 0 0 0 0 .5 0 0 0 1.1 -.9" result="u"/><feMerge><feMergeNode in="u"/><feMergeNode in="sp"/></feMerge></filter><filter id="fr21" filterUnits="userSpaceOnUse" x="-2" y="-2" width="152" height="114" color-interpolation-filters="sRGB"><feGaussianBlur in="SourceGraphic" stdDeviation="1.1"/><feColorMatrix type="luminanceToAlpha" result="d"/><feTurbulence type="fractalNoise" baseFrequency=".6" numOctaves="2" seed="83" result="n"/><feColorMatrix in="n" type="matrix" values="0 0 0 0 .8 0 0 0 0 .1 0 0 0 0 .3 1 0 0 0 0" result="na"/><feComposite in="na" in2="d" operator="in"/><feComponentTransfer><feFuncA type="linear" slope="8" intercept="-4.3"/></feComponentTransfer><feGaussianBlur stdDeviation=".3"/></filter><rect x="-2" y="-2" width="152" height="114" fill="#03010f"/><g filter="url(#fb21)"><rect x="-2" y="-2" width="152" height="114" fill="#000"/><polygon points="44.6,0 30.8,23.1 18.5,47.7 10.8,70.8 0,92.4 0,109 147,109 147,80 137,57 127.8,35.4 117,16.9 103.9,0" fill="#eaeaea"/><polygon points="64.6,21.5 72.3,38.5 80,52.3 86.2,77 92.4,95.4 86.2,109 46.2,109 43.1,86.2 30.8,72.3 46.2,50.8 52.3,33.9" fill="#bbbbbb"/><polyline points="63.1,61.6 65.4,77 61.6,90.8" fill="none" stroke="#f6f6f6" stroke-width="4" stroke-linecap="round" stroke-linejoin="round"/><circle cx="70" cy="60" r="3.1" fill="#eeeeee"/><polyline points="58.5,89.3 67.7,89.3" fill="none" stroke="#eeeeee" stroke-width="3.1" stroke-linecap="round" stroke-linejoin="round"/><circle cx="23.1" cy="93.9" r="7.8" fill="#c2c2c2"/><circle cx="107.7" cy="98.5" r="5.9" fill="#c7c7c7"/><circle cx="92.4" cy="64.6" r="5.1" fill="#c7c7c7"/></g><g filter="url(#fr21)"><rect x="-2" y="-2" width="152" height="114" fill="#000"/><polygon points="44.6,0 18.5,47.7 0,92.4 0,109 147,109 147,80 127.8,35.4 103.9,0" fill="#cdcdcd"/><polygon points="64.6,21.5 80,52.3 92.4,95.4 86.2,109 46.2,109 30.8,72.3 46.2,50.8" fill="#b1b1b1"/><polyline points="50.8,26.9 61.6,21.5" fill="none" stroke="#fbfbfb" stroke-width="4.5" stroke-linecap="round" stroke-linejoin="round"/><polyline points="72.3,18.5 86.2,35.4" fill="none" stroke="#fbfbfb" stroke-width="5.4" stroke-linecap="round" stroke-linejoin="round"/><circle cx="23.1" cy="64.6" r="4.7" fill="#fbfbfb"/><circle cx="100.1" cy="88.5" r="5.9" fill="#fbfbfb"/><polyline points="63.1,61.6 65.4,77 61.6,90.8" fill="none" stroke="#f6f6f6" stroke-width="4" stroke-linecap="round" stroke-linejoin="round"/><circle cx="132.4" cy="73.9" r="4.7" fill="#f6f6f6"/></g><polyline points="44.6,0 30.8,23.1 18.5,47.7 10.8,70.8 3.1,87.7" fill="none" stroke="#ecc866" stroke-width="1.4" stroke-dasharray="4.4 2.9" stroke-linejoin="round"/><polyline points="103.9,0 117,16.9 127.8,35.4 137,57 143.2,72.3" fill="none" stroke="#ecc866" stroke-width="1.4" stroke-dasharray="4.4 2.9" stroke-linejoin="round"/><rect x="48" y="13.1" width="46.6" height="34.6" fill="none" stroke="#e6e6e6" stroke-width="1.1" stroke-dasharray="3.5 2.3"/><polyline points="48,47.7 4.6,107.7" fill="none" stroke="#e6e6e6" stroke-width="1.1" stroke-dasharray="3.5 2.3" stroke-linejoin="round"/><polyline points="94.7,47.7 140.8,106.2" fill="none" stroke="#e6e6e6" stroke-width="1.1" stroke-dasharray="3.5 2.3" stroke-linejoin="round"/><text class="w" x="14.2" y="14.7" text-anchor="middle">R</text><text class="w" x="73.9" y="10.7" text-anchor="middle">PDL</text><text class="w" x="135.8" y="13.1" text-anchor="middle">R</text><text class="w" x="67.7" y="105.8" text-anchor="middle">AB</text></g>
<clipPath id="cp22"><rect x="-.3" y=".1" width="146.3" height="108.7"/></clipPath><g transform="translate(344,719)" clip-path="url(#cp22)"><filter id="fb22" filterUnits="userSpaceOnUse" x="-2" y="-2" width="152" height="114" color-interpolation-filters="sRGB"><feGaussianBlur in="SourceGraphic" stdDeviation="1.1"/><feColorMatrix type="luminanceToAlpha" result="d"/><feTurbulence type="fractalNoise" baseFrequency=".52" numOctaves="2" seed="47" result="n"/><feColorMatrix in="n" type="matrix" values="0 0 0 0 .1 0 0 0 0 .1 0 0 0 0 .9 1 0 0 0 0" result="na"/><feComposite in="na" in2="d" operator="in"/><feComponentTransfer><feFuncA type="linear" slope="6.5" intercept="-3.4"/></feComponentTransfer><feGaussianBlur stdDeviation=".4"/><feComponentTransfer><feFuncA type="linear" slope=".9" intercept="0"/></feComponentTransfer><feColorMatrix result="sp" type="matrix" values="1 0 0 0 0 0 1 0 0 0 0 0 1 0 0 0 0 0 1 0"/><feColorMatrix in="d" type="matrix" values="0 0 0 0 0 0 0 0 0 0 0 0 0 0 .5 0 0 0 1.1 -.9" result="u"/><feMerge><feMergeNode in="u"/><feMergeNode in="sp"/></feMerge></filter><filter id="fr22" filterUnits="userSpaceOnUse" x="-2" y="-2" width="152" height="114" color-interpolation-filters="sRGB"><feGaussianBlur in="SourceGraphic" stdDeviation="1.1"/><feColorMatrix type="luminanceToAlpha" result="d"/><feTurbulence type="fractalNoise" baseFrequency=".6" numOctaves="2" seed="88" result="n"/><feColorMatrix in="n" type="matrix" values="0 0 0 0 .9 0 0 0 0 .1 0 0 0 0 .4 1 0 0 0 0" result="na"/><feComposite in="na" in2="d" operator="in"/><feComponentTransfer><feFuncA type="linear" slope="8" intercept="-4.3"/></feComponentTransfer><feGaussianBlur stdDeviation=".3"/></filter><rect x="-2" y="-2" width="152" height="114" fill="#03010f"/><g filter="url(#fb22)"><rect x="-2" y="-2" width="152" height="114" fill="#000"/><polygon points="58.1,0 44.3,21.4 30.6,44.3 13.8,65.7 0,76.4 0,109 146,109 146,67.3 134.5,58.1 117.7,41.3 97.8,18.3 76.4,0" fill="#cdcdcd"/><polygon points="52,9.2 91.7,13.8 116.2,42.8 146,68.8 146,82.6 116.2,64.2 97.8,45.9 85.6,19.9 64.2,16.8 45.9,38.2 15.3,71.9 0,85.6 0,76.4 30.6,44.3" fill="#f2f2f2"/><polyline points="50.5,61.2 55,71.9 56.6,82.6 38.2,84.1 22.9,78" fill="none" stroke="#fbfbfb" stroke-width="4" stroke-linecap="round" stroke-linejoin="round"/><polyline points="56.6,82.6 68.8,94.8" fill="none" stroke="#fbfbfb" stroke-width="3.5" stroke-linecap="round" stroke-linejoin="round"/><polyline points="79.5,61.2 85.6,65 99.4,62.7 94.8,45.9" fill="none" stroke="#fbfbfb" stroke-width="3.5" stroke-linecap="round" stroke-linejoin="round"/><polyline points="104,85.6 113.1,82.6 110.1,91.7 104,85.6" fill="none" stroke="#fbfbfb" stroke-width="3.1" stroke-linecap="round" stroke-linejoin="round"/><polyline points="126.9,76.4 131.5,91.7 137.6,107" fill="none" stroke="#fbfbfb" stroke-width="4" stroke-linecap="round" stroke-linejoin="round"/><polyline points="22.9,104 35.2,105.5" fill="none" stroke="#fbfbfb" stroke-width="3.5" stroke-linecap="round" stroke-linejoin="round"/><polyline points="0,15.3 3.8,6.1 7.6,0" fill="none" stroke="#ffffff" stroke-width="2.7" stroke-linecap="round" stroke-linejoin="round"/><polyline points="52,30.6 64.2,35.2 61.2,22.9" fill="none" stroke="#f6f6f6" stroke-width="3.1" stroke-linecap="round" stroke-linejoin="round"/><polyline points="76.4,27.5 82.6,39.7" fill="none" stroke="#f6f6f6" stroke-width="3.1" stroke-linecap="round" stroke-linejoin="round"/><polyline points="4.6,94.8 18.3,85.6 30.6,79.5" fill="none" stroke="#fbfbfb" stroke-width="4.9" stroke-linecap="round" stroke-linejoin="round"/></g><g filter="url(#fr22)"><rect x="-2" y="-2" width="152" height="114" fill="#000"/><polyline points="50.5,61.2 55,71.9 56.6,82.6 38.2,84.1 22.9,78" fill="none" stroke="#ffffff" stroke-width="3.5" stroke-linecap="round" stroke-linejoin="round"/><polyline points="56.6,82.6 68.8,94.8" fill="none" stroke="#ffffff" stroke-width="3.1" stroke-linecap="round" stroke-linejoin="round"/><polyline points="79.5,61.2 85.6,65 99.4,62.7 94.8,45.9" fill="none" stroke="#ffffff" stroke-width="3.1" stroke-linecap="round" stroke-linejoin="round"/><polyline points="104,85.6 113.1,82.6 110.1,91.7 104,85.6" fill="none" stroke="#ffffff" stroke-width="3.1" stroke-linecap="round" stroke-linejoin="round"/><polyline points="126.9,76.4 131.5,91.7 137.6,107" fill="none" stroke="#ffffff" stroke-width="3.5" stroke-linecap="round" stroke-linejoin="round"/><polyline points="22.9,104 35.2,105.5" fill="none" stroke="#ffffff" stroke-width="3.1" stroke-linecap="round" stroke-linejoin="round"/><polyline points="0,15.3 3.8,6.1 7.6,0" fill="none" stroke="#ffffff" stroke-width="2.2" stroke-linecap="round" stroke-linejoin="round"/><polyline points="52,30.6 64.2,35.2 61.2,22.9" fill="none" stroke="#fbfbfb" stroke-width="3.1" stroke-linecap="round" stroke-linejoin="round"/><polyline points="4.6,94.8 18.3,85.6 30.6,79.5" fill="none" stroke="#fbfbfb" stroke-width="4.9" stroke-linecap="round" stroke-linejoin="round"/><polygon points="52,9.2 91.7,13.8 116.2,42.8 146,68.8 146,82.6 116.2,64.2 97.8,45.9 85.6,19.9 64.2,16.8 45.9,38.2 15.3,71.9 0,85.6 0,76.4 30.6,44.3" fill="#dcdcdc"/></g><polyline points="50.2,61 51.9,64.4 53.5,68.1 54.2,71.7 54.7,74.7 55.6,79.8 56.5,82.6 53.7,83.6 49.4,82.7 45.6,83.2 42.7,82.9 38,84.4 34.6,82.7 31.1,80.5 27.4,80.3 22.9,78" fill="none" stroke="#2420d0" stroke-width="3" opacity=".55" stroke-linecap="round" stroke-linejoin="round" filter="url(#rough)"/><polyline points="50.2,61 51.9,64.4 53.5,68.1 54.2,71.7 54.7,74.7 55.6,79.8 56.5,82.6 53.7,83.6 49.4,82.7 45.6,83.2 42.7,82.9 38,84.4 34.6,82.7 31.1,80.5 27.4,80.3 22.9,78" fill="none" stroke="#c832b4" stroke-width="1.9" opacity=".85" stroke-linecap="round" stroke-linejoin="round" filter="url(#rough2)"/><polyline points="55.7,82.3 58.8,84.8 61.5,87 64.2,90.6 67.1,93 68.8,94.8" fill="none" stroke="#2420d0" stroke-width="3" opacity=".55" stroke-linecap="round" stroke-linejoin="round" filter="url(#rough)"/><polyline points="55.7,82.3 58.8,84.8 61.5,87 64.2,90.6 67.1,93 68.8,94.8" fill="none" stroke="#c832b4" stroke-width="1.9" opacity=".85" stroke-linecap="round" stroke-linejoin="round" filter="url(#rough2)"/><polyline points="79,61.6 83.1,63.3 85.9,64.6 89.6,63.9 92.6,63.4 96,62.4 99,63.2 98,59.7 98.1,56.1 96.9,52.1 95.7,50.1 94.8,45.9" fill="none" stroke="#2420d0" stroke-width="3" opacity=".55" stroke-linecap="round" stroke-linejoin="round" filter="url(#rough)"/><polyline points="79,61.6 83.1,63.3 85.9,64.6 89.6,63.9 92.6,63.4 96,62.4 99,63.2 98,59.7 98.1,56.1 96.9,52.1 95.7,50.1 94.8,45.9" fill="none" stroke="#c832b4" stroke-width="1.9" opacity=".85" stroke-linecap="round" stroke-linejoin="round" filter="url(#rough2)"/><polyline points="104.8,85.7 108.4,85 113.2,83.1 110.8,86.7 110.6,91.8 107.5,88.6 104,85.6" fill="none" stroke="#2420d0" stroke-width="3" opacity=".55" stroke-linecap="round" stroke-linejoin="round" filter="url(#rough)"/><polyline points="104.8,85.7 108.4,85 113.2,83.1 110.8,86.7 110.6,91.8 107.5,88.6 104,85.6" fill="none" stroke="#c832b4" stroke-width="1.9" opacity=".85" stroke-linecap="round" stroke-linejoin="round" filter="url(#rough2)"/><polyline points="127.7,75.6 127.6,80.5 129.2,84.4 130.3,88.3 132,91.4 132.1,95.1 134.3,100.3 136.9,103.5 137.6,107" fill="none" stroke="#2420d0" stroke-width="3" opacity=".55" stroke-linecap="round" stroke-linejoin="round" filter="url(#rough)"/><polyline points="127.7,75.6 127.6,80.5 129.2,84.4 130.3,88.3 132,91.4 132.1,95.1 134.3,100.3 136.9,103.5 137.6,107" fill="none" stroke="#c832b4" stroke-width="1.9" opacity=".85" stroke-linecap="round" stroke-linejoin="round" filter="url(#rough2)"/><polyline points="22.3,104.7 26.3,103.8 31.6,104.7 35.2,105.5" fill="none" stroke="#2420d0" stroke-width="3" opacity=".55" stroke-linecap="round" stroke-linejoin="round" filter="url(#rough)"/><polyline points="22.3,104.7 26.3,103.8 31.6,104.7 35.2,105.5" fill="none" stroke="#c832b4" stroke-width="1.9" opacity=".85" stroke-linecap="round" stroke-linejoin="round" filter="url(#rough2)"/><polyline points="-.2,14.9 1,10 3,5.2 4.9,2.5 7.6,0" fill="none" stroke="#2420d0" stroke-width="3" opacity=".55" stroke-linecap="round" stroke-linejoin="round" filter="url(#rough)"/><polyline points="-.2,14.9 1,10 3,5.2 4.9,2.5 7.6,0" fill="none" stroke="#c832b4" stroke-width="1.9" opacity=".85" stroke-linecap="round" stroke-linejoin="round" filter="url(#rough2)"/><polyline points="52,30.6 56.6,32.7 60.2,33.8 63.3,34.4 63.8,31.9 61.9,27.7 61.2,22.9" fill="none" stroke="#2420d0" stroke-width="3" opacity=".55" stroke-linecap="round" stroke-linejoin="round" filter="url(#rough)"/><polyline points="52,30.6 56.6,32.7 60.2,33.8 63.3,34.4 63.8,31.9 61.9,27.7 61.2,22.9" fill="none" stroke="#c832b4" stroke-width="1.9" opacity=".85" stroke-linecap="round" stroke-linejoin="round" filter="url(#rough2)"/><polyline points="5.3,94.3 7.2,91.8 10.7,89.4 15,87.4 19.1,85.7 21.5,84.6 24.7,83.5 26.7,81 30.6,79.5" fill="none" stroke="#2420d0" stroke-width="3" opacity=".55" stroke-linecap="round" stroke-linejoin="round" filter="url(#rough)"/><polyline points="5.3,94.3 7.2,91.8 10.7,89.4 15,87.4 19.1,85.7 21.5,84.6 24.7,83.5 26.7,81 30.6,79.5" fill="none" stroke="#c832b4" stroke-width="1.9" opacity=".85" stroke-linecap="round" stroke-linejoin="round" filter="url(#rough2)"/><polyline points="76.5,28.3 77.8,30.3 79.1,34.3 81,36 82.6,39.7" fill="none" stroke="#2420d0" stroke-width="3" opacity=".55" stroke-linecap="round" stroke-linejoin="round" filter="url(#rough)"/><polyline points="76.5,28.3 77.8,30.3 79.1,34.3 81,36 82.6,39.7" fill="none" stroke="#c832b4" stroke-width="1.9" opacity=".85" stroke-linecap="round" stroke-linejoin="round" filter="url(#rough2)"/><polyline points="92.6,45.2 94.2,49.4 97.4,51.9 99.4,55" fill="none" stroke="#2420d0" stroke-width="3" opacity=".55" stroke-linecap="round" stroke-linejoin="round" filter="url(#rough)"/><polyline points="92.6,45.2 94.2,49.4 97.4,51.9 99.4,55" fill="none" stroke="#c832b4" stroke-width="1.9" opacity=".85" stroke-linecap="round" stroke-linejoin="round" filter="url(#rough2)"/><polyline points="72,92.2 75,92 80.3,91.1 83.1,90.3 88.3,89.9 91.7,90.2" fill="none" stroke="#2420d0" stroke-width="3" opacity=".55" stroke-linecap="round" stroke-linejoin="round" filter="url(#rough)"/><polyline points="72,92.2 75,92 80.3,91.1 83.1,90.3 88.3,89.9 91.7,90.2" fill="none" stroke="#c832b4" stroke-width="1.9" opacity=".85" stroke-linecap="round" stroke-linejoin="round" filter="url(#rough2)"/><polyline points="56.6,3.1 44.3,21.4 30.6,44.3 13.8,65.7 0,76.4" fill="none" stroke="#ecc866" stroke-width="1.4" stroke-dasharray="4.4 2.9" stroke-linejoin="round"/><polyline points="76.4,0 97.8,18.3 117.7,41.3 134.5,58.1 146,67.3" fill="none" stroke="#ecc866" stroke-width="1.4" stroke-dasharray="4.4 2.9" stroke-linejoin="round"/><rect x="45.6" y="11.9" width="46.9" height="34.7" fill="none" stroke="#e6e6e6" stroke-width="1.1" stroke-dasharray="3.5 2.3"/><polyline points="45.6,46.6 3.8,107" fill="none" stroke="#e6e6e6" stroke-width="1.1" stroke-dasharray="3.5 2.3" stroke-linejoin="round"/><polyline points="92.5,46.6 141.4,107" fill="none" stroke="#e6e6e6" stroke-width="1.1" stroke-dasharray="3.5 2.3" stroke-linejoin="round"/><text class="w" x="14.5" y="17.2" text-anchor="middle">R</text><text class="w" x="68.8" y="10.6" text-anchor="middle">PDL</text><text class="w" x="134.5" y="14.1" text-anchor="middle">R</text><text class="w" x="71.9" y="105.1" text-anchor="middle">AB</text></g>
<clipPath id="cp23"><rect x="0" y=".1" width="146.5" height="108.7"/></clipPath><g transform="translate(495,719)" clip-path="url(#cp23)"><filter id="fb23" filterUnits="userSpaceOnUse" x="-2" y="-2" width="152" height="114" color-interpolation-filters="sRGB"><feGaussianBlur in="SourceGraphic" stdDeviation="1.1"/><feColorMatrix type="luminanceToAlpha" result="d"/><feTurbulence type="fractalNoise" baseFrequency=".52" numOctaves="2" seed="52" result="n"/><feColorMatrix in="n" type="matrix" values="0 0 0 0 .1 0 0 0 0 .1 0 0 0 0 .9 1 0 0 0 0" result="na"/><feComposite in="na" in2="d" operator="in"/><feComponentTransfer><feFuncA type="linear" slope="6.5" intercept="-3.4"/></feComponentTransfer><feGaussianBlur stdDeviation=".4"/><feComponentTransfer><feFuncA type="linear" slope=".9" intercept="0"/></feComponentTransfer><feColorMatrix result="sp" type="matrix" values="1 0 0 0 0 0 1 0 0 0 0 0 1 0 0 0 0 0 1 0"/><feColorMatrix in="d" type="matrix" values="0 0 0 0 0 0 0 0 0 0 0 0 0 0 .5 0 0 0 1.1 -.9" result="u"/><feMerge><feMergeNode in="u"/><feMergeNode in="sp"/></feMerge></filter><filter id="fr23" filterUnits="userSpaceOnUse" x="-2" y="-2" width="152" height="114" color-interpolation-filters="sRGB"><feGaussianBlur in="SourceGraphic" stdDeviation="1.1"/><feColorMatrix type="luminanceToAlpha" result="d"/><feTurbulence type="fractalNoise" baseFrequency=".6" numOctaves="2" seed="93" result="n"/><feColorMatrix in="n" type="matrix" values="0 0 0 0 .8 0 0 0 0 .1 0 0 0 0 .3 1 0 0 0 0" result="na"/><feComposite in="na" in2="d" operator="in"/><feComponentTransfer><feFuncA type="linear" slope="8" intercept="-4.3"/></feComponentTransfer><feGaussianBlur stdDeviation=".3"/></filter><rect x="-2" y="-2" width="152" height="114" fill="#03010f"/><g filter="url(#fb23)"><rect x="-2" y="-2" width="152" height="114" fill="#000"/><polygon points="0,12.3 40,9.2 40,80 0,86.2" fill="#c2c2c2"/><polygon points="47.7,0 46.2,20 42.3,40 41.6,57 34.6,72.3 36.2,92.4 38.5,109 110.8,109 104.7,89.3 95.4,67.7 94.7,53.9 97,35.4 95.4,15.4 88.5,0" fill="#f3f3f3"/><circle cx="65.4" cy="39.3" r="10.2" fill="#c1c1c1"/><polygon points="60,66.2 86.2,67.7 88.5,86.2 70.8,93.9 57,86.2" fill="#bebebe"/><polygon points="135.5,0 147,0 147,109 143.2,109 140.8,77 135.5,46.2 137.8,23.1" fill="#fbfbfb"/><polygon points="98.5,52.3 110.8,53.9 107.7,72.3 100.1,67.7" fill="#d4d4d4"/></g><g filter="url(#fr23)"><rect x="-2" y="-2" width="152" height="114" fill="#000"/><polygon points="47.7,0 41.6,57 38.5,109 110.8,109 94.7,53.9 88.5,0" fill="#c2c2c2"/><polyline points="55.4,44.6 53.9,33.9 64.6,27.7" fill="none" stroke="#f6f6f6" stroke-width="2.7" stroke-linecap="round" stroke-linejoin="round"/><polyline points="49.3,70.8 50.8,92.4" fill="none" stroke="#f6f6f6" stroke-width="3.1" stroke-linecap="round" stroke-linejoin="round"/><polyline points="138.5,23.1 140.8,77" fill="none" stroke="#eeeeee" stroke-width="3.1" stroke-linecap="round" stroke-linejoin="round"/></g><polyline points="47.7,0 46.2,20 42.3,40 41.6,57 34.6,72.3 36.2,92.4 38.5,109" fill="none" stroke="#ecc866" stroke-width="1.4" stroke-dasharray="4.4 2.9" stroke-linejoin="round"/><polyline points="88.5,0 95.4,15.4 97,35.4 94.7,53.9 95.4,67.7 104.7,89.3 110.8,109" fill="none" stroke="#ecc866" stroke-width="1.4" stroke-dasharray="4.4 2.9" stroke-linejoin="round"/><rect x="40" y="23.1" width="46.5" height="34.3" fill="none" stroke="#e6e6e6" stroke-width="1.1" stroke-dasharray="3.5 2.3"/><polyline points="40,57.4 4.6,107" fill="none" stroke="#e6e6e6" stroke-width="1.1" stroke-dasharray="3.5 2.3" stroke-linejoin="round"/><polyline points="86.5,57.4 140.8,107.7" fill="none" stroke="#e6e6e6" stroke-width="1.1" stroke-dasharray="3.5 2.3" stroke-linejoin="round"/><text class="w" x="10" y="15.7" text-anchor="middle">R</text><text class="w" x="69.3" y="15.7" text-anchor="middle">PDL</text><text class="w" x="123.1" y="14.7" text-anchor="middle">R</text><text class="w" x="73.9" y="102.4" text-anchor="middle">AB</text></g>
<clipPath id="cp24"><rect x=".3" y=".1" width="146" height="108.7"/></clipPath><g transform="translate(646,719)" clip-path="url(#cp24)"><filter id="fb24" filterUnits="userSpaceOnUse" x="-2" y="-2" width="152" height="114" color-interpolation-filters="sRGB"><feGaussianBlur in="SourceGraphic" stdDeviation="1.1"/><feColorMatrix type="luminanceToAlpha" result="d"/><feTurbulence type="fractalNoise" baseFrequency=".52" numOctaves="2" seed="57" result="n"/><feColorMatrix in="n" type="matrix" values="0 0 0 0 .1 0 0 0 0 .1 0 0 0 0 .9 1 0 0 0 0" result="na"/><feComposite in="na" in2="d" operator="in"/><feComponentTransfer><feFuncA type="linear" slope="6.5" intercept="-3.4"/></feComponentTransfer><feGaussianBlur stdDeviation=".4"/><feComponentTransfer><feFuncA type="linear" slope=".9" intercept="0"/></feComponentTransfer><feColorMatrix result="sp" type="matrix" values="1 0 0 0 0 0 1 0 0 0 0 0 1 0 0 0 0 0 1 0"/><feColorMatrix in="d" type="matrix" values="0 0 0 0 0 0 0 0 0 0 0 0 0 0 .5 0 0 0 1.1 -.9" result="u"/><feMerge><feMergeNode in="u"/><feMergeNode in="sp"/></feMerge></filter><filter id="fr24" filterUnits="userSpaceOnUse" x="-2" y="-2" width="152" height="114" color-interpolation-filters="sRGB"><feGaussianBlur in="SourceGraphic" stdDeviation="1.1"/><feColorMatrix type="luminanceToAlpha" result="d"/><feTurbulence type="fractalNoise" baseFrequency=".6" numOctaves="2" seed="98" result="n"/><feColorMatrix in="n" type="matrix" values="0 0 0 0 .8 0 0 0 0 .1 0 0 0 0 .3 1 0 0 0 0" result="na"/><feComposite in="na" in2="d" operator="in"/><feComponentTransfer><feFuncA type="linear" slope="8" intercept="-4.3"/></feComponentTransfer><feGaussianBlur stdDeviation=".3"/></filter><rect x="-2" y="-2" width="152" height="114" fill="#04042a"/><polygon points="34.6,0 30.8,20 29.2,50.8 27.7,80 29.2,109 117,109 118.5,80 113.9,61.6 110.8,38.5 106.2,16.9 97.7,0" fill="#020214" filter="url(#blurS)"/><g filter="url(#fb24)"><rect x="-2" y="-2" width="152" height="114" fill="#000"/><polygon points="34.6,0 30.8,20 29.2,50.8 27.7,80 29.2,109 117,109 118.5,80 113.9,61.6 110.8,38.5 106.2,16.9 97.7,0" fill="#efefef"/><circle cx="70" cy="30.8" r="8.2" fill="#c2c2c2"/><polygon points="66.2,61.6 83.1,63.1 84.7,75.4 67.7,73.9" fill="#c2c2c2"/><circle cx="61.6" cy="87" r="7" fill="#bebebe"/><circle cx="87.7" cy="97" r="5.1" fill="#c7c7c7"/><polyline points="52.3,81.6 64.6,78.5 69.3,86.2" fill="none" stroke="#ffffff" stroke-width="3.1" stroke-linecap="round" stroke-linejoin="round"/></g><g filter="url(#fr24)"><rect x="-2" y="-2" width="152" height="114" fill="#000"/><polygon points="34.6,0 29.2,50.8 29.2,109 117,109 113.9,61.6 97.7,0" fill="#cfcfcf"/><polyline points="80,23.1 86.2,35.4" fill="none" stroke="#f6f6f6" stroke-width="3.6" stroke-linecap="round" stroke-linejoin="round"/></g><polyline points="34.6,0 30.8,20 29.2,50.8 27.7,80 29.2,109" fill="none" stroke="#ecc866" stroke-width="1.4" stroke-dasharray="4.4 2.9" stroke-linejoin="round"/><polyline points="97.7,0 106.2,16.9 110.8,38.5 113.9,61.6 118.5,80 117,109" fill="none" stroke="#ecc866" stroke-width="1.4" stroke-dasharray="4.4 2.9" stroke-linejoin="round"/><rect x="62.3" y="11.1" width="47.3" height="34.3" fill="none" stroke="#e6e6e6" stroke-width="1.1" stroke-dasharray="3.5 2.3"/><polyline points="62.3,45.4 3.8,107.7" fill="none" stroke="#e6e6e6" stroke-width="1.1" stroke-dasharray="3.5 2.3" stroke-linejoin="round"/><polyline points="109.6,45.4 143.9,107.7" fill="none" stroke="#e6e6e6" stroke-width="1.1" stroke-dasharray="3.5 2.3" stroke-linejoin="round"/><text class="w" x="8.5" y="14.2" text-anchor="middle">R</text><text class="w" x="47.7" y="14.7" text-anchor="middle">PDL</text><text class="w" x="136.2" y="13.1" text-anchor="middle">R</text><text class="w" x="69.3" y="101.2" text-anchor="middle">AB</text></g>
<clipPath id="cp25"><rect x=".2" y=".1" width="146.3" height="108.7"/></clipPath><g transform="translate(797,719)" clip-path="url(#cp25)"><filter id="fb25" filterUnits="userSpaceOnUse" x="-2" y="-2" width="152" height="114" color-interpolation-filters="sRGB"><feGaussianBlur in="SourceGraphic" stdDeviation="1.1"/><feColorMatrix type="luminanceToAlpha" result="d"/><feTurbulence type="fractalNoise" baseFrequency=".52" numOctaves="2" seed="62" result="n"/><feColorMatrix in="n" type="matrix" values="0 0 0 0 .1 0 0 0 0 .1 0 0 0 0 .9 1 0 0 0 0" result="na"/><feComposite in="na" in2="d" operator="in"/><feComponentTransfer><feFuncA type="linear" slope="6.5" intercept="-3.4"/></feComponentTransfer><feGaussianBlur stdDeviation=".4"/><feComponentTransfer><feFuncA type="linear" slope=".9" intercept="0"/></feComponentTransfer><feColorMatrix result="sp" type="matrix" values="1 0 0 0 0 0 1 0 0 0 0 0 1 0 0 0 0 0 1 0"/><feColorMatrix in="d" type="matrix" values="0 0 0 0 0 0 0 0 0 0 0 0 0 0 .5 0 0 0 1.1 -.9" result="u"/><feMerge><feMergeNode in="u"/><feMergeNode in="sp"/></feMerge></filter><filter id="fr25" filterUnits="userSpaceOnUse" x="-2" y="-2" width="152" height="114" color-interpolation-filters="sRGB"><feGaussianBlur in="SourceGraphic" stdDeviation="1.1"/><feColorMatrix type="luminanceToAlpha" result="d"/><feTurbulence type="fractalNoise" baseFrequency=".6" numOctaves="2" seed="103" result="n"/><feColorMatrix in="n" type="matrix" values="0 0 0 0 .8 0 0 0 0 .1 0 0 0 0 .3 1 0 0 0 0" result="na"/><feComposite in="na" in2="d" operator="in"/><feComponentTransfer><feFuncA type="linear" slope="8" intercept="-4.3"/></feComponentTransfer><feGaussianBlur stdDeviation=".3"/></filter><rect x="-2" y="-2" width="152" height="114" fill="#03010f"/><g filter="url(#fb25)"><rect x="-2" y="-2" width="152" height="114" fill="#000"/><polygon points="26.9,0 28.5,20 31.6,46.2 33.9,66.2 37.7,92.4 40.8,109 107.7,109 111.6,92.4 116.2,73.9 119.3,53.9 120.1,29.2 115.4,13.9 105.4,0" fill="#eeeeee"/><circle cx="63.1" cy="38.5" r="9.8" fill="#c1c1c1"/><polygon points="61.6,61.6 80,61.6 83.1,72.3 64.6,73.9" fill="#c2c2c2"/><circle cx="67.7" cy="90" r="6.6" fill="#c2c2c2"/><polyline points="143.9,77 146.2,92.4 147,109" fill="none" stroke="#fbfbfb" stroke-width="3.1" stroke-linecap="round" stroke-linejoin="round"/><circle cx="95.4" cy="46.2" r="4.7" fill="#c7c7c7"/></g><g filter="url(#fr25)"><rect x="-2" y="-2" width="152" height="114" fill="#000"/><polygon points="26.9,0 31.6,46.2 40.8,109 107.7,109 119.3,53.9 105.4,0" fill="#c2c2c2"/><circle cx="97" cy="33.9" r="2.7" fill="#ffffff"/><circle cx="88.5" cy="100.8" r="2" fill="#ffffff"/><polyline points="50.8,61.6 57,72.3" fill="none" stroke="#f6f6f6" stroke-width="2.7" stroke-linecap="round" stroke-linejoin="round"/></g><polyline points="26.9,0 28.5,20 31.6,46.2 33.9,66.2 37.7,92.4 40.8,109" fill="none" stroke="#ecc866" stroke-width="1.4" stroke-dasharray="4.4 2.9" stroke-linejoin="round"/><polyline points="105.4,0 115.4,13.9 120.1,29.2 119.3,53.9 116.2,73.9 111.6,92.4 107.7,109" fill="none" stroke="#ecc866" stroke-width="1.4" stroke-dasharray="4.4 2.9" stroke-linejoin="round"/><rect x="36.6" y="18.2" width="46.8" height="34.2" fill="none" stroke="#e6e6e6" stroke-width="1.1" stroke-dasharray="3.5 2.3"/><polyline points="36.6,52.3 3.1,107.7" fill="none" stroke="#e6e6e6" stroke-width="1.1" stroke-dasharray="3.5 2.3" stroke-linejoin="round"/><polyline points="83.4,52.3 140.8,107" fill="none" stroke="#e6e6e6" stroke-width="1.1" stroke-dasharray="3.5 2.3" stroke-linejoin="round"/><text class="w" x="10" y="14.7" text-anchor="middle">R</text><text class="w" x="72.7" y="12.7" text-anchor="middle">PDL</text><text class="w" x="136.2" y="13.4" text-anchor="middle">R</text><text class="w" x="75.4" y="105" text-anchor="middle">AB</text><text class="w" x="141.8" y="99.4" text-anchor="end" style="font-size:12.3px">100 µm</text><rect x="124.4" y="104.4" width="17.2" height="1.5" fill="#fff"/></g>
<clipPath id="cp30"><rect x="0" y="-.2" width="146" height="109.7"/></clipPath><g transform="translate(42,833)" clip-path="url(#cp30)"><rect x="-2" y="-2" width="152" height="114" fill="#0c0209"/><g fill="#1416ee" opacity=".9" filter="url(#blurN)"><ellipse rx="3.4" ry="2" transform="translate(34.6 65.7) rotate(-17)" opacity=".7"/><ellipse rx="3.6" ry="1.7" transform="translate(35.1 40) rotate(-20)"/><ellipse rx="3.7" ry="1.7" transform="translate(59.1 13.5) rotate(-23)"/><ellipse rx="2.9" ry="1.5" transform="translate(14.7 24) rotate(-40)"/><ellipse rx="2.6" ry="1.6" transform="translate(12 64.4) rotate(-38)"/><ellipse rx="2.5" ry="1.8" transform="translate(16.3 70.3) rotate(-15)" opacity=".7"/><ellipse rx="3.3" ry="2" transform="translate(37.2 7.7) rotate(-33)"/><ellipse rx="2.9" ry="1.9" transform="translate(26 30.2) rotate(-35)" opacity=".6"/><ellipse rx="3.8" ry="1.7" transform="translate(42.8 21.6) rotate(-27)"/><ellipse rx="3.8" ry="1.8" transform="translate(25.7 47.5) rotate(-59)"/><ellipse rx="3.5" ry="1.8" transform="translate(40.4 16.5) rotate(-54)"/><ellipse rx="2.8" ry="1.7" transform="translate(12.7 35.2) rotate(-38)"/><ellipse rx="3.3" ry="2" transform="translate(20.2 21.8) rotate(-25)" opacity=".6"/><ellipse rx="2.8" ry="2.1" transform="translate(47.9 17) rotate(-62)"/><ellipse rx="3.1" ry="1.7" transform="translate(5.8 32) rotate(-34)"/><ellipse rx="3.6" ry="1.8" transform="translate(30.9 7.3) rotate(-30)" opacity=".4"/><ellipse rx="3.4" ry="2" transform="translate(8.5 53.3) rotate(-43)"/><ellipse rx="3" ry="1.5" transform="translate(15.3 29.8) rotate(-46)" opacity=".7"/><ellipse rx="3.8" ry="2" transform="translate(24.7 43.8) rotate(-26)" opacity=".5"/><ellipse rx="3.8" ry="1.9" transform="translate(50.9 19.5) rotate(-52)"/><ellipse rx="3.8" ry="2.1" transform="translate(14.6 15.7) rotate(-58)" opacity=".6"/><ellipse rx="3.3" ry="1.6" transform="translate(49.8 10.1) rotate(-39)" opacity=".7"/><ellipse rx="3.1" ry="1.9" transform="translate(11.3 70.2) rotate(-42)" opacity=".7"/><ellipse rx="3" ry="1.5" transform="translate(30.3 69.4) rotate(-34)"/><ellipse rx="3.6" ry="2.1" transform="translate(12.5 8.7) rotate(-41)" opacity=".6"/><ellipse rx="2.9" ry="1.5" transform="translate(16.6 41.1) rotate(-57)" opacity=".6"/><ellipse rx="2.7" ry="1.5" transform="translate(30 16.3) rotate(-19)" opacity=".6"/><ellipse rx="3.1" ry="2" transform="translate(60 27) rotate(-63)" opacity=".5"/><ellipse rx="3.9" ry="2.1" transform="translate(47 36.1) rotate(-33)"/><ellipse rx="2.6" ry="2" transform="translate(26.2 14.1) rotate(-25)"/><ellipse rx="3.8" ry="2.1" transform="translate(42.3 7.7) rotate(-39)" opacity=".8"/><ellipse rx="3.4" ry="2" transform="translate(46.8 47.5) rotate(-64)"/><ellipse rx="3.2" ry="2" transform="translate(12.4 92.1) rotate(-61)" opacity=".6"/><ellipse rx="2.5" ry="2" transform="translate(2.2 85) rotate(-52)" opacity=".7"/><ellipse rx="3.8" ry="1.8" transform="translate(17.3 78.7) rotate(-15)"/><ellipse rx="3" ry="1.7" transform="translate(36.8 83.8) rotate(-60)" opacity=".8"/><ellipse rx="3" ry="1.7" transform="translate(6.2 108.1) rotate(-59)"/><ellipse rx="2.6" ry="1.8" transform="translate(1.1 80.2) rotate(-54)"/><ellipse rx="3" ry="1.8" transform="translate(2.2 75.9) rotate(-60)" opacity=".8"/><ellipse rx="3.4" ry="1.8" transform="translate(42.5 102.9) rotate(-35)" opacity=".7"/><ellipse rx="3.7" ry="2.2" transform="translate(18.3 89.6) rotate(-53)" opacity=".6"/><ellipse rx="3" ry="1.5" transform="translate(23.6 105) rotate(-52)"/><ellipse rx="3.3" ry="1.6" transform="translate(42.1 81.3) rotate(-52)" opacity=".8"/><ellipse rx="2.8" ry="1.6" transform="translate(9.2 87.2) rotate(-23)"/><ellipse rx="2.7" ry="1.7" transform="translate(.6 96.9) rotate(-44)" opacity=".6"/><ellipse rx="2.7" ry="2.1" transform="translate(43.5 89.2) rotate(-59)" opacity=".7"/><ellipse rx="2.9" ry="1.9" transform="translate(23.7 82.7) rotate(-20)" opacity=".6"/><ellipse rx="3" ry="1.7" transform="translate(144.9 45.5) rotate(-14)" opacity=".6"/><ellipse rx="3.9" ry="2" transform="translate(145 81.7) rotate(-36)"/><ellipse rx="3.6" ry="1.9" transform="translate(124.5 43.5) rotate(-23)" opacity=".7"/><ellipse rx="3.6" ry="1.9" transform="translate(143.7 .8) rotate(-25)" opacity=".6"/><ellipse rx="2.8" ry="2.1" transform="translate(118.1 29.2) rotate(-48)" opacity=".6"/><ellipse rx="2.5" ry="2.1" transform="translate(108.7 23) rotate(-18)"/><ellipse rx="2.6" ry="1.7" transform="translate(69.4 27.3) rotate(5)" opacity=".7"/><ellipse rx="3.2" ry="1.9" transform="translate(121.2 1.1) rotate(-42)" opacity=".5"/><ellipse rx="3.2" ry="1.9" transform="translate(78.3 15.5) rotate(-30)"/><ellipse rx="2.5" ry="1.9" transform="translate(93.3 33.6) rotate(-49)"/><ellipse rx="3.3" ry="1.9" transform="translate(80.8 24.4) rotate(4)" opacity=".8"/><ellipse rx="3.7" ry="2.1" transform="translate(87.6 4.5) rotate(-40)" opacity=".7"/><ellipse rx="2.9" ry="1.6" transform="translate(116 22) rotate(-31)"/><ellipse rx="2.9" ry="2" transform="translate(127.2 24.6) rotate(-41)"/><ellipse rx="2.7" ry="1.8" transform="translate(93 24.9) rotate(-46)" opacity=".5"/><ellipse rx="2.8" ry="1.8" transform="translate(112.8 10.6) rotate(1)" opacity=".6"/><ellipse rx="3.6" ry="2" transform="translate(138.5 10.1) rotate(-25)" opacity=".7"/><ellipse rx="2.6" ry="2" transform="translate(143 6.5) rotate(-28)"/><ellipse rx="2.5" ry="2" transform="translate(112.2 41.8) rotate(-5)"/><ellipse rx="3.2" ry="1.7" transform="translate(105.3 4) rotate(-15)"/><ellipse rx="3.5" ry="2.1" transform="translate(94 13.9) rotate(-40)"/><ellipse rx="3.7" ry="1.7" transform="translate(138.9 68.4) rotate(-37)" opacity=".6"/><ellipse rx="3.3" ry="2.2" transform="translate(136.7 44.5) rotate(-45)"/><ellipse rx="3.8" ry="2" transform="translate(125.8 51.4) rotate(-43)"/><ellipse rx="3.5" ry="2.1" transform="translate(128.9 40.7) rotate(-29)" opacity=".5"/><ellipse rx="3.3" ry="1.6" transform="translate(125.8 32.6) rotate(-17)"/><ellipse rx="2.9" ry="2.1" transform="translate(131.5 26.5) rotate(-42)"/><ellipse rx="3" ry="1.7" transform="translate(134.3 11.7) rotate(3)"/><ellipse rx="2.6" ry="1.8" transform="translate(85.1 12.1) rotate(-20)" opacity=".4"/><ellipse rx="3.7" ry="2.2" transform="translate(94.1 19.8) rotate(6)" opacity=".6"/><ellipse rx="3.4" ry="2" transform="translate(117 32.8) rotate(-10)" opacity=".4"/><ellipse rx="2.5" ry="2" transform="translate(82.7 32.4) rotate(-11)"/><ellipse rx="3.7" ry="1.5" transform="translate(132.5 70.3) rotate(-11)" opacity=".5"/><ellipse rx="2.8" ry="1.9" transform="translate(142.7 17.8) rotate(-37)" opacity=".5"/><ellipse rx="3.8" ry="1.8" transform="translate(138.3 33.8) rotate(-28)" opacity=".6"/><ellipse rx="2.8" ry="1.8" transform="translate(130.5 4.2) rotate(-39)" opacity=".5"/><ellipse rx="2.6" ry="1.9" transform="translate(140.1 50.3) rotate(-37)" opacity=".7"/><ellipse rx="3.4" ry="1.6" transform="translate(103.8 34.2) rotate(-22)" opacity=".4"/><ellipse rx="3.9" ry="1.5" transform="translate(103.2 39.4) rotate(2)" opacity=".8"/><ellipse rx="3.7" ry="2.1" transform="translate(86.4 32) rotate(-20)"/><ellipse rx="3.7" ry="1.8" transform="translate(142.5 76.9) rotate(-27)"/><ellipse rx="3.2" ry="1.9" transform="translate(91 1.2) rotate(-32)" opacity=".6"/><ellipse rx="3.6" ry="1.5" transform="translate(89.8 35.2) rotate(-38)"/><ellipse rx="2.6" ry="2.2" transform="translate(98.7 37.3) rotate(-32)" opacity=".5"/><ellipse rx="3" ry="1.8" transform="translate(137 39.7) rotate(1)" opacity=".7"/><ellipse rx="2.8" ry="2.2" transform="translate(138.3 18) rotate(-44)"/><ellipse rx="2.8" ry="1.9" transform="translate(131.4 8.6) rotate(-46)"/><ellipse rx="2.6" ry="2.1" transform="translate(136.2 5.9) rotate(-9)"/><ellipse rx="3.6" ry="1.6" transform="translate(111 19.1) rotate(7)"/><ellipse rx="3.2" ry="1.9" transform="translate(137.7 54.2) rotate(-47)"/><ellipse rx="2.6" ry="2" transform="translate(107.6 41.5) rotate(9)" opacity=".7"/><ellipse rx="3.5" ry="2" transform="translate(104.9 14.7) rotate(-20)" opacity=".4"/><ellipse rx="3.7" ry="1.6" transform="translate(125 21.7) rotate(-34)" opacity=".8"/><ellipse rx="3.3" ry="2.1" transform="translate(65.4 59.7) rotate(71)" opacity=".5"/><ellipse rx="3.8" ry="1.6" transform="translate(86.8 87.4) rotate(156)"/><ellipse rx="3" ry="1.8" transform="translate(92.3 105.6) rotate(64)"/><ellipse rx="2.8" ry="1.6" transform="translate(91.1 62) rotate(113)" opacity=".7"/><ellipse rx="3.9" ry="1.6" transform="translate(64.5 77) rotate(108)" opacity=".8"/><ellipse rx="3.5" ry="1.9" transform="translate(70.1 97.1) rotate(23)"/><ellipse rx="2.9" ry="1.5" transform="translate(95.5 72.8) rotate(45)" opacity=".6"/><ellipse rx="3.8" ry="1.6" transform="translate(87.5 65.6) rotate(145)"/><ellipse rx="3.1" ry="2.1" transform="translate(100.6 52.3) rotate(173)" opacity=".5"/><ellipse rx="3.6" ry="2.1" transform="translate(77.6 50.5) rotate(4)"/><ellipse rx="2.6" ry="2" transform="translate(88 100.6) rotate(138)" opacity=".8"/><ellipse rx="3.4" ry="2.2" transform="translate(108.4 91.8) rotate(99)"/><ellipse rx="3.8" ry="1.6" transform="translate(62.8 85.1) rotate(101)"/><ellipse rx="3.7" ry="2.1" transform="translate(54.7 78) rotate(166)" opacity=".7"/><ellipse rx="2.8" ry="1.7" transform="translate(132.4 79.9) rotate(-25)"/><ellipse rx="3.6" ry="2.1" transform="translate(110.9 103.6) rotate(-47)"/><ellipse rx="3.3" ry="1.5" transform="translate(132.7 106.1) rotate(-47)"/><ellipse rx="3" ry="2" transform="translate(108.7 99) rotate(-66)"/><ellipse rx="2.7" ry="1.9" transform="translate(142.5 67.6) rotate(-38)" opacity=".7"/><ellipse rx="3.4" ry="1.8" transform="translate(141.9 95.1) rotate(-27)" opacity=".6"/><ellipse rx="3.3" ry="1.6" transform="translate(101.6 106.7) rotate(-55)" opacity=".5"/><ellipse rx="3.3" ry="2.1" transform="translate(109.4 85) rotate(-28)" opacity=".6"/><ellipse rx="3.4" ry="2" transform="translate(119.9 89.2) rotate(-36)"/><ellipse rx="3.1" ry="2.1" transform="translate(137.3 98.5) rotate(-62)"/><ellipse rx="3.6" ry="1.8" transform="translate(115.6 100.2) rotate(-39)"/><ellipse rx="2.7" ry="1.8" transform="translate(136.4 76.5) rotate(-55)" opacity=".7"/><ellipse rx="2.6" ry="2" transform="translate(128 108.4) rotate(-62)" opacity=".4"/><ellipse rx="2.7" ry="1.8" transform="translate(130.9 74.8) rotate(-19)"/><ellipse rx="3.2" ry="2" transform="translate(99.3 97.8) rotate(-65)" opacity=".5"/></g><g fill="#b030c8" filter="url(#blurN)"><ellipse rx="2" ry="1.5" transform="translate(26.3 30.3) rotate(-35)" opacity=".7"/><ellipse rx="2.6" ry="1.2" transform="translate(12.2 8.7) rotate(-41)" opacity=".9"/><ellipse rx="1.5" ry=".9" transform="translate(29.2 16.2) rotate(-19)" opacity=".9"/><ellipse rx="2.4" ry="1.2" transform="translate(139.3 68.6) rotate(-37)" opacity=".8"/><ellipse rx="1.9" ry="1.1" transform="translate(83.3 32.2) rotate(-11)" opacity=".7"/><ellipse rx="2.6" ry="1.4" transform="translate(141.7 77.4) rotate(-27)" opacity=".6"/><ellipse rx="2.2" ry="1.2" transform="translate(131.9 9.1) rotate(-46)" opacity=".6"/><ellipse rx="2.4" ry="1.2" transform="translate(138.1 54.1) rotate(-47)" opacity=".8"/><ellipse rx="1.8" ry="1.5" transform="translate(65.7 59.3) rotate(71)" opacity=".8"/><ellipse rx="2" ry="1.4" transform="translate(92.9 105.1) rotate(64)" opacity=".8"/></g><filter id="fh30" filterUnits="userSpaceOnUse" x="-2" y="-2" width="152" height="114" color-interpolation-filters="sRGB"><feGaussianBlur in="SourceGraphic" stdDeviation=".9"/><feColorMatrix type="luminanceToAlpha" result="d"/><feTurbulence type="fractalNoise" baseFrequency=".33" numOctaves="2" seed="42" result="n"/><feColorMatrix in="n" type="matrix" values="0 0 0 0 .6 0 0 0 0 .1 0 0 0 0 .2 1 0 0 0 0" result="na"/><feComposite in="na" in2="d" operator="in"/><feComponentTransfer><feFuncA type="linear" slope="7" intercept="-3.4"/></feComponentTransfer><feGaussianBlur stdDeviation=".7"/><feComponentTransfer><feFuncA type="linear" slope="1.8" intercept="0"/></feComponentTransfer></filter><g filter="url(#fh30)"><rect x="-2" y="-2" width="152" height="114" fill="#000"/><polyline points="30.6,50.5 39.7,33.6 52,16.8" fill="none" stroke="#d8d8d8" stroke-width="8.3" stroke-linecap="round" stroke-linejoin="round"/><circle cx="131.5" cy="85.6" r="9.2" fill="#dcdcdc"/><circle cx="107" cy="26" r="11.1" fill="#d4d4d4"/><circle cx="99.4" cy="100.9" r="3.7" fill="#eeeeee"/></g><g opacity=".13" filter="url(#blur2)"><circle cx="99.4" cy="100.9" r="4" fill="#c8101c"/></g></g>
<clipPath id="cp31"><rect x=".5" y="-.2" width="146.2" height="109.7"/></clipPath><g transform="translate(192,833)" clip-path="url(#cp31)"><rect x="-2" y="-2" width="152" height="114" fill="#03010f"/><g fill="#1416ee" opacity=".9" filter="url(#blurN)"><ellipse rx="2.3" ry="1.9" transform="translate(10.3 40.3) rotate(139)"/><ellipse rx="3.2" ry="1.6" transform="translate(2.5 61.4) rotate(130)"/><ellipse rx="2.7" ry="2" transform="translate(44.6 14.2) rotate(158)"/><ellipse rx="2.4" ry="1.8" transform="translate(50.8 7) rotate(30)" opacity=".6"/><ellipse rx="2.7" ry="1.5" transform="translate(27.7 8.5) rotate(156)"/><ellipse rx="3.1" ry="1.8" transform="translate(5.6 8.4) rotate(78)" opacity=".8"/><ellipse rx="2.3" ry="2" transform="translate(40.9 7.9) rotate(55)"/><ellipse rx="3.3" ry="1.7" transform="translate(39.1 34.3) rotate(166)"/><ellipse rx="3" ry="1.9" transform="translate(10.6 28) rotate(63)" opacity=".7"/><ellipse rx="3.4" ry="1.9" transform="translate(16.2 43.7) rotate(153)" opacity=".5"/><ellipse rx="2.5" ry="1.6" transform="translate(20.3 13.2) rotate(71)" opacity=".5"/><ellipse rx="3.1" ry="1.5" transform="translate(10.7 54.7) rotate(131)"/><ellipse rx="2.3" ry="1.6" transform="translate(16 10.9) rotate(161)"/><ellipse rx="3.3" ry="1.6" transform="translate(1.7 3.6) rotate(102)" opacity=".6"/><ellipse rx="3" ry="2.1" transform="translate(17.4 53.7) rotate(94)"/><ellipse rx="3" ry="1.8" transform="translate(24 34.5) rotate(32)" opacity=".7"/><ellipse rx="2.9" ry="1.8" transform="translate(37.5 46.2) rotate(110)" opacity=".5"/><ellipse rx="3.3" ry="1.5" transform="translate(35.4 11.5) rotate(25)"/><ellipse rx="3" ry="2" transform="translate(4 25.7) rotate(98)" opacity=".7"/><ellipse rx="2.9" ry="2.2" transform="translate(60.7 2.1) rotate(68)" opacity=".5"/><ellipse rx="3.5" ry="2.1" transform="translate(69.6 12.8) rotate(10)" opacity=".7"/><ellipse rx="3.1" ry="1.7" transform="translate(16.5 33) rotate(98)"/><ellipse rx="3" ry="2" transform="translate(69.3 6.6) rotate(132)" opacity=".8"/><ellipse rx="2.4" ry="2.2" transform="translate(41.7 31.2) rotate(160)" opacity=".4"/><ellipse rx="2.3" ry="1.7" transform="translate(39.7 26.1) rotate(154)"/><ellipse rx="2.5" ry="1.5" transform="translate(2.4 39.1) rotate(50)"/><ellipse rx="2.8" ry="2.1" transform="translate(20.1 22.1) rotate(3)" opacity=".7"/><ellipse rx="3.3" ry="2" transform="translate(28.9 36.6) rotate(62)" opacity=".6"/><ellipse rx="2.7" ry="1.7" transform="translate(33.8 2.6) rotate(15)" opacity=".6"/><ellipse rx="2.3" ry="1.9" transform="translate(33.1 18.1) rotate(85)"/><ellipse rx="3.2" ry="1.5" transform="translate(64.2 15.3) rotate(95)" opacity=".6"/><ellipse rx="2.5" ry="2" transform="translate(35.7 23.6) rotate(164)" opacity=".6"/><ellipse rx="3.4" ry="1.8" transform="translate(5.6 56.1) rotate(10)"/><ellipse rx="2.8" ry="1.7" transform="translate(26.6 40.3) rotate(129)" opacity=".5"/><ellipse rx="3.3" ry="1.7" transform="translate(75.3 6.3) rotate(165)"/><ellipse rx="2.2" ry="2.1" transform="translate(15.8 22.4) rotate(69)" opacity=".6"/><ellipse rx="2.7" ry="1.6" transform="translate(13.5 38.2) rotate(68)" opacity=".4"/><ellipse rx="2.9" ry="1.9" transform="translate(31.1 25.3) rotate(10)"/><ellipse rx="3" ry="1.9" transform="translate(19.2 40) rotate(36)"/><ellipse rx="3.1" ry="2.2" transform="translate(18.9 28.4) rotate(103)"/><ellipse rx="3.5" ry="2.2" transform="translate(47.7 10.7) rotate(55)"/><ellipse rx="2.3" ry="1.8" transform="translate(1.6 21) rotate(101)" opacity=".8"/><ellipse rx="2.3" ry="2.2" transform="translate(14.8 26.6) rotate(74)" opacity=".5"/><ellipse rx="2.7" ry="1.6" transform="translate(46.7 6.5) rotate(119)"/><ellipse rx="2.8" ry="1.7" transform="translate(10.8 13.8) rotate(78)" opacity=".7"/><ellipse rx="2.9" ry="2.1" transform="translate(27.4 29.7) rotate(78)"/><ellipse rx="2.6" ry="1.7" transform="translate(60.5 15) rotate(173)"/><ellipse rx="3" ry="1.7" transform="translate(39 17.7) rotate(95)" opacity=".4"/><ellipse rx="2.9" ry="2" transform="translate(5.9 49.1) rotate(74)"/><ellipse rx="2.7" ry="1.6" transform="translate(56.4 20.5) rotate(104)"/><ellipse rx="3.1" ry="2.1" transform="translate(2.5 47.5) rotate(104)"/><ellipse rx="3.1" ry="1.8" transform="translate(27.4 43.9) rotate(150)" opacity=".7"/><ellipse rx="3.1" ry="1.6" transform="translate(49.3 20.3) rotate(102)" opacity=".5"/><ellipse rx="2.6" ry="1.5" transform="translate(74.5 43.5) rotate(143)" opacity=".5"/><ellipse rx="2.5" ry="2.1" transform="translate(70.9 41.9) rotate(13)"/><ellipse rx="2.5" ry="1.6" transform="translate(76.7 47.1) rotate(155)"/><ellipse rx="3.4" ry="2" transform="translate(76.4 36.2) rotate(159)"/><ellipse rx="3.1" ry="1.9" transform="translate(72.8 33.7) rotate(118)" opacity=".4"/><ellipse rx="3.4" ry="1.8" transform="translate(80.2 53.7) rotate(179)"/><ellipse rx="2.5" ry="2.1" transform="translate(80.8 41.6) rotate(63)"/><ellipse rx="2.7" ry="2.1" transform="translate(80.3 28.5) rotate(116)"/><ellipse rx="2.7" ry="1.8" transform="translate(84.4 45.9) rotate(2)"/><ellipse rx="2.4" ry="1.7" transform="translate(84.4 51.4) rotate(153)"/><ellipse rx="2.7" ry="1.8" transform="translate(74.3 26.7) rotate(86)"/><ellipse rx="2.3" ry="1.5" transform="translate(73.9 13.4) rotate(48)" opacity=".5"/><ellipse rx="2.5" ry="2.1" transform="translate(78.5 14.3) rotate(41)" opacity=".5"/><ellipse rx="3.5" ry="1.7" transform="translate(81.6 18.5) rotate(60)"/><ellipse rx="3.3" ry="1.5" transform="translate(88.6 23.2) rotate(28)" opacity=".6"/><ellipse rx="2.5" ry="1.5" transform="translate(91.5 29) rotate(15)"/><ellipse rx="2.5" ry="2.1" transform="translate(96.9 28.4) rotate(40)" opacity=".5"/><ellipse rx="2.5" ry="1.6" transform="translate(101.7 30.1) rotate(12)" opacity=".6"/><ellipse rx="3.2" ry="2.1" transform="translate(105.5 35.1) rotate(31)"/><ellipse rx="2.6" ry="1.7" transform="translate(109.9 41.2) rotate(39)" opacity=".7"/><ellipse rx="2.9" ry="1.7" transform="translate(114.3 41.4) rotate(33)" opacity=".8"/><ellipse rx="2.6" ry="2" transform="translate(121.4 39.9) rotate(40)"/><ellipse rx="2.7" ry="1.7" transform="translate(116.6 69.4) rotate(77)" opacity=".7"/><ellipse rx="2.4" ry="1.5" transform="translate(121.2 85) rotate(20)"/><ellipse rx="2.8" ry="2" transform="translate(131.5 17) rotate(63)" opacity=".6"/><ellipse rx="2.7" ry="1.7" transform="translate(142.4 7.7) rotate(74)" opacity=".8"/><ellipse rx="3.4" ry="1.9" transform="translate(106.7 58.5) rotate(135)"/><ellipse rx="3.3" ry="2" transform="translate(105.4 30.4) rotate(40)"/><ellipse rx="3.5" ry="1.8" transform="translate(110.3 48.2) rotate(87)" opacity=".5"/><ellipse rx="2.4" ry="1.8" transform="translate(120.6 9.4) rotate(146)"/><ellipse rx="3" ry="1.9" transform="translate(106.7 16.3) rotate(59)"/><ellipse rx="2.9" ry="2" transform="translate(129.8 87.7) rotate(148)" opacity=".6"/><ellipse rx="3.1" ry="1.6" transform="translate(143 103) rotate(136)"/><ellipse rx="2.6" ry="1.5" transform="translate(146.9 66.3) rotate(32)"/><ellipse rx="2.8" ry="2.2" transform="translate(142.1 15.5) rotate(70)"/><ellipse rx="3.3" ry="2.1" transform="translate(100.1 8.3) rotate(126)"/><ellipse rx="3.4" ry="2.1" transform="translate(139.1 74.4) rotate(61)" opacity=".5"/><ellipse rx="2.4" ry="2.1" transform="translate(126 32.5) rotate(140)"/><ellipse rx="2.3" ry="1.8" transform="translate(138.9 93.3) rotate(95)"/><ellipse rx="2.9" ry="1.6" transform="translate(127.8 12.5) rotate(38)"/><ellipse rx="3.1" ry="2" transform="translate(140.5 79.5) rotate(125)" opacity=".5"/><ellipse rx="2.6" ry="1.6" transform="translate(127.2 76) rotate(122)"/><ellipse rx="3.2" ry="1.7" transform="translate(134.9 18) rotate(110)"/><ellipse rx="2.4" ry="1.9" transform="translate(121.1 101.5) rotate(138)"/><ellipse rx="3" ry="2.2" transform="translate(134.8 27) rotate(142)" opacity=".5"/><ellipse rx="2.8" ry="1.8" transform="translate(117.2 23) rotate(122)" opacity=".5"/><ellipse rx="3.3" ry="1.9" transform="translate(113.9 84.9) rotate(115)"/><ellipse rx="2.3" ry="2.2" transform="translate(121.5 26.3) rotate(46)"/><ellipse rx="2.4" ry="1.5" transform="translate(111.3 25.4) rotate(23)" opacity=".4"/><ellipse rx="2.9" ry="1.5" transform="translate(145.3 11.8) rotate(69)" opacity=".6"/><ellipse rx="3.4" ry="1.9" transform="translate(132.1 74.5) rotate(156)"/><ellipse rx="2.6" ry="2.2" transform="translate(133.9 4.1) rotate(46)"/><ellipse rx="2.4" ry="1.6" transform="translate(144.8 43) rotate(142)" opacity=".6"/><ellipse rx="3.1" ry="2" transform="translate(106.8 21) rotate(66)"/><ellipse rx="3.3" ry="1.7" transform="translate(143.7 94) rotate(34)" opacity=".6"/><ellipse rx="3.1" ry="1.8" transform="translate(142.9 36.5) rotate(147)"/><ellipse rx="3" ry="1.6" transform="translate(107.7 77.5) rotate(101)" opacity=".7"/><ellipse rx="2.6" ry="1.9" transform="translate(121.9 17.2) rotate(175)" opacity=".4"/><ellipse rx="2.4" ry="2" transform="translate(146.7 22.1) rotate(105)" opacity=".8"/><ellipse rx="3" ry="1.8" transform="translate(115.8 96) rotate(62)" opacity=".7"/><ellipse rx="3.1" ry="1.6" transform="translate(126.5 98.8) rotate(55)"/><ellipse rx="3.2" ry="2.1" transform="translate(146.8 78.1) rotate(105)"/><ellipse rx="3.2" ry="1.8" transform="translate(120.7 89.9) rotate(158)" opacity=".5"/><ellipse rx="3.1" ry="2" transform="translate(117.1 60.5) rotate(108)"/><ellipse rx="2.3" ry="1.9" transform="translate(103.5 83.4) rotate(149)"/><ellipse rx="2.5" ry="1.7" transform="translate(120.2 35.1) rotate(94)"/><ellipse rx="2.6" ry="2.2" transform="translate(134.4 23.3) rotate(141)" opacity=".6"/><ellipse rx="3.3" ry="2.2" transform="translate(100 100.1) rotate(38)"/><ellipse rx="3.5" ry="2.1" transform="translate(146.6 5.4) rotate(92)" opacity=".8"/><ellipse rx="2.9" ry="2.2" transform="translate(145.6 85.6) rotate(68)"/><ellipse rx="2.4" ry="1.8" transform="translate(134.8 94.3) rotate(16)"/><ellipse rx="3" ry="1.9" transform="translate(130.1 33.3) rotate(63)" opacity=".8"/><ellipse rx="3.1" ry="2.2" transform="translate(142.7 26.2) rotate(80)" opacity=".7"/><ellipse rx="2.6" ry="1.9" transform="translate(133.5 69.8) rotate(28)"/><ellipse rx="2.9" ry="1.7" transform="translate(109.7 85.8) rotate(106)"/><ellipse rx="3.2" ry="2.1" transform="translate(132.1 54.3) rotate(111)"/><ellipse rx="3.1" ry="2" transform="translate(120.8 106.4) rotate(104)" opacity=".5"/><ellipse rx="2.6" ry="1.9" transform="translate(132.2 39.5) rotate(82)" opacity=".5"/><ellipse rx="2.6" ry="2.1" transform="translate(112.5 105.3) rotate(16)"/><ellipse rx="2.9" ry="2" transform="translate(115 27) rotate(18)" opacity=".6"/><ellipse rx="2.3" ry="1.9" transform="translate(126.2 105.1) rotate(75)"/><ellipse rx="2.6" ry="2.2" transform="translate(141.5 47.3) rotate(39)"/><ellipse rx="2.4" ry="2.1" transform="translate(122.2 67.1) rotate(34)"/><ellipse rx="3.2" ry="2" transform="translate(24.5 70.1) rotate(113)" opacity=".7"/><ellipse rx="2.3" ry="1.5" transform="translate(11.6 66.3) rotate(178)"/><ellipse rx="2.8" ry="1.8" transform="translate(67.7 83.5) rotate(56)" opacity=".7"/><ellipse rx="2.4" ry="2.2" transform="translate(79.8 100.3) rotate(43)"/><ellipse rx="2.6" ry="2" transform="translate(34.2 64.7) rotate(123)"/><ellipse rx="2.3" ry="1.8" transform="translate(35 95.9) rotate(160)"/><ellipse rx="2.7" ry="2" transform="translate(27.7 81.1) rotate(85)"/><ellipse rx="2.9" ry="1.8" transform="translate(62.1 80.9) rotate(135)" opacity=".6"/><ellipse rx="2.2" ry="2.1" transform="translate(66 67.2) rotate(2)"/><ellipse rx="3.5" ry="2.1" transform="translate(25.1 89.8) rotate(128)"/><ellipse rx="3.4" ry="1.9" transform="translate(23.5 107.8) rotate(106)"/></g><filter id="fh31" filterUnits="userSpaceOnUse" x="-2" y="-2" width="152" height="114" color-interpolation-filters="sRGB"><feGaussianBlur in="SourceGraphic" stdDeviation=".9"/><feColorMatrix type="luminanceToAlpha" result="d"/><feTurbulence type="fractalNoise" baseFrequency=".33" numOctaves="2" seed="45" result="n"/><feColorMatrix in="n" type="matrix" values="0 0 0 0 .9 0 0 0 0 .1 0 0 0 0 .1 1 0 0 0 0" result="na"/><feComposite in="na" in2="d" operator="in"/><feComponentTransfer><feFuncA type="linear" slope="7" intercept="-3.4"/></feComponentTransfer><feGaussianBlur stdDeviation=".7"/><feComponentTransfer><feFuncA type="linear" slope="1.8" intercept="0"/></feComponentTransfer></filter><g filter="url(#fh31)"><rect x="-2" y="-2" width="152" height="114" fill="#000"/><circle cx="64.6" cy="10" r="4.8" fill="#ffffff"/><polyline points="3.1,35.4 15.4,37.7 35.4,42.3" fill="none" stroke="#f6f6f6" stroke-width="7.1" stroke-linecap="round" stroke-linejoin="round"/><circle cx="47.7" cy="24.6" r="3" fill="#f6f6f6"/><polyline points="73.9,30.8 77,44.6 80,55.4" fill="none" stroke="#f2f2f2" stroke-width="6.2" stroke-linecap="round" stroke-linejoin="round"/><polyline points="80,18.5 92.4,27.7 106.2,34.6" fill="none" stroke="#f2f2f2" stroke-width="5.4" stroke-linecap="round" stroke-linejoin="round"/><polyline points="113.9,57 115.4,64.6 118.5,72.3" fill="none" stroke="#ffffff" stroke-width="7.1" stroke-linecap="round" stroke-linejoin="round"/><circle cx="135.5" cy="73.9" r="3.4" fill="#fbfbfb"/><polyline points="140.1,35.4 146.2,47.7" fill="none" stroke="#f6f6f6" stroke-width="3.7" stroke-linecap="round" stroke-linejoin="round"/><polygon points="98.5,83.1 135.5,80 138.5,109 95.4,109" fill="#dedede"/><circle cx="3.8" cy="66.2" r="2.6" fill="#f6f6f6"/><polyline points="106.2,21.5 110.8,27.7" fill="none" stroke="#f2f2f2" stroke-width="3.3" stroke-linecap="round" stroke-linejoin="round"/><polyline points="35.4,6.2 43.1,13.9" fill="none" stroke="#e5e5e5" stroke-width="4.2" stroke-linecap="round" stroke-linejoin="round"/></g><g opacity=".13" filter="url(#blur2)"><circle cx="64.6" cy="10" r="5.2" fill="#c8101c"/><polyline points="3.1,35.4 15.4,37.7 35.4,42.3" fill="none" stroke="#c8101c" stroke-width="7.9" stroke-linecap="round" stroke-linejoin="round"/><circle cx="47.7" cy="24.6" r="3.2" fill="#c8101c"/><polyline points="73.9,30.8 77,44.6 80,55.4" fill="none" stroke="#c8101c" stroke-width="6.9" stroke-linecap="round" stroke-linejoin="round"/><polyline points="80,18.5 92.4,27.7 106.2,34.6" fill="none" stroke="#c8101c" stroke-width="6" stroke-linecap="round" stroke-linejoin="round"/><polyline points="113.9,57 115.4,64.6 118.5,72.3" fill="none" stroke="#c8101c" stroke-width="7.9" stroke-linecap="round" stroke-linejoin="round"/><circle cx="135.5" cy="73.9" r="3.6" fill="#c8101c"/><polyline points="140.1,35.4 146.2,47.7" fill="none" stroke="#c8101c" stroke-width="4.2" stroke-linecap="round" stroke-linejoin="round"/><circle cx="3.8" cy="66.2" r="2.8" fill="#c8101c"/><polyline points="106.2,21.5 110.8,27.7" fill="none" stroke="#c8101c" stroke-width="3.7" stroke-linecap="round" stroke-linejoin="round"/></g></g>
<clipPath id="cp32"><rect x="-.3" y="-.2" width="146.3" height="109.7"/></clipPath><g transform="translate(344,833)" clip-path="url(#cp32)"><rect x="-2" y="-2" width="152" height="114" fill="#03010f"/><g fill="#1416ee" opacity=".9" filter="url(#blurN)"><ellipse rx="3.1" ry="2" transform="translate(22.2 40.3) rotate(162)"/><ellipse rx="2.6" ry="2" transform="translate(46.1 15.3) rotate(38)"/><ellipse rx="2.7" ry="1.9" transform="translate(20.9 21.9) rotate(176)" opacity=".7"/><ellipse rx="2.9" ry="1.9" transform="translate(44.1 10.2) rotate(102)"/><ellipse rx="2.9" ry="1.9" transform="translate(11.7 52.3) rotate(31)" opacity=".7"/><ellipse rx="2.7" ry="1.8" transform="translate(8.2 43.6) rotate(83)"/><ellipse rx="2.8" ry="1.6" transform="translate(63.5 5.6) rotate(78)"/><ellipse rx="2.4" ry="1.7" transform="translate(18.6 32.2) rotate(129)"/><ellipse rx="2.9" ry="2" transform="translate(8.4 3.2) rotate(75)" opacity=".5"/><ellipse rx="2.5" ry="1.8" transform="translate(8.6 30.3) rotate(96)" opacity=".6"/><ellipse rx="2.2" ry="1.9" transform="translate(42.9 4.3) rotate(117)" opacity=".6"/><ellipse rx="3.4" ry="1.6" transform="translate(6.1 22.6) rotate(134)" opacity=".5"/><ellipse rx="2.2" ry="1.9" transform="translate(60.4 13.4) rotate(118)"/><ellipse rx="2.4" ry="1.5" transform="translate(7.2 12.9) rotate(95)" opacity=".8"/><ellipse rx="2.3" ry="1.9" transform="translate(2 17.8) rotate(123)" opacity=".4"/><ellipse rx="3.2" ry="1.5" transform="translate(6.2 40) rotate(69)" opacity=".6"/><ellipse rx="2.7" ry="1.9" transform="translate(25.5 35.8) rotate(105)"/><ellipse rx="2.7" ry="1.6" transform="translate(33.9 9.7) rotate(149)" opacity=".8"/><ellipse rx="3" ry="1.6" transform="translate(39.4 13.8) rotate(92)" opacity=".6"/><ellipse rx="2.7" ry="2" transform="translate(13.3 31.6) rotate(0)" opacity=".6"/><ellipse rx="2.8" ry="1.6" transform="translate(33.6 28) rotate(70)"/><ellipse rx="3" ry="2" transform="translate(1.2 42.4) rotate(110)"/><ellipse rx="3" ry="1.6" transform="translate(17 38.1) rotate(91)"/><ellipse rx="2.8" ry="2" transform="translate(19.9 4.5) rotate(33)" opacity=".8"/><ellipse rx="3" ry="1.7" transform="translate(12.6 44.2) rotate(111)" opacity=".5"/><ellipse rx="2.5" ry="2" transform="translate(1.4 34.1) rotate(179)"/><ellipse rx="3.2" ry="1.6" transform="translate(9.6 7) rotate(171)"/><ellipse rx="3.2" ry="1.7" transform="translate(15.6 47.9) rotate(141)"/><ellipse rx="3" ry="1.5" transform="translate(19.7 45.4) rotate(77)"/><ellipse rx="2.6" ry="1.6" transform="translate(32.3 4.6) rotate(73)"/><ellipse rx="2.7" ry="2" transform="translate(17.3 27.3) rotate(98)"/><ellipse rx="3" ry="1.5" transform="translate(46.1 .8) rotate(20)" opacity=".4"/><ellipse rx="3.3" ry="1.7" transform="translate(37.3 4.9) rotate(148)" opacity=".7"/><ellipse rx="3.2" ry="1.6" transform="translate(55.8 13.7) rotate(90)" opacity=".8"/><ellipse rx="2.6" ry="2.1" transform="translate(48.7 6.5) rotate(90)" opacity=".7"/><ellipse rx="3.1" ry="1.9" transform="translate(16.5 14.4) rotate(31)"/><ellipse rx="3.4" ry="1.8" transform="translate(38.2 22.3) rotate(141)"/><ellipse rx="2.3" ry="1.8" transform="translate(60 .7) rotate(39)"/><ellipse rx="2.4" ry="2" transform="translate(68.3 1.7) rotate(133)"/><ellipse rx="2.6" ry="1.6" transform="translate(21.6 26.3) rotate(156)" opacity=".4"/><ellipse rx="3.3" ry="2" transform="translate(2.5 27.5) rotate(142)" opacity=".4"/><ellipse rx="2.4" ry="1.8" transform="translate(8.8 16.9) rotate(86)"/><ellipse rx="2.3" ry="1.8" transform="translate(24.4 18.7) rotate(1)"/><ellipse rx="3" ry="2" transform="translate(29.8 33.5) rotate(3)" opacity=".6"/><ellipse rx="3.1" ry="2" transform="translate(67.7 6.4) rotate(95)"/><ellipse rx="2.6" ry="1.5" transform="translate(56.5 7.9) rotate(119)" opacity=".5"/><ellipse rx="3.1" ry="1.8" transform="translate(27.4 7.4) rotate(113)" opacity=".5"/><ellipse rx="2.8" ry="1.8" transform="translate(.5 4.7) rotate(6)" opacity=".5"/><ellipse rx="2.4" ry="2" transform="translate(52.6 10.3) rotate(118)"/><ellipse rx="3.4" ry="1.7" transform="translate(10.3 23.9) rotate(18)"/><ellipse rx="2.2" ry="1.8" transform="translate(33.4 21.6) rotate(31)"/><ellipse rx="2.7" ry="1.5" transform="translate(26.6 31) rotate(141)" opacity=".6"/><ellipse rx="2.9" ry="1.8" transform="translate(54.8 1.1) rotate(120)"/><ellipse rx="2.7" ry="1.9" transform="translate(20.8 18) rotate(158)"/><ellipse rx="3" ry="1.9" transform="translate(14.8 1.9) rotate(58)" opacity=".6"/><ellipse rx="2.6" ry="1.8" transform="translate(9.9 36.5) rotate(34)"/><ellipse rx="3.2" ry="1.9" transform="translate(28.8 44.6) rotate(15)" opacity=".5"/><ellipse rx="2.3" ry="1.5" transform="translate(35.1 43.6) rotate(-10)" opacity=".6"/><ellipse rx="2.6" ry="1.8" transform="translate(38.8 44.6) rotate(-20)"/><ellipse rx="2.5" ry="2.1" transform="translate(41.4 46.6) rotate(26)" opacity=".7"/><ellipse rx="3.3" ry="1.9" transform="translate(45.3 47.6) rotate(20)" opacity=".5"/><ellipse rx="2.3" ry="1.5" transform="translate(48.6 48.6) rotate(53)" opacity=".5"/><ellipse rx="2.7" ry="1.8" transform="translate(52.5 50.5) rotate(35)"/><ellipse rx="2.2" ry="2" transform="translate(54.7 54.2) rotate(64)" opacity=".6"/><ellipse rx="2.8" ry="1.7" transform="translate(55.9 60.7) rotate(40)"/><ellipse rx="2.9" ry="2.1" transform="translate(59.3 65) rotate(112)" opacity=".7"/><ellipse rx="2.7" ry="1.6" transform="translate(57.1 68) rotate(84)"/><ellipse rx="2.6" ry="1.9" transform="translate(54.1 72.8) rotate(-186)"/><ellipse rx="2.8" ry="2" transform="translate(50.9 70.2) rotate(-152)" opacity=".5"/><ellipse rx="3.2" ry="1.7" transform="translate(47.6 68.7) rotate(-178)" opacity=".6"/><ellipse rx="2.4" ry="1.5" transform="translate(42 68.4) rotate(172)" opacity=".6"/><ellipse rx="3.4" ry="1.7" transform="translate(39 72.3) rotate(191)" opacity=".6"/><ellipse rx="2.5" ry="1.7" transform="translate(34.4 72.3) rotate(-172)" opacity=".5"/><ellipse rx="3.2" ry="2.1" transform="translate(30.6 68.1) rotate(-187)" opacity=".7"/><ellipse rx="3.3" ry="1.8" transform="translate(26.9 70.4) rotate(-159)"/><ellipse rx="2.4" ry="1.7" transform="translate(19.6 69.5) rotate(-152)"/><ellipse rx="2.4" ry="1.9" transform="translate(21.3 64.9) rotate(-73)"/><ellipse rx="2.3" ry="1.9" transform="translate(22.4 60.9) rotate(-82)" opacity=".7"/><ellipse rx="2.3" ry="2" transform="translate(21.6 56.8) rotate(-51)"/><ellipse rx="3.1" ry="1.7" transform="translate(24.9 51.4) rotate(-77)" opacity=".7"/><ellipse rx="3.3" ry="1.7" transform="translate(49.5 64) rotate(22)"/><ellipse rx="2.7" ry="1.8" transform="translate(41.9 83.4) rotate(113)" opacity=".6"/><ellipse rx="3" ry="1.5" transform="translate(54.7 84) rotate(32)" opacity=".8"/><ellipse rx="2.6" ry="1.9" transform="translate(40.3 77) rotate(137)"/><ellipse rx="3" ry="2" transform="translate(45.4 74.7) rotate(95)" opacity=".6"/><ellipse rx="3.2" ry="2" transform="translate(45.6 84.1) rotate(135)" opacity=".7"/><ellipse rx="2.4" ry="1.7" transform="translate(52.3 77.5) rotate(169)"/><ellipse rx="2.5" ry="2" transform="translate(36.5 66.4) rotate(3)"/><ellipse rx="2.7" ry="1.5" transform="translate(50.3 73.9) rotate(45)"/><ellipse rx="3.2" ry="2" transform="translate(43.5 80) rotate(136)"/><ellipse rx="2.2" ry="1.9" transform="translate(48.4 80.2) rotate(0)" opacity=".5"/><ellipse rx="3.4" ry="1.6" transform="translate(54.8 64.9) rotate(169)"/><ellipse rx="3.1" ry="1.6" transform="translate(59.8 83.6) rotate(15)" opacity=".6"/><ellipse rx="2.5" ry="1.6" transform="translate(93.8 9.5) rotate(33)"/><ellipse rx="2.3" ry="2.1" transform="translate(98 9.6) rotate(27)" opacity=".6"/><ellipse rx="2.8" ry="1.6" transform="translate(99.9 11.9) rotate(32)" opacity=".8"/><ellipse rx="3.2" ry="1.9" transform="translate(103.2 12.4) rotate(14)" opacity=".6"/><ellipse rx="2.3" ry="1.7" transform="translate(105.9 14.9) rotate(74)" opacity=".4"/><ellipse rx="3.4" ry="1.8" transform="translate(111.6 16.1) rotate(75)" opacity=".4"/><ellipse rx="2.8" ry="1.9" transform="translate(115.7 17.5) rotate(50)"/><ellipse rx="3" ry="1.6" transform="translate(114.9 21.9) rotate(88)"/><ellipse rx="2.4" ry="2" transform="translate(108.8 25.6) rotate(92)"/><ellipse rx="3.2" ry="1.5" transform="translate(112.6 31) rotate(92)"/><ellipse rx="2.7" ry="1.8" transform="translate(107.1 32.5) rotate(149)"/><ellipse rx="2.5" ry="1.5" transform="translate(103.6 33.5) rotate(145)" opacity=".4"/><ellipse rx="3.2" ry="1.7" transform="translate(100.1 34.8) rotate(136)" opacity=".8"/><ellipse rx="2.5" ry="1.9" transform="translate(98.8 38.5) rotate(167)" opacity=".6"/><ellipse rx="2.6" ry="1.8" transform="translate(96 40.8) rotate(111)"/><ellipse rx="2.5" ry="1.9" transform="translate(97.5 44.5) rotate(131)" opacity=".6"/><ellipse rx="2.8" ry="1.7" transform="translate(93.9 46.2) rotate(121)"/><ellipse rx="2.9" ry="1.5" transform="translate(92.5 49.8) rotate(120)"/><ellipse rx="3.1" ry="1.7" transform="translate(99.7 52.3) rotate(42)"/><ellipse rx="2.4" ry="1.8" transform="translate(96.7 58) rotate(50)" opacity=".5"/><ellipse rx="2.4" ry="1.5" transform="translate(99.3 61.4) rotate(49)"/><ellipse rx="3.1" ry="2" transform="translate(102.3 62.3) rotate(21)" opacity=".7"/><ellipse rx="2.4" ry="2.1" transform="translate(105 64) rotate(33)" opacity=".8"/><ellipse rx="3" ry="1.5" transform="translate(110.2 66) rotate(58)"/><ellipse rx="2.9" ry="2.1" transform="translate(107.4 72) rotate(61)" opacity=".6"/><ellipse rx="2.9" ry="1.5" transform="translate(112 72.9) rotate(57)"/><ellipse rx="2.2" ry="1.5" transform="translate(113 76.8) rotate(74)" opacity=".4"/><ellipse rx="2.4" ry="1.9" transform="translate(114.3 80.5) rotate(56)" opacity=".5"/><ellipse rx="3.2" ry="1.6" transform="translate(109.9 82.9) rotate(84)"/><ellipse rx="2.4" ry="1.9" transform="translate(120.5 86.7) rotate(103)"/><ellipse rx="2.6" ry="1.8" transform="translate(117.2 90.4) rotate(85)" opacity=".6"/><ellipse rx="3.3" ry="2.1" transform="translate(114.6 94.5) rotate(98)"/><ellipse rx="2.8" ry="1.8" transform="translate(116.9 97.4) rotate(104)"/><ellipse rx="2.9" ry="1.6" transform="translate(112.1 100.7) rotate(64)"/><ellipse rx="2.7" ry="1.5" transform="translate(118 104.1) rotate(69)" opacity=".7"/><ellipse rx="3" ry="1.5" transform="translate(110.4 33.2) rotate(33)" opacity=".6"/><ellipse rx="2.7" ry="1.7" transform="translate(118.7 26.3) rotate(50)"/><ellipse rx="2.6" ry="1.7" transform="translate(117 33.5) rotate(13)"/><ellipse rx="3.4" ry="1.6" transform="translate(121.3 36) rotate(36)"/><ellipse rx="2.5" ry="1.8" transform="translate(124.7 36.3) rotate(27)"/><ellipse rx="2.5" ry="2" transform="translate(126.3 39) rotate(23)" opacity=".7"/><ellipse rx="2.9" ry="2.1" transform="translate(128.1 44.4) rotate(55)"/><ellipse rx="2.5" ry="1.7" transform="translate(130 47.6) rotate(49)" opacity=".8"/><ellipse rx="3.4" ry="1.8" transform="translate(135.6 43.7) rotate(36)"/><ellipse rx="3.2" ry="1.7" transform="translate(138.3 47.5) rotate(72)"/><ellipse rx="2.3" ry="1.8" transform="translate(139.9 50.9) rotate(66)"/><ellipse rx="2.3" ry="1.7" transform="translate(139.5 54.4) rotate(62)" opacity=".5"/><ellipse rx="2.9" ry="1.6" transform="translate(140.2 57.6) rotate(33)"/><ellipse rx="3" ry="1.5" transform="translate(135.2 19.1) rotate(153)"/><ellipse rx="2.4" ry="2" transform="translate(145.6 28.1) rotate(179)" opacity=".4"/><ellipse rx="3" ry="1.9" transform="translate(129.1 29.6) rotate(113)"/><ellipse rx="2.7" ry="1.9" transform="translate(126.2 1.5) rotate(178)"/><ellipse rx="2.5" ry="1.7" transform="translate(126.7 12.7) rotate(140)" opacity=".8"/><ellipse rx="3.2" ry="1.7" transform="translate(144.9 4.2) rotate(56)" opacity=".8"/><ellipse rx="3.3" ry="1.8" transform="translate(114 11.3) rotate(30)" opacity=".8"/><ellipse rx="2.4" ry="1.9" transform="translate(114.4 4.6) rotate(11)"/><ellipse rx="2.6" ry="1.6" transform="translate(130.4 13.9) rotate(78)"/><ellipse rx="3.1" ry="1.5" transform="translate(132.6 27.8) rotate(78)"/><ellipse rx="3.4" ry="1.8" transform="translate(144.5 17.1) rotate(108)"/><ellipse rx="2.5" ry="1.5" transform="translate(137 4.9) rotate(21)" opacity=".7"/><ellipse rx="2.2" ry="1.6" transform="translate(135.2 8.3) rotate(80)"/><ellipse rx="2.3" ry="1.8" transform="translate(145.7 22.1) rotate(31)" opacity=".5"/><ellipse rx="3.4" ry="1.7" transform="translate(131.7 24.2) rotate(52)"/><ellipse rx="2.6" ry="1.5" transform="translate(138.2 22.4) rotate(2)"/><ellipse rx="2.9" ry="1.9" transform="translate(110.3 1.4) rotate(138)"/><ellipse rx="2.5" ry="1.6" transform="translate(126.2 23.3) rotate(119)"/><ellipse rx="2.4" ry="1.9" transform="translate(139.9 1) rotate(146)" opacity=".8"/><ellipse rx="2.5" ry="1.6" transform="translate(139.3 32.1) rotate(114)"/><ellipse rx="2.4" ry="1.8" transform="translate(140.1 14.3) rotate(15)"/><ellipse rx="3.3" ry="1.5" transform="translate(116.3 .7) rotate(69)" opacity=".7"/><ellipse rx="2.4" ry="1.7" transform="translate(143.2 33.9) rotate(100)"/><ellipse rx="2.9" ry="2" transform="translate(124.9 26.7) rotate(4)" opacity=".6"/><ellipse rx="2.6" ry="1.8" transform="translate(14.2 100.3) rotate(69)" opacity=".7"/><ellipse rx="2.8" ry="1.5" transform="translate(19.9 107.6) rotate(121)"/><ellipse rx="2.4" ry="1.7" transform="translate(5.2 102.3) rotate(96)"/><ellipse rx="3.1" ry="1.7" transform="translate(3.1 66.2) rotate(88)" opacity=".5"/><ellipse rx="3" ry="1.7" transform="translate(18.2 79.5) rotate(31)" opacity=".4"/><ellipse rx="2.9" ry="2.1" transform="translate(25.9 90.3) rotate(118)"/><ellipse rx="3.1" ry="2" transform="translate(5.5 84.7) rotate(68)"/><ellipse rx="2.3" ry="2.1" transform="translate(11.9 83) rotate(165)"/><ellipse rx="2.3" ry="2.1" transform="translate(13.3 93) rotate(179)" opacity=".6"/><ellipse rx="2.9" ry="1.7" transform="translate(10.5 86.4) rotate(45)"/><ellipse rx="2.5" ry="1.5" transform="translate(.6 78.2) rotate(27)"/><ellipse rx="2.5" ry="2.1" transform="translate(79.1 25.3) rotate(19)" opacity=".7"/><ellipse rx="3" ry="1.8" transform="translate(65.8 48.9) rotate(27)" opacity=".6"/><ellipse rx="2.4" ry="1.5" transform="translate(86.2 94) rotate(150)" opacity=".5"/><ellipse rx="2.9" ry="1.7" transform="translate(57.1 75.5) rotate(160)"/><ellipse rx="3.2" ry="2" transform="translate(85.2 70.5) rotate(96)"/><ellipse rx="2.6" ry="1.9" transform="translate(82.9 66.4) rotate(84)" opacity=".4"/><ellipse rx="3.1" ry="1.9" transform="translate(75.3 92.7) rotate(160)"/><ellipse rx="3.2" ry="1.6" transform="translate(55.3 93.1) rotate(59)"/><ellipse rx="2.9" ry="1.5" transform="translate(59.2 44.7) rotate(71)" opacity=".5"/><ellipse rx="3.3" ry="2" transform="translate(67.6 80.4) rotate(158)"/><ellipse rx="2.4" ry="1.5" transform="translate(86.9 105.2) rotate(8)"/><ellipse rx="2.2" ry="1.5" transform="translate(87.3 55) rotate(11)" opacity=".6"/><ellipse rx="3.2" ry="1.8" transform="translate(41.6 106) rotate(-5)" opacity=".7"/><ellipse rx="2.5" ry="1.6" transform="translate(49.1 107.6) rotate(30)"/><ellipse rx="2.7" ry="2.1" transform="translate(56.1 106.3) rotate(7)" opacity=".8"/><ellipse rx="2.6" ry="1.8" transform="translate(64.9 107) rotate(17)"/><ellipse rx="3.1" ry="1.7" transform="translate(132.7 77.6) rotate(81)" opacity=".7"/><ellipse rx="3.3" ry="1.9" transform="translate(131.8 89.8) rotate(57)"/><ellipse rx="3.3" ry="1.9" transform="translate(126.1 101.9) rotate(56)" opacity=".7"/><ellipse rx="3" ry="1.5" transform="translate(142.7 87.4) rotate(166)"/><ellipse rx="3.2" ry="2.1" transform="translate(137.9 74.6) rotate(47)" opacity=".4"/><ellipse rx="3" ry="1.9" transform="translate(131.3 71.9) rotate(55)"/></g><filter id="fh32" filterUnits="userSpaceOnUse" x="-2" y="-2" width="152" height="114" color-interpolation-filters="sRGB"><feGaussianBlur in="SourceGraphic" stdDeviation=".9"/><feColorMatrix type="luminanceToAlpha" result="d"/><feTurbulence type="fractalNoise" baseFrequency=".33" numOctaves="2" seed="48" result="n"/><feColorMatrix in="n" type="matrix" values="0 0 0 0 .9 0 0 0 0 .1 0 0 0 0 .1 1 0 0 0 0" result="na"/><feComposite in="na" in2="d" operator="in"/><feComponentTransfer><feFuncA type="linear" slope="7" intercept="-3.4"/></feComponentTransfer><feGaussianBlur stdDeviation=".7"/><feComponentTransfer><feFuncA type="linear" slope="1.8" intercept="0"/></feComponentTransfer></filter><g filter="url(#fh32)"><rect x="-2" y="-2" width="152" height="114" fill="#000"/><circle cx="4.6" cy="21.4" r="4.1" fill="#fbfbfb"/><polyline points="35.9,4.6 32.9,16.8 28.3,28.3" fill="none" stroke="#f6f6f6" stroke-width="4.5" stroke-linecap="round" stroke-linejoin="round"/><circle cx="28.3" cy="45.9" r="3.7" fill="#f6f6f6"/><circle cx="48.9" cy="79.5" r="6.7" fill="#ffffff"/><polyline points="18.3,68.8 33.6,68 45.9,68.8" fill="none" stroke="#f6f6f6" stroke-width="3.7" stroke-linecap="round" stroke-linejoin="round"/><circle cx="136.1" cy="47.7" r="4.8" fill="#ffffff"/><polyline points="94.8,38.2 100.9,33.6" fill="none" stroke="#f2f2f2" stroke-width="3.3" stroke-linecap="round" stroke-linejoin="round"/><circle cx="113.1" cy="85.6" r="3.3" fill="#f6f6f6"/><circle cx="9.9" cy="97.8" r="3" fill="#fbfbfb"/><polyline points="126.9,6.1 131.5,13.8" fill="none" stroke="#f2f2f2" stroke-width="3.7" stroke-linecap="round" stroke-linejoin="round"/><polyline points="16.8,73.4 22.9,61.2" fill="none" stroke="#eeeeee" stroke-width="2.9" stroke-linecap="round" stroke-linejoin="round"/><polyline points="62.7,7.6 67.3,9.2" fill="none" stroke="#eeeeee" stroke-width="2.5" stroke-linecap="round" stroke-linejoin="round"/></g><g opacity=".13" filter="url(#blur2)"><circle cx="4.6" cy="21.4" r="4.4" fill="#c8101c"/><polyline points="35.9,4.6 32.9,16.8 28.3,28.3" fill="none" stroke="#c8101c" stroke-width="5" stroke-linecap="round" stroke-linejoin="round"/><circle cx="28.3" cy="45.9" r="4" fill="#c8101c"/><circle cx="48.9" cy="79.5" r="7.2" fill="#c8101c"/><polyline points="18.3,68.8 33.6,68 45.9,68.8" fill="none" stroke="#c8101c" stroke-width="4.1" stroke-linecap="round" stroke-linejoin="round"/><circle cx="136.1" cy="47.7" r="5.2" fill="#c8101c"/><polyline points="94.8,38.2 100.9,33.6" fill="none" stroke="#c8101c" stroke-width="3.7" stroke-linecap="round" stroke-linejoin="round"/><circle cx="113.1" cy="85.6" r="3.6" fill="#c8101c"/><circle cx="9.9" cy="97.8" r="3.2" fill="#c8101c"/><polyline points="126.9,6.1 131.5,13.8" fill="none" stroke="#c8101c" stroke-width="4.1" stroke-linecap="round" stroke-linejoin="round"/><polyline points="16.8,73.4 22.9,61.2" fill="none" stroke="#c8101c" stroke-width="3.2" stroke-linecap="round" stroke-linejoin="round"/><polyline points="62.7,7.6 67.3,9.2" fill="none" stroke="#c8101c" stroke-width="2.8" stroke-linecap="round" stroke-linejoin="round"/></g></g>
<clipPath id="cp33"><rect x="0" y="-.2" width="146.5" height="109.7"/></clipPath><g transform="translate(495,833)" clip-path="url(#cp33)"><rect x="-2" y="-2" width="152" height="114" fill="#03010f"/><g fill="#1416ee" opacity=".9" filter="url(#blurN)"><ellipse rx="2.9" ry="1.9" transform="translate(17.7 37.4) rotate(-64)"/><ellipse rx="2.3" ry="1.5" transform="translate(50.2 30.6) rotate(-67)"/><ellipse rx="3.2" ry="2" transform="translate(45.6 55.3) rotate(-47)" opacity=".8"/><ellipse rx="3.3" ry="1.6" transform="translate(70 2.3) rotate(-37)" opacity=".7"/><ellipse rx="2.6" ry="1.9" transform="translate(13.4 16.3) rotate(-50)" opacity=".4"/><ellipse rx="3.1" ry="2" transform="translate(40.9 103.9) rotate(-42)"/><ellipse rx="2.9" ry="1.8" transform="translate(61.2 23) rotate(-72)"/><ellipse rx="2.3" ry="1.9" transform="translate(23.8 58) rotate(-39)" opacity=".6"/><ellipse rx="2.6" ry="1.5" transform="translate(17.2 3) rotate(-18)" opacity=".8"/><ellipse rx="2.4" ry="1.9" transform="translate(79 3.9) rotate(-64)"/><ellipse rx="3.2" ry="1.5" transform="translate(65.8 12.2) rotate(-73)" opacity=".5"/><ellipse rx="2.4" ry="1.5" transform="translate(49.5 2.5) rotate(-41)" opacity=".5"/><ellipse rx="2.9" ry="2.1" transform="translate(15.7 20.4) rotate(-32)"/><ellipse rx="2.7" ry="1.7" transform="translate(20.9 104.3) rotate(-44)" opacity=".5"/><ellipse rx="3.1" ry="1.9" transform="translate(86.9 15.8) rotate(-16)" opacity=".5"/><ellipse rx="2.7" ry="1.6" transform="translate(22.9 29.8) rotate(-57)" opacity=".6"/><ellipse rx="3.2" ry="1.5" transform="translate(40.8 3) rotate(-41)" opacity=".4"/><ellipse rx="2.7" ry="1.6" transform="translate(18.8 61.3) rotate(-15)"/><ellipse rx="2.4" ry="1.7" transform="translate(25.1 86.9) rotate(-46)" opacity=".4"/><ellipse rx="2.5" ry="1.7" transform="translate(87.8 25.7) rotate(-29)"/><ellipse rx="2.4" ry="1.7" transform="translate(16.5 73.3) rotate(-62)" opacity=".7"/><ellipse rx="2.7" ry="1.5" transform="translate(43.5 31.8) rotate(-59)" opacity=".4"/><ellipse rx="3.2" ry="1.7" transform="translate(42 73.5) rotate(-36)"/><ellipse rx="2.9" ry="1.5" transform="translate(17.4 85.9) rotate(-21)" opacity=".4"/><ellipse rx="2.5" ry="2" transform="translate(11.2 105) rotate(-50)"/><ellipse rx="2.3" ry="1.9" transform="translate(38.7 89.1) rotate(-17)" opacity=".7"/><ellipse rx="2.3" ry="2.1" transform="translate(30.9 5.8) rotate(-44)"/><ellipse rx="2.6" ry="2" transform="translate(64.2 32.6) rotate(-36)" opacity=".5"/><ellipse rx="3.1" ry="2.1" transform="translate(32.7 49.5) rotate(-38)" opacity=".8"/><ellipse rx="2.6" ry="1.7" transform="translate(66.4 20.3) rotate(-65)"/><ellipse rx="2.4" ry="2" transform="translate(82.3 16.4) rotate(-46)" opacity=".6"/><ellipse rx="3.1" ry="1.5" transform="translate(33.1 102.1) rotate(-71)" opacity=".7"/><ellipse rx="3.3" ry="1.7" transform="translate(37 102.1) rotate(-65)" opacity=".6"/><ellipse rx="2.5" ry="1.6" transform="translate(70.8 7.3) rotate(-32)" opacity=".7"/><ellipse rx="3.2" ry="2" transform="translate(52.9 47.5) rotate(-45)"/><ellipse rx="2.4" ry="1.5" transform="translate(73.4 23.1) rotate(-31)" opacity=".7"/><ellipse rx="2.4" ry="1.6" transform="translate(49.7 37.2) rotate(-24)" opacity=".6"/><ellipse rx="2.4" ry="1.7" transform="translate(36.9 54.7) rotate(-47)" opacity=".6"/><ellipse rx="2.7" ry="2" transform="translate(46.3 84.1) rotate(-68)"/><ellipse rx="2.9" ry="1.9" transform="translate(39.3 59.5) rotate(-19)"/><ellipse rx="2.4" ry="1.5" transform="translate(83.4 12.3) rotate(-24)" opacity=".5"/><ellipse rx="2.4" ry="1.6" transform="translate(91.1 2.8) rotate(-46)"/><ellipse rx="2.5" ry="2" transform="translate(16.2 101.6) rotate(-62)" opacity=".5"/><ellipse rx="3.2" ry="1.6" transform="translate(74.5 36) rotate(-66)" opacity=".6"/><ellipse rx="2.7" ry="1.7" transform="translate(96.4 7.5) rotate(-29)" opacity=".8"/><ellipse rx="2.9" ry="1.9" transform="translate(49.4 10.9) rotate(-17)" opacity=".5"/><ellipse rx="2.8" ry="2" transform="translate(27.9 21.2) rotate(-56)" opacity=".5"/><ellipse rx="3.2" ry="2" transform="translate(77.3 27.4) rotate(-33)"/><ellipse rx="2.5" ry="1.6" transform="translate(36.4 67.1) rotate(-40)"/><ellipse rx="3.3" ry="1.9" transform="translate(35.4 92.9) rotate(-17)"/><ellipse rx="2.4" ry="1.5" transform="translate(28.7 99.6) rotate(-41)"/><ellipse rx="2.4" ry="1.5" transform="translate(58.2 18.2) rotate(-55)"/><ellipse rx="2.2" ry="1.8" transform="translate(37.1 14.5) rotate(-73)"/><ellipse rx="2.7" ry="1.6" transform="translate(37.3 40.3) rotate(-33)" opacity=".5"/><ellipse rx="3" ry="1.6" transform="translate(24.2 51.7) rotate(-68)" opacity=".6"/><ellipse rx="2.5" ry="1.7" transform="translate(56 92.3) rotate(-33)"/><ellipse rx="2.3" ry="2.1" transform="translate(42.9 89.1) rotate(-53)" opacity=".6"/><ellipse rx="2.6" ry="1.8" transform="translate(21.9 84.7) rotate(-47)" opacity=".5"/><ellipse rx="3.2" ry="1.9" transform="translate(86.9 5.6) rotate(-43)" opacity=".6"/><ellipse rx="2.9" ry="1.6" transform="translate(82.3 32.8) rotate(-33)"/><ellipse rx="3.1" ry="1.7" transform="translate(72.3 29.1) rotate(-49)" opacity=".8"/><ellipse rx="2.8" ry="2" transform="translate(14.3 76.8) rotate(-71)"/><ellipse rx="2.9" ry="1.6" transform="translate(11.8 11) rotate(-46)"/><ellipse rx="2.9" ry="1.9" transform="translate(54.5 3.8) rotate(-58)"/><ellipse rx="3.4" ry="1.9" transform="translate(26.6 26.1) rotate(-28)" opacity=".7"/><ellipse rx="2.3" ry="2" transform="translate(24.5 76.3) rotate(-52)"/><ellipse rx="2.4" ry="2" transform="translate(16.1 106.7) rotate(-42)"/><ellipse rx="2.3" ry="1.7" transform="translate(67.3 5.7) rotate(-40)" opacity=".5"/><ellipse rx="3" ry="1.6" transform="translate(54.2 25.4) rotate(-55)"/><ellipse rx="2.3" ry="1.8" transform="translate(49.8 101) rotate(-33)" opacity=".8"/><ellipse rx="3.4" ry="1.9" transform="translate(14.2 62.9) rotate(-19)" opacity=".8"/><ellipse rx="2.4" ry="1.5" transform="translate(47.7 94) rotate(-70)"/><ellipse rx="2.9" ry="1.8" transform="translate(21.3 88.3) rotate(-66)" opacity=".5"/><ellipse rx="2.3" ry="2.1" transform="translate(93.7 29) rotate(-36)"/><ellipse rx="3" ry="1.5" transform="translate(14.4 69.4) rotate(-52)"/><ellipse rx="2.2" ry="2" transform="translate(51.9 19.9) rotate(-73)" opacity=".8"/><ellipse rx="2.3" ry="1.6" transform="translate(71.2 13.6) rotate(-18)" opacity=".4"/><ellipse rx="3.1" ry="2" transform="translate(48.7 16.4) rotate(-27)"/><ellipse rx="2.5" ry="1.5" transform="translate(60.2 15.1) rotate(-15)"/><ellipse rx="2.8" ry="1.7" transform="translate(29.2 41.3) rotate(-25)"/><ellipse rx="2.8" ry="2.1" transform="translate(22.3 17.9) rotate(-47)"/><ellipse rx="3.2" ry="1.7" transform="translate(56.3 102.4) rotate(-59)"/><ellipse rx="2.2" ry="1.5" transform="translate(7.5 97.9) rotate(-53)"/><ellipse rx="2.5" ry="1.6" transform="translate(33.7 15.6) rotate(-70)" opacity=".8"/><ellipse rx="2.8" ry="1.6" transform="translate(41.9 39.4) rotate(-20)"/><ellipse rx="2.6" ry="1.9" transform="translate(19.3 91.7) rotate(-44)"/><ellipse rx="2.4" ry="2" transform="translate(46.4 78) rotate(-15)" opacity=".4"/><ellipse rx="3.3" ry="1.6" transform="translate(21.7 79) rotate(-31)" opacity=".6"/><ellipse rx="2.7" ry="2" transform="translate(78 20.5) rotate(-17)"/><ellipse rx="3" ry="2" transform="translate(42.4 26.9) rotate(-53)" opacity=".6"/><ellipse rx="3.4" ry="1.5" transform="translate(11 42.9) rotate(-46)" opacity=".7"/><ellipse rx="2.7" ry="1.8" transform="translate(15.6 9.8) rotate(-37)"/><ellipse rx="2.8" ry="1.7" transform="translate(25.6 44.3) rotate(-32)"/><ellipse rx="2.7" ry="1.9" transform="translate(39.3 36.7) rotate(-72)" opacity=".6"/><ellipse rx="2.9" ry="1.7" transform="translate(76.3 31) rotate(-32)"/><ellipse rx="3.2" ry="1.6" transform="translate(94.1 18.4) rotate(-73)"/><ellipse rx="2.3" ry="1.9" transform="translate(18.1 31.5) rotate(-69)" opacity=".4"/><ellipse rx="2.5" ry="1.6" transform="translate(35.6 6.9) rotate(-50)"/><ellipse rx="3.1" ry="1.8" transform="translate(37.1 46.2) rotate(-44)" opacity=".5"/><ellipse rx="2.4" ry="1.7" transform="translate(45.6 13.2) rotate(-17)" opacity=".4"/><ellipse rx="3.1" ry="1.6" transform="translate(9.2 101.4) rotate(-43)"/><ellipse rx="2.3" ry="1.8" transform="translate(52.4 88.4) rotate(-39)" opacity=".8"/><ellipse rx="3" ry="2" transform="translate(40.5 52.3) rotate(-46)"/><ellipse rx="2.8" ry="1.9" transform="translate(12.9 24.2) rotate(-69)"/><ellipse rx="3.4" ry="1.7" transform="translate(63.9 1.2) rotate(-21)" opacity=".7"/><ellipse rx="3.1" ry="2" transform="translate(19.8 26.6) rotate(-60)" opacity=".5"/><ellipse rx="3.3" ry="1.5" transform="translate(8.8 69) rotate(-23)" opacity=".4"/><ellipse rx="2.8" ry="1.7" transform="translate(81.4 26.6) rotate(-21)"/><ellipse rx="3" ry="1.6" transform="translate(28.1 90.4) rotate(-65)" opacity=".6"/><ellipse rx="3.3" ry="1.7" transform="translate(35.1 74.1) rotate(-29)"/><ellipse rx="2.5" ry="1.6" transform="translate(94.7 10.7) rotate(-30)"/><ellipse rx="3.4" ry="1.9" transform="translate(26.9 9.7) rotate(-30)"/><ellipse rx="2.4" ry="2" transform="translate(9.9 30.8) rotate(-63)" opacity=".7"/><ellipse rx="3.3" ry="1.7" transform="translate(9.8 83.5) rotate(-25)" opacity=".5"/><ellipse rx="3.2" ry="2" transform="translate(23.6 2.8) rotate(-23)"/><ellipse rx="2.6" ry="2" transform="translate(28.4 16) rotate(-44)"/><ellipse rx="3.1" ry="1.9" transform="translate(32.2 32.2) rotate(-21)"/><ellipse rx="2.2" ry="2.1" transform="translate(19 46) rotate(-16)" opacity=".4"/><ellipse rx="2.4" ry="1.7" transform="translate(57.8 .6) rotate(-74)"/><ellipse rx="3.3" ry="1.7" transform="translate(7.7 106) rotate(-42)"/><ellipse rx="3.2" ry="1.8" transform="translate(30.5 24.9) rotate(-31)" opacity=".7"/><ellipse rx="2.8" ry="1.9" transform="translate(56.7 44.5) rotate(-36)" opacity=".6"/><ellipse rx="2.2" ry="1.7" transform="translate(25.9 67.9) rotate(-64)"/><ellipse rx="3.2" ry="1.6" transform="translate(36.9 81) rotate(-40)"/><ellipse rx="2.9" ry="1.9" transform="translate(35.4 22.6) rotate(-59)"/><ellipse rx="2.4" ry="1.5" transform="translate(23.6 91.9) rotate(-50)"/><ellipse rx="3.3" ry="1.6" transform="translate(31.2 79.5) rotate(-68)"/><ellipse rx="2.4" ry="1.8" transform="translate(30.1 70.6) rotate(-22)"/><ellipse rx="2.7" ry="1.6" transform="translate(55.9 8.2) rotate(-67)"/><ellipse rx="2.4" ry="1.8" transform="translate(91.4 8.1) rotate(-42)"/><ellipse rx="2.4" ry="1.6" transform="translate(75.2 14.9) rotate(-67)" opacity=".4"/><ellipse rx="2.3" ry="2" transform="translate(56.3 28.4) rotate(-71)" opacity=".7"/><ellipse rx="3" ry="1.8" transform="translate(33.2 86.4) rotate(-56)" opacity=".5"/><ellipse rx="3.1" ry="1.5" transform="translate(43.2 68.2) rotate(-34)"/><ellipse rx="2.4" ry="1.5" transform="translate(24.4 64.5) rotate(-26)"/><ellipse rx="2.2" ry="2" transform="translate(13.4 56.4) rotate(-52)" opacity=".6"/><ellipse rx="3.3" ry="1.8" transform="translate(79.8 8.2) rotate(-54)"/><ellipse rx="3.4" ry="1.7" transform="translate(13.3 39.8) rotate(-68)" opacity=".6"/><ellipse rx="3.1" ry="1.7" transform="translate(53.8 41.6) rotate(-53)" opacity=".4"/><ellipse rx="2.5" ry="1.5" transform="translate(9.9 92.7) rotate(-28)"/><ellipse rx="2.5" ry="1.6" transform="translate(40.6 44.6) rotate(-49)"/><ellipse rx="2.5" ry="1.6" transform="translate(10.5 47.7) rotate(-47)"/><ellipse rx="3.2" ry="1.9" transform="translate(31.7 57.4) rotate(-46)"/><ellipse rx="2.5" ry="1.8" transform="translate(32.6 53.3) rotate(-24)"/><ellipse rx="2.3" ry="1.6" transform="translate(136.8 73.9) rotate(18)"/><ellipse rx="3.3" ry="1.5" transform="translate(111.7 70.4) rotate(20)" opacity=".8"/><ellipse rx="2.4" ry="1.5" transform="translate(131.4 72.5) rotate(50)"/><ellipse rx="2.9" ry="1.6" transform="translate(143.1 96.2) rotate(27)"/><ellipse rx="3" ry="2" transform="translate(134.8 11.4) rotate(40)" opacity=".6"/><ellipse rx="2.4" ry="1.9" transform="translate(119.9 41.8) rotate(19)" opacity=".5"/><ellipse rx="2.9" ry="1.9" transform="translate(136.2 59.7) rotate(33)" opacity=".7"/><ellipse rx="3.4" ry="2" transform="translate(146.6 46) rotate(14)"/><ellipse rx="2.9" ry="2.1" transform="translate(129.9 28.9) rotate(49)" opacity=".8"/><ellipse rx="3.3" ry="2" transform="translate(119.1 10.7) rotate(37)"/><ellipse rx="2.5" ry="2.1" transform="translate(100.4 2.1) rotate(69)"/><ellipse rx="3" ry="1.9" transform="translate(124.3 21.2) rotate(10)" opacity=".6"/><ellipse rx="3" ry="1.5" transform="translate(114.6 10.8) rotate(64)"/><ellipse rx="2.7" ry="1.8" transform="translate(124.3 94.3) rotate(58)" opacity=".6"/><ellipse rx="2.2" ry="2" transform="translate(139.8 58.6) rotate(21)" opacity=".5"/><ellipse rx="3" ry="1.8" transform="translate(104.9 29) rotate(68)" opacity=".7"/><ellipse rx="2.8" ry="1.6" transform="translate(123.5 67.4) rotate(42)"/><ellipse rx="3.2" ry="1.6" transform="translate(140.6 44.6) rotate(56)" opacity=".5"/><ellipse rx="3.3" ry="1.6" transform="translate(115.1 88.4) rotate(45)" opacity=".8"/><ellipse rx="2.9" ry="1.8" transform="translate(143.9 39.4) rotate(30)" opacity=".6"/><ellipse rx="2.7" ry="1.5" transform="translate(121.5 4) rotate(29)" opacity=".7"/><ellipse rx="2.9" ry="1.7" transform="translate(132.8 94.1) rotate(35)"/><ellipse rx="2.4" ry="1.5" transform="translate(123.6 102) rotate(23)"/><ellipse rx="2.4" ry="1.6" transform="translate(133.5 88.2) rotate(49)"/><ellipse rx="2.8" ry="1.7" transform="translate(136.6 25.8) rotate(61)" opacity=".4"/><ellipse rx="2.6" ry="1.6" transform="translate(128.7 105) rotate(27)"/><ellipse rx="2.4" ry="1.5" transform="translate(98.9 14.1) rotate(61)"/><ellipse rx="2.9" ry="1.5" transform="translate(144.9 72.3) rotate(22)"/><ellipse rx="3.2" ry="1.9" transform="translate(136.9 34.9) rotate(20)" opacity=".4"/><ellipse rx="2.7" ry="1.5" transform="translate(111 88.4) rotate(22)" opacity=".6"/><ellipse rx="2.8" ry="2" transform="translate(111.2 33.4) rotate(56)" opacity=".7"/><ellipse rx="2.8" ry="1.5" transform="translate(130.6 85.8) rotate(43)" opacity=".5"/><ellipse rx="2.7" ry="1.8" transform="translate(115.3 19.7) rotate(64)" opacity=".5"/><ellipse rx="2.2" ry="2" transform="translate(116.6 32.5) rotate(17)" opacity=".7"/><ellipse rx="2.6" ry="1.7" transform="translate(129.4 60.2) rotate(25)" opacity=".6"/><ellipse rx="2.5" ry="1.9" transform="translate(111.2 1.3) rotate(39)"/><ellipse rx="2.2" ry="1.8" transform="translate(145.3 31.1) rotate(51)" opacity=".5"/><ellipse rx="2.9" ry="1.9" transform="translate(126.8 56.1) rotate(60)"/><ellipse rx="3.2" ry="1.6" transform="translate(105.2 21.6) rotate(68)"/><ellipse rx="2.5" ry="1.8" transform="translate(140.3 31.2) rotate(39)"/><ellipse rx="2.9" ry="1.5" transform="translate(127.7 78.7) rotate(15)" opacity=".4"/><ellipse rx="2.2" ry="1.9" transform="translate(136 15.8) rotate(18)" opacity=".6"/><ellipse rx="2.9" ry="1.8" transform="translate(104.4 18) rotate(41)" opacity=".5"/><ellipse rx="2.3" ry="1.6" transform="translate(118.8 89.6) rotate(35)" opacity=".5"/><ellipse rx="2.3" ry="2.1" transform="translate(120.8 75.2) rotate(49)" opacity=".8"/><ellipse rx="3.4" ry="1.9" transform="translate(121.2 24.5) rotate(49)" opacity=".4"/><ellipse rx="2.4" ry="1.7" transform="translate(110.3 57.3) rotate(17)" opacity=".6"/><ellipse rx="3.2" ry="1.9" transform="translate(123.4 87.2) rotate(60)" opacity=".5"/><ellipse rx="3" ry="1.6" transform="translate(129 16.2) rotate(16)"/><ellipse rx="3.3" ry="1.8" transform="translate(120.2 30.1) rotate(32)"/><ellipse rx="2.9" ry="1.6" transform="translate(115.8 63.8) rotate(65)" opacity=".4"/><ellipse rx="2.3" ry="1.9" transform="translate(125.2 13.9) rotate(42)"/><ellipse rx="2.7" ry="1.9" transform="translate(115.1 95.3) rotate(64)"/><ellipse rx="2.6" ry="1.5" transform="translate(139.3 71.1) rotate(59)" opacity=".8"/><ellipse rx="3.1" ry="1.8" transform="translate(114.6 5.2) rotate(59)"/><ellipse rx="2.7" ry="2" transform="translate(138.5 22.3) rotate(58)"/><ellipse rx="3" ry="1.7" transform="translate(124.5 76.5) rotate(27)" opacity=".4"/><ellipse rx="3.3" ry="1.6" transform="translate(125.5 31.4) rotate(47)"/><ellipse rx="2.6" ry="1.8" transform="translate(127.8 96.2) rotate(62)"/><ellipse rx="2.7" ry="2.1" transform="translate(140.9 85.3) rotate(17)" opacity=".5"/><ellipse rx="3.3" ry="1.8" transform="translate(143.6 5.2) rotate(67)"/><ellipse rx="3.2" ry="1.9" transform="translate(138.4 92.1) rotate(51)" opacity=".5"/><ellipse rx="2.7" ry="1.7" transform="translate(110.1 52.9) rotate(63)"/><ellipse rx="3.4" ry="1.8" transform="translate(140.8 75) rotate(65)" opacity=".5"/><ellipse rx="2.5" ry="1.5" transform="translate(116.2 103.3) rotate(35)" opacity=".8"/><ellipse rx="2.3" ry="1.5" transform="translate(109.9 62.6) rotate(24)" opacity=".7"/><ellipse rx="2.6" ry="1.5" transform="translate(118.7 96.5) rotate(20)"/><ellipse rx="2.9" ry="1.5" transform="translate(123.4 82.7) rotate(40)" opacity=".5"/><ellipse rx="3" ry="1.5" transform="translate(105.3 95.2) rotate(60)"/><ellipse rx="2.8" ry="2" transform="translate(91.8 93.9) rotate(169)"/><ellipse rx="3.4" ry="1.9" transform="translate(66 96.2) rotate(33)" opacity=".5"/><ellipse rx="2.6" ry="1.9" transform="translate(72.3 58.7) rotate(3)"/><ellipse rx="2.7" ry="1.7" transform="translate(99.6 72.6) rotate(115)"/><ellipse rx="2.4" ry="1.8" transform="translate(94.2 79.5) rotate(62)" opacity=".8"/><ellipse rx="3.1" ry="1.8" transform="translate(72.7 82.2) rotate(1)"/><ellipse rx="2.3" ry="2.1" transform="translate(106.3 47.6) rotate(13)" opacity=".6"/><ellipse rx="2.2" ry="2" transform="translate(77.9 103.9) rotate(43)"/><ellipse rx="2.4" ry="1.8" transform="translate(82.2 63.9) rotate(49)" opacity=".4"/><ellipse rx="3.3" ry="2.1" transform="translate(75.4 93.8) rotate(66)"/><ellipse rx="2.5" ry="2" transform="translate(104.8 103.2) rotate(116)"/><ellipse rx="3.3" ry="1.7" transform="translate(3.1 62.3) rotate(167)" opacity=".8"/><ellipse rx="3.2" ry="1.7" transform="translate(4.6 100.1) rotate(106)" opacity=".5"/></g><g fill="#d02ad8" filter="url(#blurN)"><ellipse rx="2" ry="1.1" transform="translate(97.2 7.8) rotate(-29)" opacity=".8"/><ellipse rx="1.3" ry="1.2" transform="translate(24.7 76.3) rotate(-52)" opacity=".6"/><ellipse rx="1.5" ry=".9" transform="translate(8.6 100.9) rotate(-43)" opacity=".6"/><ellipse rx="1.9" ry="1.6" transform="translate(13.7 23.8) rotate(-69)" opacity=".7"/><ellipse rx="1.7" ry="1" transform="translate(137 74.2) rotate(18)" opacity=".8"/><ellipse rx="2.1" ry="1.3" transform="translate(134.7 11.8) rotate(40)" opacity=".6"/><ellipse rx="1.6" ry="1.3" transform="translate(139.9 58.4) rotate(21)" opacity=".9"/><ellipse rx="2" ry="1.1" transform="translate(110.8 1.4) rotate(39)" opacity=".6"/><ellipse rx="2.3" ry="1.3" transform="translate(105.2 17.8) rotate(41)" opacity=".8"/></g><filter id="fh33" filterUnits="userSpaceOnUse" x="-2" y="-2" width="152" height="114" color-interpolation-filters="sRGB"><feGaussianBlur in="SourceGraphic" stdDeviation=".9"/><feColorMatrix type="luminanceToAlpha" result="d"/><feTurbulence type="fractalNoise" baseFrequency=".33" numOctaves="2" seed="51" result="n"/><feColorMatrix in="n" type="matrix" values="0 0 0 0 .7 0 0 0 0 .1 0 0 0 0 .2 1 0 0 0 0" result="na"/><feComposite in="na" in2="d" operator="in"/><feComponentTransfer><feFuncA type="linear" slope="7" intercept="-3.4"/></feComponentTransfer><feGaussianBlur stdDeviation=".7"/><feComponentTransfer><feFuncA type="linear" slope="1.8" intercept="0"/></feComponentTransfer></filter><g filter="url(#fh33)"><rect x="-2" y="-2" width="152" height="114" fill="#000"/><polyline points="38.5,53.9 43.1,69.3 49.3,83.1" fill="none" stroke="#d8d8d8" stroke-width="8.3" stroke-linecap="round" stroke-linejoin="round"/><polyline points="61.6,15.4 73.9,26.2 89.3,32.3" fill="none" stroke="#d8d8d8" stroke-width="8.3" stroke-linecap="round" stroke-linejoin="round"/><circle cx="27.7" cy="29.2" r="1.9" fill="#ffffff"/><circle cx="3.1" cy="62.3" r="1.9" fill="#ffffff"/><circle cx="110.1" cy="69.3" r="3" fill="#eeeeee"/><polyline points="18.5,86.2 30.8,98.5" fill="none" stroke="#d4d4d4" stroke-width="8.3" stroke-linecap="round" stroke-linejoin="round"/></g><g opacity=".13" filter="url(#blur2)"><circle cx="27.7" cy="29.2" r="2" fill="#c8101c"/><circle cx="3.1" cy="62.3" r="2" fill="#c8101c"/><circle cx="110.1" cy="69.3" r="3.2" fill="#c8101c"/></g></g>
<clipPath id="cp34"><rect x=".3" y="-.2" width="146" height="109.7"/></clipPath><g transform="translate(646,833)" clip-path="url(#cp34)"><rect x="-2" y="-2" width="152" height="114" fill="#03021a"/><ellipse cx="46.2" cy="38.5" rx="50.8" ry="40" fill="#0a0a66" opacity=".3" filter="url(#hzb)"/><ellipse cx="86.2" cy="50.8" rx="30.8" ry="23.1" fill="#0a0a66" opacity=".2" filter="url(#hzb)"/><g fill="#1416ee" opacity=".9" filter="url(#blurN)"><ellipse rx="4.5" ry="1.7" transform="translate(76.4 9.6) rotate(13)"/><ellipse rx="4.5" ry="1.6" transform="translate(121.6 88.6) rotate(15)"/><ellipse rx="4.1" ry="1.3" transform="translate(100.6 98.6) rotate(4)" opacity=".6"/><ellipse rx="3.7" ry="1.4" transform="translate(83.1 85.8) rotate(4)" opacity=".7"/><ellipse rx="3.4" ry="1.6" transform="translate(142.9 10.1) rotate(18)" opacity=".7"/><ellipse rx="3.6" ry="1.7" transform="translate(134.8 35.7) rotate(11)"/><ellipse rx="3.3" ry="1.5" transform="translate(114.3 19) rotate(9)"/><ellipse rx="2.9" ry="1.6" transform="translate(143.4 62.7) rotate(18)"/><ellipse rx="4.5" ry="1.3" transform="translate(128 74.8) rotate(13)" opacity=".6"/><ellipse rx="2.9" ry="1.2" transform="translate(79.4 26.9) rotate(12)" opacity=".6"/><ellipse rx="3.1" ry="1.8" transform="translate(107.2 35.7) rotate(17)" opacity=".6"/><ellipse rx="3.9" ry="1.8" transform="translate(112.9 79.8) rotate(11)" opacity=".5"/><ellipse rx="3.6" ry="1.6" transform="translate(76.2 38.5) rotate(6)"/><ellipse rx="2.9" ry="1.5" transform="translate(120.2 38.6) rotate(12)" opacity=".4"/><ellipse rx="4.3" ry="1.3" transform="translate(123.6 17.2) rotate(8)" opacity=".5"/><ellipse rx="3.5" ry="1.7" transform="translate(146.4 74.3) rotate(9)"/><ellipse rx="3.8" ry="1.2" transform="translate(117.3 28.2) rotate(13)"/><ellipse rx="3.4" ry="1.5" transform="translate(103.6 3.5) rotate(19)"/><ellipse rx="4.2" ry="1.6" transform="translate(123.6 27.2) rotate(22)"/><ellipse rx="4.2" ry="1.3" transform="translate(119.2 13.6) rotate(9)" opacity=".6"/><ellipse rx="4.5" ry="1.8" transform="translate(138.7 88.5) rotate(18)"/><ellipse rx="3.3" ry="1.4" transform="translate(135.3 97.2) rotate(9)" opacity=".7"/><ellipse rx="3.7" ry="1.4" transform="translate(142.4 16.4) rotate(14)"/><ellipse rx="3.1" ry="1.8" transform="translate(97.9 76.7) rotate(7)"/><ellipse rx="3.4" ry="1.5" transform="translate(125.2 80.4) rotate(21)"/><ellipse rx="3.6" ry="1.4" transform="translate(106.2 64.5) rotate(6)"/><ellipse rx="4.2" ry="1.5" transform="translate(62.4 8) rotate(18)"/><ellipse rx="4.6" ry="1.4" transform="translate(138.5 35) rotate(14)"/><ellipse rx="4.4" ry="1.6" transform="translate(76.2 14) rotate(22)"/><ellipse rx="3.9" ry="1.3" transform="translate(77.6 79.9) rotate(8)" opacity=".7"/><ellipse rx="3.4" ry="1.2" transform="translate(116.7 .8) rotate(22)" opacity=".6"/><ellipse rx="3.4" ry="1.4" transform="translate(87.2 79.5) rotate(21)"/><ellipse rx="4.4" ry="1.3" transform="translate(109.8 92.7) rotate(24)" opacity=".5"/><ellipse rx="3.8" ry="1.7" transform="translate(80 4.4) rotate(18)"/><ellipse rx="3" ry="1.8" transform="translate(92.2 10.2) rotate(9)"/><ellipse rx="3.1" ry="1.6" transform="translate(91 43.7) rotate(20)"/><ellipse rx="4.2" ry="1.6" transform="translate(100.4 19.9) rotate(8)"/><ellipse rx="3.7" ry="1.3" transform="translate(132.3 79.7) rotate(12)"/><ellipse rx="4.5" ry="1.5" transform="translate(76.4 18) rotate(5)"/><ellipse rx="4.4" ry="1.6" transform="translate(90.5 54) rotate(24)" opacity=".7"/><ellipse rx="4.3" ry="1.3" transform="translate(104.3 20.4) rotate(26)"/><ellipse rx="4.5" ry="1.4" transform="translate(135.8 85.7) rotate(4)"/><ellipse rx="3.7" ry="1.3" transform="translate(146.4 24.6) rotate(16)" opacity=".6"/><ellipse rx="4.1" ry="1.6" transform="translate(109.8 .8) rotate(17)" opacity=".7"/><ellipse rx="4.3" ry="1.8" transform="translate(84 90.2) rotate(25)"/><ellipse rx="4.4" ry="1.3" transform="translate(102.3 14.9) rotate(10)" opacity=".4"/><ellipse rx="4.4" ry="1.3" transform="translate(59.9 .4) rotate(12)"/><ellipse rx="3" ry="1.4" transform="translate(96 105.2) rotate(7)"/><ellipse rx="4.4" ry="1.7" transform="translate(90.4 14.6) rotate(21)"/><ellipse rx="4.2" ry="1.5" transform="translate(92.9 89.7) rotate(26)"/><ellipse rx="3.4" ry="1.3" transform="translate(138.2 106.3) rotate(21)" opacity=".6"/><ellipse rx="3.4" ry="1.3" transform="translate(82.3 100.6) rotate(16)"/><ellipse rx="4.5" ry="1.8" transform="translate(98.8 23.2) rotate(18)" opacity=".7"/><ellipse rx="3.5" ry="1.4" transform="translate(113.1 32.8) rotate(24)"/><ellipse rx="2.8" ry="1.4" transform="translate(146.1 15.1) rotate(4)" opacity=".5"/><ellipse rx="3.4" ry="1.4" transform="translate(146.6 39) rotate(26)"/><ellipse rx="3.3" ry="1.3" transform="translate(139.8 44.8) rotate(9)"/><ellipse rx="3.7" ry="1.6" transform="translate(70.2 9.9) rotate(11)"/><ellipse rx="3.7" ry="1.6" transform="translate(88.7 35) rotate(14)" opacity=".8"/><ellipse rx="4.1" ry="1.6" transform="translate(129.9 91.8) rotate(3)"/><ellipse rx="4.1" ry="1.5" transform="translate(122.2 54.3) rotate(9)"/><ellipse rx="3.9" ry="1.4" transform="translate(143.3 49.4) rotate(8)" opacity=".6"/><ellipse rx="3.3" ry="1.5" transform="translate(126.3 97.4) rotate(15)"/><ellipse rx="3" ry="1.7" transform="translate(99.7 83) rotate(4)"/><ellipse rx="3.2" ry="1.6" transform="translate(85.1 14.4) rotate(21)" opacity=".6"/><ellipse rx="3.1" ry="1.5" transform="translate(115.6 39) rotate(14)"/><ellipse rx="4.4" ry="1.7" transform="translate(86.6 98.9) rotate(11)"/><ellipse rx="4.2" ry="1.7" transform="translate(141 5) rotate(10)"/><ellipse rx="4.5" ry="1.8" transform="translate(77.4 75.6) rotate(20)"/><ellipse rx="4.4" ry="1.7" transform="translate(113.5 69.7) rotate(24)"/><ellipse rx="4.3" ry="1.6" transform="translate(85.8 27.2) rotate(3)" opacity=".8"/><ellipse rx="3.8" ry="1.4" transform="translate(93.5 29) rotate(9)" opacity=".6"/><ellipse rx="3.1" ry="1.6" transform="translate(124.7 9.1) rotate(15)"/><ellipse rx="3.3" ry="1.2" transform="translate(20.2 45.7) rotate(76)" opacity=".6"/><ellipse rx="3.8" ry="1.5" transform="translate(20.4 3.7) rotate(25)" opacity=".7"/><ellipse rx="3" ry="1.5" transform="translate(4.1 45.1) rotate(48)" opacity=".5"/><ellipse rx="3.2" ry="1.4" transform="translate(46.9 2.4) rotate(52)"/><ellipse rx="4.2" ry="1.5" transform="translate(40.5 38.1) rotate(55)"/><ellipse rx="4.4" ry="1.3" transform="translate(.4 26.8) rotate(46)"/><ellipse rx="3.2" ry="1.5" transform="translate(52.8 56.8) rotate(45)"/><ellipse rx="4.1" ry="1.6" transform="translate(25.4 62.6) rotate(46)"/><ellipse rx="3" ry="1.5" transform="translate(38 61) rotate(42)" opacity=".8"/><ellipse rx="3.6" ry="1.3" transform="translate(46.6 24.5) rotate(26)"/><ellipse rx="3.8" ry="1.6" transform="translate(23.2 38.7) rotate(50)" opacity=".5"/><ellipse rx="3.3" ry="1.2" transform="translate(39 28.6) rotate(37)"/><ellipse rx="4.4" ry="1.3" transform="translate(46.2 13) rotate(72)"/><ellipse rx="3.7" ry="1.3" transform="translate(26.2 44) rotate(77)" opacity=".7"/><ellipse rx="4.5" ry="1.8" transform="translate(13.8 21.4) rotate(44)" opacity=".4"/><ellipse rx="3.6" ry="1.7" transform="translate(34.2 58.8) rotate(64)" opacity=".7"/><ellipse rx="3.1" ry="1.7" transform="translate(18.3 12.7) rotate(67)" opacity=".5"/><ellipse rx="3.3" ry="1.2" transform="translate(15.3 47.5) rotate(44)"/><ellipse rx="3.9" ry="1.8" transform="translate(54.7 4.4) rotate(59)" opacity=".6"/><ellipse rx="3.4" ry="1.7" transform="translate(61.4 38.5) rotate(48)" opacity=".7"/><ellipse rx="3.4" ry="1.3" transform="translate(32.1 62.9) rotate(28)"/><ellipse rx="3.3" ry="1.4" transform="translate(9.9 41.1) rotate(68)" opacity=".6"/><ellipse rx="4.6" ry="1.3" transform="translate(27.9 18) rotate(52)"/><ellipse rx="4.1" ry="1.3" transform="translate(49.6 43.5) rotate(71)" opacity=".6"/><ellipse rx="4.6" ry="1.5" transform="translate(7.3 9) rotate(76)"/><ellipse rx="3.5" ry="1.4" transform="translate(39.4 8) rotate(29)"/><ellipse rx="3.6" ry="1.7" transform="translate(19 58.1) rotate(64)"/><ellipse rx="3.5" ry="1.5" transform="translate(43.6 18.4) rotate(71)"/><ellipse rx="4.6" ry="1.3" transform="translate(34.7 43.4) rotate(44)" opacity=".6"/><ellipse rx="3" ry="1.5" transform="translate(35.3 11.1) rotate(77)" opacity=".4"/><ellipse rx="4.5" ry="1.2" transform="translate(62.9 20.1) rotate(60)"/><ellipse rx="3.7" ry="1.7" transform="translate(3.4 21.2) rotate(34)"/><ellipse rx="4.4" ry="1.4" transform="translate(25.4 56.8) rotate(38)"/><ellipse rx="4.5" ry="1.4" transform="translate(53 51.2) rotate(35)" opacity=".6"/><ellipse rx="3.6" ry="1.4" transform="translate(75 44.4) rotate(70)" opacity=".4"/><ellipse rx="2.9" ry="1.8" transform="translate(64.1 87.8) rotate(79)" opacity=".7"/><ellipse rx="4.2" ry="1.7" transform="translate(66.5 68.1) rotate(106)" opacity=".7"/><ellipse rx="4" ry="1.4" transform="translate(65.3 45.5) rotate(118)"/><ellipse rx="3.6" ry="1.6" transform="translate(54.9 45.7) rotate(115)" opacity=".7"/><ellipse rx="2.8" ry="1.6" transform="translate(55.7 83.3) rotate(65)" opacity=".8"/><ellipse rx="3.8" ry="1.7" transform="translate(67.3 55.6) rotate(67)" opacity=".7"/><ellipse rx="4.2" ry="1.5" transform="translate(57.5 68.1) rotate(65)"/><ellipse rx="3.3" ry="1.5" transform="translate(74.4 54.1) rotate(46)"/><ellipse rx="4.6" ry="1.3" transform="translate(64.7 81.1) rotate(43)" opacity=".7"/><ellipse rx="3.1" ry="1.5" transform="translate(57 77.6) rotate(69)" opacity=".4"/><ellipse rx="4.2" ry="1.3" transform="translate(70 70) rotate(54)" opacity=".6"/><ellipse rx="4" ry="1.5" transform="translate(68.7 46.9) rotate(66)" opacity=".5"/><ellipse rx="4.5" ry="1.7" transform="translate(58 56.4) rotate(68)" opacity=".8"/><ellipse rx="2.9" ry="1.6" transform="translate(53.4 67) rotate(97)" opacity=".7"/><ellipse rx="3.5" ry="1.6" transform="translate(23.4 74.6) rotate(14)" opacity=".7"/><ellipse rx="4.5" ry="1.5" transform="translate(42.4 79.5) rotate(25)"/><ellipse rx="4" ry="1.3" transform="translate(38.3 105) rotate(24)"/><ellipse rx="3.5" ry="1.6" transform="translate(10.7 81.8) rotate(30)" opacity=".5"/><ellipse rx="3.2" ry="1.8" transform="translate(23.8 106.4) rotate(-3)" opacity=".4"/><ellipse rx="3.7" ry="1.7" transform="translate(29.5 88.6) rotate(21)" opacity=".4"/><ellipse rx="4.4" ry="1.8" transform="translate(3.9 84.5) rotate(-9)"/><ellipse rx="3.1" ry="1.2" transform="translate(1.3 71.3) rotate(29)"/><ellipse rx="3.7" ry="1.7" transform="translate(24.6 82.2) rotate(4)"/><ellipse rx="4.6" ry="1.4" transform="translate(7.1 64.7) rotate(-9)"/><ellipse rx="3.3" ry="1.5" transform="translate(15.3 99) rotate(16)"/><ellipse rx="3.5" ry="1.3" transform="translate(13.6 87) rotate(30)" opacity=".6"/><ellipse rx="3.8" ry="1.5" transform="translate(32.1 77.8) rotate(42)" opacity=".5"/><ellipse rx="3.4" ry="1.2" transform="translate(50.5 80.3) rotate(23)"/><ellipse rx="4.5" ry="1.7" transform="translate(9.4 96.1) rotate(17)" opacity=".5"/><ellipse rx="4.2" ry="1.6" transform="translate(4.1 93.3) rotate(45)"/><ellipse rx="3" ry="1.8" transform="translate(43.4 75.5) rotate(38)" opacity=".7"/></g><g fill="#d02ad8" filter="url(#blurN)"><ellipse rx="2.2" ry="1.2" transform="translate(142.7 9.6) rotate(18)" opacity=".7"/><ellipse rx="3" ry="1" transform="translate(93 29.3) rotate(9)" opacity=".9"/><ellipse rx="2.2" ry=".9" transform="translate(35.6 11.2) rotate(77)" opacity=".6"/><ellipse rx="1.8" ry="1.4" transform="translate(64.5 87.9) rotate(79)" opacity=".6"/><ellipse rx="2.7" ry="1.3" transform="translate(4.4 93.6) rotate(45)" opacity=".9"/></g><filter id="fh34" filterUnits="userSpaceOnUse" x="-2" y="-2" width="152" height="114" color-interpolation-filters="sRGB"><feGaussianBlur in="SourceGraphic" stdDeviation=".9"/><feColorMatrix type="luminanceToAlpha" result="d"/><feTurbulence type="fractalNoise" baseFrequency=".33" numOctaves="2" seed="54" result="n"/><feColorMatrix in="n" type="matrix" values="0 0 0 0 .8 0 0 0 0 .1 0 0 0 0 .2 1 0 0 0 0" result="na"/><feComposite in="na" in2="d" operator="in"/><feComponentTransfer><feFuncA type="linear" slope="7" intercept="-3.4"/></feComponentTransfer><feGaussianBlur stdDeviation=".7"/><feComponentTransfer><feFuncA type="linear" slope="1.8" intercept="0"/></feComponentTransfer></filter><g filter="url(#fh34)"><rect x="-2" y="-2" width="152" height="114" fill="#000"/><circle cx="98.5" cy="18.5" r="1.9" fill="#f6f6f6"/><circle cx="117" cy="11.5" r="1.7" fill="#f6f6f6"/><circle cx="133.9" cy="24.6" r="1.7" fill="#f6f6f6"/><circle cx="130.8" cy="76.2" r="1.9" fill="#f6f6f6"/><circle cx="107.7" cy="64.6" r="1.5" fill="#f6f6f6"/><circle cx="143.2" cy="32.3" r="1.5" fill="#f6f6f6"/><circle cx="92.4" cy="47.7" r="1.5" fill="#f6f6f6"/><circle cx="123.1" cy="98.5" r="1.5" fill="#f6f6f6"/><circle cx="65.4" cy="67.7" r="6.3" fill="#e5e5e5"/><circle cx="46.2" cy="20" r="3.7" fill="#dcdcdc"/><circle cx="64.6" cy="49.3" r="3.7" fill="#dcdcdc"/><circle cx="23.1" cy="104.7" r="3.7" fill="#dcdcdc"/></g><g opacity=".13" filter="url(#blur2)"><circle cx="98.5" cy="18.5" r="2" fill="#c8101c"/><circle cx="117" cy="11.5" r="1.8" fill="#c8101c"/><circle cx="133.9" cy="24.6" r="1.8" fill="#c8101c"/><circle cx="130.8" cy="76.2" r="2" fill="#c8101c"/><circle cx="107.7" cy="64.6" r="1.6" fill="#c8101c"/><circle cx="143.2" cy="32.3" r="1.6" fill="#c8101c"/><circle cx="92.4" cy="47.7" r="1.6" fill="#c8101c"/><circle cx="123.1" cy="98.5" r="1.6" fill="#c8101c"/></g></g>
<clipPath id="cp35"><rect x=".2" y="-.2" width="146.3" height="109.7"/></clipPath><g transform="translate(797,833)" clip-path="url(#cp35)"><rect x="-2" y="-2" width="152" height="114" fill="#03010f"/><g fill="#1416ee" opacity=".9" filter="url(#blurN)"><ellipse rx="2.5" ry="2" transform="translate(.9 28.8) rotate(-61)"/><ellipse rx="2.9" ry="1.9" transform="translate(12.7 52.4) rotate(-52)" opacity=".8"/><ellipse rx="2.9" ry="1.5" transform="translate(.6 62.4) rotate(-68)" opacity=".6"/><ellipse rx="3" ry="1.5" transform="translate(16.4 21.4) rotate(-59)"/><ellipse rx="2.7" ry="1.6" transform="translate(1.4 19) rotate(-64)"/><ellipse rx="2.8" ry="1.7" transform="translate(18.4 3) rotate(-19)" opacity=".8"/><ellipse rx="3.1" ry="1.6" transform="translate(34.8 18.9) rotate(-39)" opacity=".6"/><ellipse rx="3" ry="1.9" transform="translate(34.5 7.9) rotate(-15)"/><ellipse rx="2.7" ry="1.6" transform="translate(16 34.9) rotate(-62)" opacity=".7"/><ellipse rx="3" ry="1.5" transform="translate(25.8 9.3) rotate(-32)" opacity=".6"/><ellipse rx="3.3" ry="1.8" transform="translate(10.5 15.4) rotate(-29)" opacity=".5"/><ellipse rx="3.2" ry="1.7" transform="translate(6.9 14.6) rotate(-29)" opacity=".6"/><ellipse rx="2.8" ry="1.5" transform="translate(.2 44.2) rotate(-67)" opacity=".4"/><ellipse rx="2.3" ry="1.6" transform="translate(11.9 65.8) rotate(-49)" opacity=".6"/><ellipse rx="2.9" ry="2.1" transform="translate(1.1 72.6) rotate(-67)" opacity=".8"/><ellipse rx="2.6" ry="1.5" transform="translate(12.3 30.6) rotate(-72)" opacity=".6"/><ellipse rx="3.1" ry="2" transform="translate(11.9 4.8) rotate(-56)" opacity=".6"/><ellipse rx="2.6" ry="2" transform="translate(25.3 30) rotate(-47)"/><ellipse rx="2.6" ry="2" transform="translate(20.9 49.5) rotate(-29)"/><ellipse rx="2.6" ry="2" transform="translate(15.9 5.9) rotate(-22)" opacity=".6"/><ellipse rx="3" ry="1.7" transform="translate(10.7 9.6) rotate(-63)" opacity=".7"/><ellipse rx="2.7" ry="1.7" transform="translate(18.2 15.3) rotate(-67)" opacity=".6"/><ellipse rx="3.4" ry="1.8" transform="translate(11.2 .2) rotate(-73)"/><ellipse rx="3" ry="1.6" transform="translate(22.1 24.3) rotate(-71)"/><ellipse rx="2.6" ry="2" transform="translate(8.5 47) rotate(-29)" opacity=".6"/><ellipse rx="2.8" ry="1.7" transform="translate(5.3 64.2) rotate(-46)" opacity=".6"/><ellipse rx="3.1" ry="1.5" transform="translate(30.6 17.9) rotate(-26)"/><ellipse rx="3.2" ry="2" transform="translate(20.9 31) rotate(-38)"/><ellipse rx="2.7" ry="1.9" transform="translate(5.7 54.4) rotate(-51)"/><ellipse rx="3.3" ry="1.6" transform="translate(.4 66) rotate(-74)"/><ellipse rx="2.9" ry="1.6" transform="translate(5.4 60.3) rotate(-38)"/><ellipse rx="3" ry="2.1" transform="translate(3.6 6.7) rotate(-43)"/><ellipse rx="2.9" ry="1.7" transform="translate(14.5 2.1) rotate(-52)" opacity=".7"/><ellipse rx="3.2" ry="1.6" transform="translate(18 66.2) rotate(-29)" opacity=".5"/><ellipse rx="2.5" ry="1.7" transform="translate(21.8 65.3) rotate(-41)" opacity=".4"/><ellipse rx="2.3" ry="1.5" transform="translate(25.2 34.1) rotate(-53)"/><ellipse rx="3.2" ry="1.8" transform="translate(16.8 51.9) rotate(-30)"/><ellipse rx="2.6" ry="1.9" transform="translate(15.3 61.3) rotate(-71)"/><ellipse rx="2.4" ry="1.5" transform="translate(8 2.6) rotate(-56)" opacity=".7"/><ellipse rx="3.3" ry="1.7" transform="translate(15.9 12.2) rotate(-43)"/><ellipse rx="2.4" ry="2" transform="translate(28.8 36.3) rotate(-49)" opacity=".8"/><ellipse rx="2.5" ry="1.6" transform="translate(35.8 31.5) rotate(-13)" opacity=".4"/><ellipse rx="2.4" ry="1.6" transform="translate(41.4 27.7) rotate(-24)"/><ellipse rx="3.2" ry="1.7" transform="translate(45.7 26.6) rotate(-43)" opacity=".7"/><ellipse rx="3.2" ry="1.5" transform="translate(51.3 22) rotate(-42)" opacity=".4"/><ellipse rx="2.2" ry="1.8" transform="translate(53.8 17.8) rotate(-7)" opacity=".8"/><ellipse rx="2.5" ry="1.8" transform="translate(60.4 14.6) rotate(0)" opacity=".5"/><ellipse rx="3.4" ry="1.5" transform="translate(68.1 15.3) rotate(-31)" opacity=".5"/><ellipse rx="2.8" ry="1.5" transform="translate(73.4 14) rotate(-35)" opacity=".7"/><ellipse rx="2.2" ry="1.5" transform="translate(79.1 15.8) rotate(-3)" opacity=".7"/><ellipse rx="2.3" ry="1.6" transform="translate(84.8 11.8) rotate(-1)" opacity=".6"/><ellipse rx="2.4" ry="1.8" transform="translate(57.2 27.9) rotate(96)" opacity=".6"/><ellipse rx="3.1" ry="1.7" transform="translate(58.4 31.9) rotate(82)" opacity=".6"/><ellipse rx="2.7" ry="2.1" transform="translate(58.2 38.2) rotate(79)"/><ellipse rx="3.2" ry="1.8" transform="translate(59.7 43.4) rotate(72)" opacity=".6"/><ellipse rx="2.3" ry="1.9" transform="translate(63.5 51.2) rotate(102)" opacity=".6"/><ellipse rx="2.2" ry="2" transform="translate(63.6 56.8) rotate(89)"/><ellipse rx="2.5" ry="1.8" transform="translate(26.4 50.8) rotate(84)" opacity=".5"/><ellipse rx="3.1" ry="2.1" transform="translate(29.4 52.7) rotate(69)"/><ellipse rx="2.5" ry="1.7" transform="translate(28.7 57.9) rotate(55)"/><ellipse rx="2.9" ry="1.5" transform="translate(33 59.9) rotate(28)" opacity=".5"/><ellipse rx="2.5" ry="1.5" transform="translate(36.5 61) rotate(41)" opacity=".8"/><ellipse rx="2.6" ry="1.7" transform="translate(40.3 62.8) rotate(36)"/><ellipse rx="3" ry="1.8" transform="translate(42.8 65.7) rotate(41)" opacity=".6"/><ellipse rx="2.8" ry="1.6" transform="translate(45.5 67.3) rotate(-1)" opacity=".6"/><ellipse rx="2.7" ry="1.6" transform="translate(48.2 70.8) rotate(4)" opacity=".7"/><ellipse rx="2.4" ry="1.5" transform="translate(52.1 71.4) rotate(44)"/><ellipse rx="2.4" ry="1.8" transform="translate(88.7 10.7) rotate(30)" opacity=".6"/><ellipse rx="2.5" ry="1.9" transform="translate(96.6 11.1) rotate(8)"/><ellipse rx="3.3" ry="1.5" transform="translate(104.4 15.3) rotate(18)" opacity=".5"/><ellipse rx="2.3" ry="2" transform="translate(109.9 14.8) rotate(10)" opacity=".5"/><ellipse rx="2.4" ry="1.7" transform="translate(44.3 84.5) rotate(147)"/><ellipse rx="3.1" ry="1.8" transform="translate(56.9 85.7) rotate(39)" opacity=".4"/><ellipse rx="2.8" ry="1.5" transform="translate(13.3 104.2) rotate(150)"/><ellipse rx="2.2" ry="1.8" transform="translate(21.1 87.6) rotate(71)" opacity=".6"/><ellipse rx="2.7" ry="2.1" transform="translate(33.7 89.4) rotate(45)"/><ellipse rx="2.8" ry="1.9" transform="translate(11.1 108.6) rotate(116)"/><ellipse rx="2.8" ry="2" transform="translate(16 87) rotate(100)" opacity=".4"/><ellipse rx="3.1" ry="1.9" transform="translate(53.2 89) rotate(44)"/><ellipse rx="3" ry="1.6" transform="translate(1.6 79.3) rotate(126)" opacity=".5"/><ellipse rx="3.3" ry="2" transform="translate(34.6 94) rotate(0)"/><ellipse rx="2.4" ry="2.1" transform="translate(25.3 93.5) rotate(55)"/><ellipse rx="2.7" ry="2" transform="translate(55.4 104.2) rotate(117)" opacity=".7"/><ellipse rx="2.3" ry="1.5" transform="translate(27.2 103.5) rotate(61)"/><ellipse rx="2.7" ry="1.7" transform="translate(20.5 108.2) rotate(90)" opacity=".7"/><ellipse rx="2.4" ry="2" transform="translate(56.7 92.2) rotate(82)" opacity=".7"/><ellipse rx="3" ry="1.9" transform="translate(29.5 77.4) rotate(12)"/><ellipse rx="2.3" ry="1.5" transform="translate(37.8 81.6) rotate(107)" opacity=".7"/><ellipse rx="2.8" ry="1.6" transform="translate(26.6 85.4) rotate(15)"/><ellipse rx="3.3" ry="1.7" transform="translate(47.7 77) rotate(8)" opacity=".7"/><ellipse rx="2.5" ry="1.6" transform="translate(19.5 81.2) rotate(117)"/><ellipse rx="2.7" ry="1.7" transform="translate(41.6 71.4) rotate(177)"/><ellipse rx="3.3" ry="2" transform="translate(33.3 105.3) rotate(58)" opacity=".7"/><ellipse rx="2.5" ry="1.8" transform="translate(1 101.7) rotate(16)" opacity=".7"/><ellipse rx="2.4" ry="1.9" transform="translate(35.5 75.6) rotate(151)" opacity=".6"/><ellipse rx="2.5" ry="1.8" transform="translate(15.7 107.3) rotate(43)"/><ellipse rx="2.9" ry="1.6" transform="translate(23.6 78.4) rotate(165)" opacity=".6"/><ellipse rx="2.8" ry="1.7" transform="translate(17.7 98.7) rotate(125)" opacity=".8"/><ellipse rx="3.4" ry="2" transform="translate(45.1 102.4) rotate(108)" opacity=".5"/><ellipse rx="2.4" ry="1.8" transform="translate(33.5 97.7) rotate(114)" opacity=".4"/><ellipse rx="2.3" ry="1.8" transform="translate(22.2 99.4) rotate(70)" opacity=".7"/><ellipse rx="3.1" ry="1.8" transform="translate(33.3 67.9) rotate(15)" opacity=".6"/><ellipse rx="2.7" ry="1.8" transform="translate(10.5 91.5) rotate(146)" opacity=".5"/><ellipse rx="3" ry="1.5" transform="translate(37.9 72.1) rotate(104)"/><ellipse rx="2.7" ry="1.5" transform="translate(53.6 77.4) rotate(129)"/><ellipse rx="2.9" ry="1.5" transform="translate(55.7 82.1) rotate(20)"/><ellipse rx="3.1" ry="1.7" transform="translate(27.5 73.6) rotate(112)"/><ellipse rx="3.1" ry="1.7" transform="translate(39.6 88.4) rotate(48)"/><ellipse rx="3" ry="2" transform="translate(48.8 95.5) rotate(112)"/><ellipse rx="3" ry="1.5" transform="translate(15.4 93.9) rotate(164)" opacity=".6"/><ellipse rx="2.9" ry="1.6" transform="translate(10.2 99.8) rotate(81)" opacity=".5"/><ellipse rx="2.3" ry="1.8" transform="translate(46.8 92.5) rotate(89)"/><ellipse rx="2.9" ry="1.5" transform="translate(48.6 105.4) rotate(80)"/><ellipse rx="2.8" ry="1.6" transform="translate(11.4 76.4) rotate(101)" opacity=".7"/><ellipse rx="3.4" ry="1.5" transform="translate(37.2 98.5) rotate(60)" opacity=".8"/><ellipse rx="3.1" ry="2" transform="translate(19.4 71) rotate(66)"/><ellipse rx="3.4" ry="2" transform="translate(1.5 96.7) rotate(175)" opacity=".5"/><ellipse rx="2.5" ry="1.5" transform="translate(30.3 70.2) rotate(87)"/><ellipse rx="2.3" ry="1.9" transform="translate(2.3 84.8) rotate(112)" opacity=".6"/><ellipse rx="2.7" ry="1.7" transform="translate(88.5 85.7) rotate(-52)"/><ellipse rx="3.3" ry="2" transform="translate(89.8 80.9) rotate(-16)"/><ellipse rx="2.3" ry="1.6" transform="translate(95 79.7) rotate(-16)"/><ellipse rx="2.4" ry="2.1" transform="translate(96.5 75.3) rotate(-14)"/><ellipse rx="2.9" ry="1.9" transform="translate(101.5 76.1) rotate(-30)"/><ellipse rx="2.2" ry="1.6" transform="translate(102.7 70.9) rotate(-50)"/><ellipse rx="3" ry="1.8" transform="translate(106.3 68.3) rotate(-39)" opacity=".5"/><ellipse rx="2.8" ry="1.5" transform="translate(113.5 69.2) rotate(-25)"/><ellipse rx="2.5" ry="1.7" transform="translate(117.7 70.7) rotate(-26)"/><ellipse rx="2.2" ry="1.8" transform="translate(120.1 67.5) rotate(-43)"/><ellipse rx="3.1" ry="1.7" transform="translate(124.6 62.9) rotate(4)"/><ellipse rx="2.7" ry="1.7" transform="translate(128.1 64) rotate(3)"/><ellipse rx="2.6" ry="2.1" transform="translate(132.5 64) rotate(-3)" opacity=".7"/><ellipse rx="2.4" ry="2" transform="translate(134.6 60.9) rotate(-36)"/><ellipse rx="2.9" ry="1.9" transform="translate(141.3 59) rotate(-28)" opacity=".5"/><ellipse rx="2.5" ry="2" transform="translate(145.6 61.3) rotate(2)" opacity=".7"/><ellipse rx="2.4" ry="1.7" transform="translate(84.9 103.7) rotate(-56)" opacity=".4"/><ellipse rx="2.5" ry="1.9" transform="translate(89 98.6) rotate(-33)" opacity=".4"/><ellipse rx="2.7" ry="1.8" transform="translate(91.9 94.1) rotate(-44)"/><ellipse rx="2.9" ry="1.9" transform="translate(96.4 91.6) rotate(-26)" opacity=".6"/><ellipse rx="3.3" ry="1.7" transform="translate(102 94.7) rotate(-44)"/><ellipse rx="3.3" ry="1.7" transform="translate(105.6 88.4) rotate(-7)"/><ellipse rx="2.8" ry="1.8" transform="translate(108.1 86.6) rotate(-24)"/><ellipse rx="2.6" ry="1.8" transform="translate(112.8 87.6) rotate(-25)" opacity=".6"/><ellipse rx="3.1" ry="1.7" transform="translate(118.8 86.2) rotate(-11)"/><ellipse rx="2.5" ry="1.6" transform="translate(125.3 89.6) rotate(-5)" opacity=".7"/><ellipse rx="2.9" ry="2" transform="translate(129.5 86.5) rotate(15)"/><ellipse rx="2.7" ry="2.1" transform="translate(133.9 82.6) rotate(8)"/><ellipse rx="2.7" ry="1.6" transform="translate(137.6 88.4) rotate(-9)" opacity=".7"/><ellipse rx="2.5" ry="1.6" transform="translate(143.2 87.2) rotate(7)" opacity=".4"/><ellipse rx="2.5" ry="1.5" transform="translate(108.5 36.2) rotate(157)"/><ellipse rx="2.9" ry="1.9" transform="translate(121.6 36.2) rotate(148)"/><ellipse rx="2.5" ry="1.6" transform="translate(126.2 48.5) rotate(146)"/><ellipse rx="2.3" ry="1.5" transform="translate(80 52.3) rotate(139)"/><ellipse rx="3" ry="2" transform="translate(95.4 58.5) rotate(31)"/><ellipse rx="3.1" ry="1.8" transform="translate(117.8 57.7) rotate(156)" opacity=".7"/><ellipse rx="2.5" ry="1.8" transform="translate(99.3 63.9) rotate(21)" opacity=".7"/><ellipse rx="3.1" ry="2.1" transform="translate(68.5 29.2) rotate(53)"/><ellipse rx="2.8" ry="2" transform="translate(75.4 69.3) rotate(104)"/><ellipse rx="3.2" ry="1.5" transform="translate(71.6 85.4) rotate(167)"/><ellipse rx="3.3" ry="1.6" transform="translate(136.2 6.2) rotate(177)"/><ellipse rx="2.3" ry="1.9" transform="translate(69.3 3.1) rotate(176)" opacity=".8"/><ellipse rx="2.4" ry="1.9" transform="translate(80.8 77.7) rotate(29)" opacity=".4"/><ellipse rx="2.4" ry="2" transform="translate(145.5 30) rotate(177)" opacity=".7"/></g><filter id="fh35" filterUnits="userSpaceOnUse" x="-2" y="-2" width="152" height="114" color-interpolation-filters="sRGB"><feGaussianBlur in="SourceGraphic" stdDeviation=".9"/><feColorMatrix type="luminanceToAlpha" result="d"/><feTurbulence type="fractalNoise" baseFrequency=".33" numOctaves="2" seed="57" result="n"/><feColorMatrix in="n" type="matrix" values="0 0 0 0 .9 0 0 0 0 .1 0 0 0 0 .1 1 0 0 0 0" result="na"/><feComposite in="na" in2="d" operator="in"/><feComponentTransfer><feFuncA type="linear" slope="7" intercept="-3.4"/></feComponentTransfer><feGaussianBlur stdDeviation=".7"/><feComponentTransfer><feFuncA type="linear" slope="1.8" intercept="0"/></feComponentTransfer></filter><g filter="url(#fh35)"><rect x="-2" y="-2" width="152" height="114" fill="#000"/><polyline points="4.6,9.2 13.9,24.6" fill="none" stroke="#eeeeee" stroke-width="2.9" stroke-linecap="round" stroke-linejoin="round"/><polyline points="23.1,4.6 18.5,16.9" fill="none" stroke="#eeeeee" stroke-width="2.5" stroke-linecap="round" stroke-linejoin="round"/><circle cx="37.7" cy="17.7" r="3" fill="#f6f6f6"/><polyline points="46.2,90.8 55.4,100.1" fill="none" stroke="#f6f6f6" stroke-width="6.2" stroke-linecap="round" stroke-linejoin="round"/><polyline points="98.5,93.1 107.7,90.8 117,90.8" fill="none" stroke="#f6f6f6" stroke-width="2.9" stroke-linecap="round" stroke-linejoin="round"/><polyline points="58.5,27.7 64.6,58.5" fill="none" stroke="#e5e5e5" stroke-width="2.5" stroke-linecap="round" stroke-linejoin="round"/><polyline points="27.7,61.6 46.2,72.3" fill="none" stroke="#e5e5e5" stroke-width="2.9" stroke-linecap="round" stroke-linejoin="round"/><polyline points="32.3,106.2 40,95.4" fill="none" stroke="#eeeeee" stroke-width="3.3" stroke-linecap="round" stroke-linejoin="round"/><circle cx="130.8" cy="101.6" r="1.9" fill="#ffffff"/></g><g opacity=".13" filter="url(#blur2)"><polyline points="4.6,9.2 13.9,24.6" fill="none" stroke="#c8101c" stroke-width="3.2" stroke-linecap="round" stroke-linejoin="round"/><polyline points="23.1,4.6 18.5,16.9" fill="none" stroke="#c8101c" stroke-width="2.8" stroke-linecap="round" stroke-linejoin="round"/><circle cx="37.7" cy="17.7" r="3.2" fill="#c8101c"/><polyline points="46.2,90.8 55.4,100.1" fill="none" stroke="#c8101c" stroke-width="6.9" stroke-linecap="round" stroke-linejoin="round"/><polyline points="98.5,93.1 107.7,90.8 117,90.8" fill="none" stroke="#c8101c" stroke-width="3.2" stroke-linecap="round" stroke-linejoin="round"/><polyline points="32.3,106.2 40,95.4" fill="none" stroke="#c8101c" stroke-width="3.7" stroke-linecap="round" stroke-linejoin="round"/><circle cx="130.8" cy="101.6" r="2" fill="#c8101c"/></g><text class="w" x="141.8" y="100.1" text-anchor="end" style="font-size:12.3px">40 µm</text><rect x="118.8" y="104.7" width="22.8" height="1.8" fill="#fff"/></g>
</g>

</svg>
</body></html>
